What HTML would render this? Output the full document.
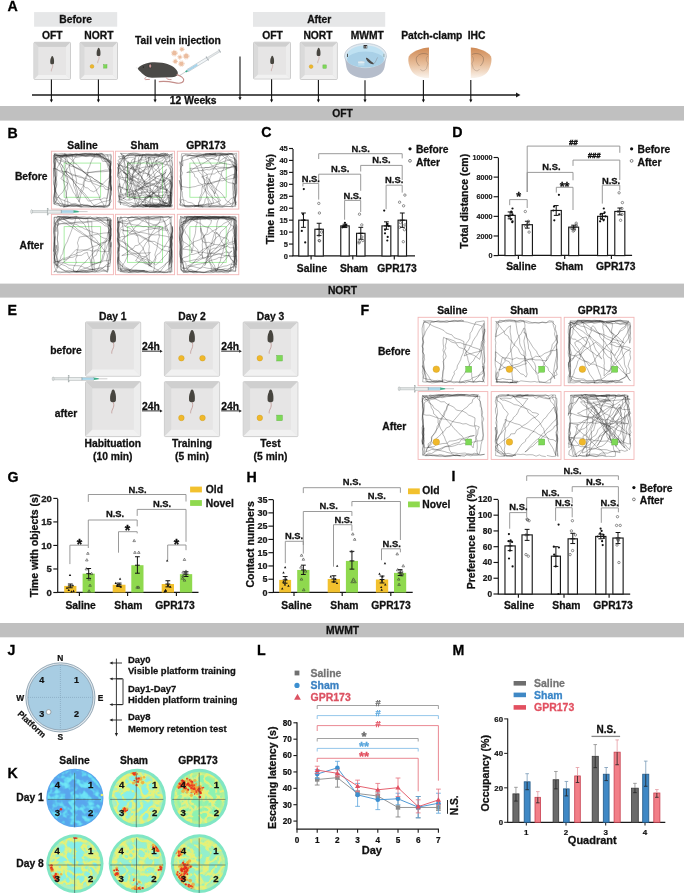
<!DOCTYPE html>
<html><head><meta charset="utf-8"><style>
html,body{margin:0;padding:0;background:#fff;}
svg{display:block;font-family:"Liberation Sans", sans-serif;will-change:transform;}
</style></head><body>
<svg width="685" height="896" viewBox="0 0 685 896">
<defs>
<filter id="blur1" x="-20%" y="-20%" width="140%" height="140%"><feGaussianBlur stdDeviation="0.9"/></filter>
<filter id="blur2" x="-20%" y="-20%" width="140%" height="140%"><feGaussianBlur stdDeviation="0.5"/></filter>
<linearGradient id="brain" x1="0" y1="0" x2="0" y2="1"><stop offset="0" stop-color="#cf8a55"/><stop offset="0.55" stop-color="#e8bf9c"/><stop offset="1" stop-color="#faf3ec"/></linearGradient>
</defs>
<rect width="685" height="896" fill="#fff"/>
<text x="7.60" y="10.90" font-size="14.2" text-anchor="start" fill="#000" stroke="#000" stroke-width="0.28" font-weight="bold" >A</text>
<rect x="34.10" y="12.10" width="83.10" height="14.60" fill="#e6e7e8" stroke="none" stroke-width="1" />
<text x="75.60" y="23.30" font-size="10.3" text-anchor="middle" fill="#111" stroke="#111" stroke-width="0.28" font-weight="bold" >Before</text>
<rect x="253.00" y="12.00" width="132.20" height="14.80" fill="#e6e7e8" stroke="none" stroke-width="1" />
<text x="319.20" y="23.30" font-size="10.3" text-anchor="middle" fill="#111" stroke="#111" stroke-width="0.28" font-weight="bold" >After</text>
<text x="52.20" y="39.20" font-size="10.3" text-anchor="middle" fill="#111" stroke="#111" stroke-width="0.28" font-weight="bold" >OFT</text>
<text x="98.90" y="39.20" font-size="10.3" text-anchor="middle" fill="#111" stroke="#111" stroke-width="0.28" font-weight="bold" >NORT</text>
<text x="272.60" y="39.20" font-size="10.3" text-anchor="middle" fill="#111" stroke="#111" stroke-width="0.28" font-weight="bold" >OFT</text>
<text x="318.00" y="39.20" font-size="10.3" text-anchor="middle" fill="#111" stroke="#111" stroke-width="0.28" font-weight="bold" >NORT</text>
<text x="367.30" y="39.20" font-size="10.3" text-anchor="middle" fill="#111" stroke="#111" stroke-width="0.28" font-weight="bold" >MWMT</text>
<text x="431.80" y="39.20" font-size="10.3" text-anchor="middle" fill="#111" stroke="#111" stroke-width="0.28" font-weight="bold" >Patch-clamp</text>
<text x="476.50" y="39.20" font-size="10.3" text-anchor="middle" fill="#111" stroke="#111" stroke-width="0.28" font-weight="bold" >IHC</text>
<text x="177.90" y="43.60" font-size="10.3" text-anchor="middle" fill="#111" stroke="#111" stroke-width="0.28" font-weight="bold" >Tail vein injection</text>
<rect x="33.90" y="42.30" width="36.60" height="37.10" fill="#e2e2e2" stroke="#c4c4c4" stroke-width="0.8" rx="1"/>
<path d="M34.4,42.8 L70.0,42.8 L65.9,46.9 L38.5,46.9 Z" fill="#cfcfcf" stroke="none" stroke-width="1" />
<path d="M34.4,42.8 L38.5,46.9 L38.5,74.80000000000001 L34.4,78.9 Z" fill="#dadada" stroke="none" stroke-width="1" />
<path d="M70.0,42.8 L70.0,78.9 L65.9,74.80000000000001 L65.9,46.9 Z" fill="#ededed" stroke="none" stroke-width="1" />
<path d="M34.4,78.9 L38.5,74.80000000000001 L65.9,74.80000000000001 L70.0,78.9 Z" fill="#f1f1f1" stroke="none" stroke-width="1" />
<rect x="38.50" y="46.90" width="27.40" height="27.90" fill="#e6e5e5" stroke="none" stroke-width="1" />
<path d="M52.20,56.00 C53.04,56.14 53.32,57.05 53.46,57.75 C54.09,58.80 54.23,61.60 53.95,63.42 C53.25,64.54 51.15,64.54 50.38,63.42 C50.10,61.60 50.24,58.80 51.08,57.75 C51.22,56.98 51.50,56.14 52.20,56.00 Z" fill="#47453f" stroke="none" stroke-width="1" />
<path d="M52.41,64.26 C52.90,66.15 52.62,67.20 51.92,68.60 C51.36,69.65 51.22,70.70 51.36,71.40" fill="none" stroke="#b98a86" stroke-width="0.52" />
<rect x="80.00" y="42.30" width="37.50" height="37.10" fill="#e2e2e2" stroke="#c4c4c4" stroke-width="0.8" rx="1"/>
<path d="M80.5,42.8 L117.0,42.8 L112.9,46.9 L84.6,46.9 Z" fill="#cfcfcf" stroke="none" stroke-width="1" />
<path d="M80.5,42.8 L84.6,46.9 L84.6,74.80000000000001 L80.5,78.9 Z" fill="#dadada" stroke="none" stroke-width="1" />
<path d="M117.0,42.8 L117.0,78.9 L112.9,74.80000000000001 L112.9,46.9 Z" fill="#ededed" stroke="none" stroke-width="1" />
<path d="M80.5,78.9 L84.6,74.80000000000001 L112.9,74.80000000000001 L117.0,78.9 Z" fill="#f1f1f1" stroke="none" stroke-width="1" />
<rect x="84.60" y="46.90" width="28.30" height="27.90" fill="#e6e5e5" stroke="none" stroke-width="1" />
<path d="M98.60,47.80 C99.44,47.94 99.72,48.85 99.86,49.55 C100.49,50.60 100.63,53.40 100.35,55.22 C99.65,56.34 97.55,56.34 96.78,55.22 C96.50,53.40 96.64,50.60 97.48,49.55 C97.62,48.78 97.90,47.94 98.60,47.80 Z" fill="#47453f" stroke="none" stroke-width="1" />
<path d="M98.81,56.06 C99.30,57.95 99.02,59.00 98.32,60.40 C97.76,61.45 97.62,62.50 97.76,63.20" fill="none" stroke="#b98a86" stroke-width="0.52" />
<circle cx="92.0" cy="66.4" r="1.9" fill="#f0b82a" stroke="#c89a20" stroke-width="0.4"/>
<rect x="103.60" y="64.70" width="3.40" height="3.40" fill="#7ed957" stroke="#5cb040" stroke-width="0.4" />
<rect x="253.50" y="42.20" width="37.00" height="36.80" fill="#e2e2e2" stroke="#c4c4c4" stroke-width="0.8" rx="1"/>
<path d="M254.0,42.7 L290.0,42.7 L285.9,46.800000000000004 L258.1,46.800000000000004 Z" fill="#cfcfcf" stroke="none" stroke-width="1" />
<path d="M254.0,42.7 L258.1,46.800000000000004 L258.1,74.4 L254.0,78.5 Z" fill="#dadada" stroke="none" stroke-width="1" />
<path d="M290.0,42.7 L290.0,78.5 L285.9,74.4 L285.9,46.800000000000004 Z" fill="#ededed" stroke="none" stroke-width="1" />
<path d="M254.0,78.5 L258.1,74.4 L285.9,74.4 L290.0,78.5 Z" fill="#f1f1f1" stroke="none" stroke-width="1" />
<rect x="258.10" y="46.80" width="27.80" height="27.60" fill="#e6e5e5" stroke="none" stroke-width="1" />
<path d="M272.20,55.80 C273.04,55.94 273.32,56.85 273.46,57.55 C274.09,58.60 274.23,61.40 273.95,63.22 C273.25,64.34 271.15,64.34 270.38,63.22 C270.10,61.40 270.24,58.60 271.08,57.55 C271.22,56.78 271.50,55.94 272.20,55.80 Z" fill="#47453f" stroke="none" stroke-width="1" />
<path d="M272.41,64.06 C272.90,65.95 272.62,67.00 271.92,68.40 C271.36,69.45 271.22,70.50 271.36,71.20" fill="none" stroke="#b98a86" stroke-width="0.52" />
<rect x="300.20" y="42.20" width="37.10" height="37.30" fill="#e2e2e2" stroke="#c4c4c4" stroke-width="0.8" rx="1"/>
<path d="M300.7,42.7 L336.8,42.7 L332.7,46.800000000000004 L304.8,46.800000000000004 Z" fill="#cfcfcf" stroke="none" stroke-width="1" />
<path d="M300.7,42.7 L304.8,46.800000000000004 L304.8,74.9 L300.7,79.0 Z" fill="#dadada" stroke="none" stroke-width="1" />
<path d="M336.8,42.7 L336.8,79.0 L332.7,74.9 L332.7,46.800000000000004 Z" fill="#ededed" stroke="none" stroke-width="1" />
<path d="M300.7,79.0 L304.8,74.9 L332.7,74.9 L336.8,79.0 Z" fill="#f1f1f1" stroke="none" stroke-width="1" />
<rect x="304.80" y="46.80" width="27.90" height="28.10" fill="#e6e5e5" stroke="none" stroke-width="1" />
<path d="M318.60,47.80 C319.44,47.94 319.72,48.85 319.86,49.55 C320.49,50.60 320.63,53.40 320.35,55.22 C319.65,56.34 317.55,56.34 316.78,55.22 C316.50,53.40 316.64,50.60 317.48,49.55 C317.62,48.78 317.90,47.94 318.60,47.80 Z" fill="#47453f" stroke="none" stroke-width="1" />
<path d="M318.81,56.06 C319.30,57.95 319.02,59.00 318.32,60.40 C317.76,61.45 317.62,62.50 317.76,63.20" fill="none" stroke="#b98a86" stroke-width="0.52" />
<circle cx="311.1" cy="66.6" r="1.9" fill="#f0b82a" stroke="#c89a20" stroke-width="0.4"/>
<rect x="322.90" y="64.90" width="3.40" height="3.40" fill="#7ed957" stroke="#5cb040" stroke-width="0.4" />
<line x1="32.00" y1="95.10" x2="517.00" y2="95.10" stroke="#1a1a1a" stroke-width="1.5" />
<path d="M516,92.6 L520.5,95.1 L516,97.6 Z" fill="#1a1a1a" stroke="none" stroke-width="1" />
<line x1="51.40" y1="79.60" x2="51.40" y2="99.90" stroke="#111" stroke-width="1.1" />
<path d="M49.80,99.40 L53.00,99.40 L51.40,102.40 Z" fill="#111" stroke="none" stroke-width="1" />
<line x1="98.40" y1="79.60" x2="98.40" y2="99.90" stroke="#111" stroke-width="1.1" />
<path d="M96.80,99.40 L100.00,99.40 L98.40,102.40 Z" fill="#111" stroke="none" stroke-width="1" />
<line x1="155.10" y1="79.50" x2="155.10" y2="99.90" stroke="#111" stroke-width="1.1" />
<path d="M153.50,99.40 L156.70,99.40 L155.10,102.40 Z" fill="#111" stroke="none" stroke-width="1" />
<line x1="271.60" y1="79.20" x2="271.60" y2="99.90" stroke="#111" stroke-width="1.1" />
<path d="M270.00,99.40 L273.20,99.40 L271.60,102.40 Z" fill="#111" stroke="none" stroke-width="1" />
<line x1="318.40" y1="80.00" x2="318.40" y2="99.90" stroke="#111" stroke-width="1.1" />
<path d="M316.80,99.40 L320.00,99.40 L318.40,102.40 Z" fill="#111" stroke="none" stroke-width="1" />
<line x1="365.00" y1="80.20" x2="365.00" y2="99.90" stroke="#111" stroke-width="1.1" />
<path d="M363.40,99.40 L366.60,99.40 L365.00,102.40 Z" fill="#111" stroke="none" stroke-width="1" />
<line x1="423.40" y1="80.00" x2="423.40" y2="99.90" stroke="#111" stroke-width="1.1" />
<path d="M421.80,99.40 L425.00,99.40 L423.40,102.40 Z" fill="#111" stroke="none" stroke-width="1" />
<line x1="470.80" y1="80.00" x2="470.80" y2="99.90" stroke="#111" stroke-width="1.1" />
<path d="M469.20,99.40 L472.40,99.40 L470.80,102.40 Z" fill="#111" stroke="none" stroke-width="1" />
<line x1="240.00" y1="56.40" x2="240.00" y2="97.70" stroke="#111" stroke-width="1.1" />
<path d="M238.40,97.20 L241.60,97.20 L240.00,100.20 Z" fill="#111" stroke="none" stroke-width="1" />
<text x="193.20" y="103.50" font-size="10.3" text-anchor="middle" fill="#111" stroke="#111" stroke-width="0.28" font-weight="bold" >12 Weeks</text>
<path d="M137.8,68.4 C138.8,66.4 142.0,64.4 146.0,63.4 C150.5,61.9 156.5,62.0 162.0,62.8 C169.5,63.8 176.0,67.4 177.6,71.8 C178.6,75.2 176.2,77.0 172.0,77.3 L152.0,77.7 C147.0,77.7 143.0,74.6 141.0,72.2 C139.6,70.6 137.8,69.6 137.8,68.4 Z" fill="#4b4a47" stroke="none" stroke-width="1" />
<path d="M146,77.2 C145,78.2 144.2,79.2 145.5,79.6 L149.8,79.4" fill="none" stroke="#c99896" stroke-width="1.0" />
<path d="M166,77.2 C166.6,78.8 167.8,79.8 171.5,79.6" fill="none" stroke="#c99896" stroke-width="1.0" />
<ellipse cx="150.0" cy="65.6" rx="1.9" ry="2.7" fill="#3e3d3a"/>
<ellipse cx="150.2" cy="66.0" rx="1.1" ry="1.8" fill="#c99494"/>
<circle cx="143.4" cy="67.0" r="0.6" fill="#151515"/>
<path d="M176.6,74.6 C180.5,75.6 184.6,78.4 183.6,80.8 C182.6,83.4 178.6,83.6 174.5,82.6 C170.0,81.6 164.0,81.0 158.8,81.6" fill="none" stroke="#c48e8a" stroke-width="1.1" />
<line x1="137.90" y1="68.30" x2="135.90" y2="67.60" stroke="#bbb" stroke-width="0.3" />
<circle cx="174.4" cy="53.2" r="2.4" fill="#ebbd9f"/>
<circle cx="174.4" cy="53.2" r="2.9" fill="none" stroke="#ebbd9f" stroke-width="0.9" stroke-dasharray="0.7 0.8"/>
<circle cx="181.9" cy="49.2" r="1.8" fill="#ebbd9f"/>
<circle cx="181.9" cy="49.2" r="2.2" fill="none" stroke="#ebbd9f" stroke-width="0.9" stroke-dasharray="0.7 0.8"/>
<circle cx="186.2" cy="56.2" r="2.4" fill="#ebbd9f"/>
<circle cx="186.2" cy="56.2" r="2.9" fill="none" stroke="#ebbd9f" stroke-width="0.9" stroke-dasharray="0.7 0.8"/>
<circle cx="179.9" cy="57.1" r="1.7" fill="#ebbd9f"/>
<circle cx="179.9" cy="57.1" r="2.1" fill="none" stroke="#ebbd9f" stroke-width="0.9" stroke-dasharray="0.7 0.8"/>
<circle cx="175.3" cy="61.4" r="1.8" fill="#ebbd9f"/>
<circle cx="175.3" cy="61.4" r="2.2" fill="none" stroke="#ebbd9f" stroke-width="0.9" stroke-dasharray="0.7 0.8"/>
<circle cx="181.4" cy="63.7" r="2.3" fill="#ebbd9f"/>
<circle cx="181.4" cy="63.7" r="2.8" fill="none" stroke="#ebbd9f" stroke-width="0.9" stroke-dasharray="0.7 0.8"/>
<g transform="translate(179.6,75.5) rotate(-31.5)">
<line x1="0.00" y1="0.00" x2="7.00" y2="0.00" stroke="#a0a6aa" stroke-width="0.5" />
<line x1="7.00" y1="0.00" x2="9.50" y2="0.00" stroke="#3aa88c" stroke-width="1.6" />
<rect x="9.50" y="-1.30" width="23.00" height="2.60" fill="#f2f6f8" stroke="#a0a8ae" stroke-width="0.45" />
<rect x="9.80" y="-0.95" width="11.00" height="1.90" fill="#a7d4ea" stroke="none" stroke-width="1" />
<line x1="32.50" y1="-2.40" x2="32.50" y2="2.40" stroke="#a0a8ae" stroke-width="0.9" />
<rect x="32.50" y="-0.90" width="14.50" height="1.80" fill="#e4e8ea" stroke="#a8aeb2" stroke-width="0.35" />
<line x1="47.00" y1="-1.90" x2="47.00" y2="1.90" stroke="#a8aeb2" stroke-width="1.0" />
</g>
<path d="M344.6,55.8 L346.4,67.0 C347.5,74.2 356,78.2 365.5,78.2 C375,78.2 383.5,74.2 384.6,67.0 L386.5,55.8 Z" fill="#b5bdcb" stroke="none" stroke-width="1" />
<ellipse cx="365.5" cy="55.8" rx="20.9" ry="12.4" fill="#dfe9f0" stroke="#b0bac6" stroke-width="0.6"/>
<ellipse cx="365.5" cy="56.4" rx="19.2" ry="10.8" fill="#bfe1f2"/>
<ellipse cx="365.5" cy="59.6" rx="18.4" ry="8.0" fill="#a9d0e7"/>
<ellipse cx="361.3" cy="62.4" rx="3.3" ry="1.1" fill="#f6f8fa" stroke="#b8c0c8" stroke-width="0.3"/>
<rect x="358.20" y="62.40" width="6.20" height="3.20" fill="#c8e2f0" stroke="none" stroke-width="1" opacity="0.7"/>
<path d="M366.0,57.8 C367.6,57.6 369.4,59.6 371.0,61.2 C372.4,62.4 374.2,63.0 373.8,64.2 C372.0,64.8 369.6,63.4 368.0,61.8 C366.8,60.4 365.6,58.8 366.0,57.8 Z" fill="#4d4a48" stroke="none" stroke-width="1" />
<path d="M373.8,63.6 C375.6,62.8 376.0,60.0 377.6,57.4" fill="none" stroke="#7a6a6a" stroke-width="0.35" />
<rect x="363.60" y="45.00" width="3.60" height="3.40" fill="#222" stroke="none" stroke-width="1" />
<rect x="364.50" y="45.90" width="0.90" height="0.80" fill="#fff" stroke="none" stroke-width="1" />
<rect x="366.00" y="45.90" width="0.90" height="0.80" fill="#fff" stroke="none" stroke-width="1" />
<rect x="364.50" y="47.40" width="0.90" height="0.80" fill="#fff" stroke="none" stroke-width="1" />
<rect x="366.00" y="47.40" width="0.90" height="0.80" fill="#fff" stroke="none" stroke-width="1" />
<rect x="347.00" y="53.80" width="0.90" height="3.20" fill="#444" stroke="none" stroke-width="1" />
<rect x="383.40" y="53.80" width="1.00" height="3.20" fill="#9aa" stroke="none" stroke-width="1" />
<path d="M429.0,47.6 C421.5,48.0 412.0,51.5 408.8,56.5 C407.5,60.5 409.0,67.0 412.0,71.5 C415.0,75.5 420.0,78.2 429.0,78.0 Z" fill="url(#brain)" stroke="none" stroke-width="1" />
<path d="M428,54.5 C424,52.5 418.5,53.5 416.5,57.5 C415.5,61 417.5,64 419.5,66" fill="none" stroke="#5a4a40" stroke-width="0.35" />
<path d="M428,56.0 C425.5,57.5 426,61.5 428,63.0 L426.5,68.5 C424,72 421,71 420.5,69" fill="none" stroke="#7a6a60" stroke-width="0.3" />
<path d="M470.8,47.6 C478.3,48.0 487.8,51.5 491.0,56.5 C492.3,60.5 490.8,67.0 487.8,71.5 C484.8,75.5 479.8,78.2 470.8,78.0 Z" fill="url(#brain)" stroke="none" stroke-width="1" />
<path d="M471.8,54.5 C475.8,52.5 481.3,53.5 483.3,57.5 C484.3,61 482.3,64 480.3,66" fill="none" stroke="#5a4a40" stroke-width="0.35" />
<path d="M471.8,56.0 C474.3,57.5 473.8,61.5 471.8,63.0 L473.3,68.5 C475.8,72 478.8,71 479.3,69" fill="none" stroke="#7a6a60" stroke-width="0.3" />
<rect x="0.00" y="106.00" width="684.00" height="14.60" fill="#c0c0c0" stroke="none" stroke-width="1" />
<text x="342.50" y="117.20" font-size="10.3" text-anchor="middle" fill="#111" stroke="#111" stroke-width="0.28" font-weight="bold" >OFT</text>
<rect x="0.00" y="283.60" width="684.00" height="14.00" fill="#c0c0c0" stroke="none" stroke-width="1" />
<text x="342.50" y="294.20" font-size="10.3" text-anchor="middle" fill="#111" stroke="#111" stroke-width="0.28" font-weight="bold" >NORT</text>
<rect x="0.00" y="623.00" width="684.00" height="14.30" fill="#c0c0c0" stroke="none" stroke-width="1" />
<text x="342.50" y="633.90" font-size="10.3" text-anchor="middle" fill="#111" stroke="#111" stroke-width="0.28" font-weight="bold" >MWMT</text>
<text x="7.60" y="137.60" font-size="14.2" text-anchor="start" fill="#000" stroke="#000" stroke-width="0.28" font-weight="bold" >B</text>
<text x="82.50" y="148.90" font-size="10.3" text-anchor="middle" fill="#111" stroke="#111" stroke-width="0.28" font-weight="bold" >Saline</text>
<text x="144.60" y="148.90" font-size="10.3" text-anchor="middle" fill="#111" stroke="#111" stroke-width="0.28" font-weight="bold" >Sham</text>
<text x="205.90" y="148.90" font-size="10.3" text-anchor="middle" fill="#111" stroke="#111" stroke-width="0.28" font-weight="bold" >GPR173</text>
<text x="31.20" y="180.40" font-size="10.3" text-anchor="middle" fill="#111" stroke="#111" stroke-width="0.28" font-weight="bold" >Before</text>
<text x="31.60" y="249.00" font-size="10.3" text-anchor="middle" fill="#111" stroke="#111" stroke-width="0.28" font-weight="bold" >After</text>
<rect x="51.40" y="151.20" width="62.00" height="57.90" fill="#fff" stroke="#f2b6b6" stroke-width="0.9" />
<rect x="64.11" y="163.07" width="36.58" height="34.16" fill="none" stroke="#8fe88a" stroke-width="0.75" />
<path d="M106.7,154.9 L110.9,154.2 L111.4,156.9 L111.0,160.7 L110.8,164.9 L110.1,168.1 L110.8,171.4 L110.9,174.3 L110.9,178.3 L111.3,181.1 L110.8,183.9 L110.8,187.2 L111.0,191.5 L109.9,195.6 L109.6,199.5 L109.9,202.6 L108.0,207.0 L104.1,207.1 L100.1,205.9 L97.4,206.1 L94.1,206.4 L91.6,206.6 L87.4,204.8 L84.0,205.5 L81.8,204.7 L77.6,205.7 L74.8,204.8 L71.2,204.4 L67.0,206.5 L63.2,207.1 L66.8,206.1 L70.7,206.7 L73.2,206.1 L76.6,205.8 L80.2,205.1 L83.2,204.3 L88.1,205.8 L91.3,206.9 L94.7,205.1 L97.4,204.1 L100.3,202.6 L103.0,201.7 L106.8,201.0 L110.0,199.9 L109.9,196.4 L109.5,193.2 L110.7,189.4 L110.0,185.7 L110.1,182.4 L110.6,178.7 L109.9,175.8 L110.2,171.9 L109.8,167.3 L109.9,164.1 L109.7,160.7 L106.1,159.1 L102.9,156.6 L99.4,154.7 L96.2,154.4 L91.7,153.4 L87.3,153.8 L83.4,153.5 L79.1,153.9 L74.7,154.3 L71.4,155.5 L68.4,156.1 L65.4,156.8 L61.1,157.3 L58.8,157.7 L54.6,158.9 L59.2,155.7 L62.7,154.7 L66.3,155.3 L69.0,155.9 L72.3,154.8 L72.4,158.3 L73.9,161.9 L73.1,164.6 L74.1,168.1 L74.9,172.2 L75.4,174.9 L76.4,179.3 L76.4,181.4 L75.6,185.9 L76.5,188.4 L77.5,191.9 L77.7,195.0 L79.1,198.2 L79.0,202.0 L79.9,199.0 L80.6,195.5 L81.7,192.3 L83.6,189.0 L83.9,185.8 L84.2,182.6 L85.4,179.6 L87.3,175.8 L88.3,172.5 L91.0,172.3 L94.7,171.6 L98.2,171.2 L101.4,170.8 L105.3,170.1 L108.2,170.1 L111.0,169.4 L110.2,172.5 L110.7,175.9 L110.4,178.6 L110.0,182.5 L109.8,178.7 L110.4,173.9 L109.6,170.3 L109.8,167.3 L108.4,164.1 L107.9,161.0 L108.4,157.7 L107.3,154.6 L104.3,154.3 L101.2,153.9 L97.2,154.8 L94.4,154.8 L90.0,153.3 L87.3,153.4 L83.7,153.4 L80.4,153.9 L76.3,155.1 L79.8,155.2 L82.9,155.6 L85.9,155.7 L90.0,154.7 L95.0,157.0 L98.9,157.7 L101.9,157.9 L106.0,158.9 L109.1,159.3 L109.3,162.2 L109.1,166.4 L109.4,169.7 L110.3,173.0 L110.5,175.9 L110.2,179.4 L109.7,182.5 L110.5,186.1 L110.0,190.5 L111.1,194.0 L110.1,197.2 L111.3,201.3 L108.9,204.7 L106.2,206.9 L102.5,206.6 L98.5,206.8 L94.8,206.2 L91.9,206.6 L88.0,205.7 L84.3,205.7 L81.7,206.8 L76.8,205.9 L73.1,206.1 L70.7,205.5 L66.3,206.2 L63.9,205.9 L60.1,206.4 L58.3,203.3 L55.1,201.4 L53.6,197.7 L54.1,194.7 L54.7,189.8 L54.3,186.9 L55.2,183.1 L55.5,179.0 L56.0,174.8 L56.2,171.2 L55.1,167.8 L55.5,164.6 L55.6,160.3 L54.7,156.8 L54.7,153.2 L60.3,156.2 L63.8,155.3 L67.0,156.6 L70.1,155.2 L74.0,155.8 L76.7,156.0 L80.8,155.0 L84.3,155.0 L86.4,155.4 L90.7,154.7 L93.1,155.3 L96.2,155.3 L100.5,154.7 L103.0,154.2 L105.1,156.8 L107.7,160.5 L110.1,163.2 L109.7,166.4 L110.0,169.3 L110.1,173.9 L109.4,176.7 L109.8,179.9 L109.1,183.0 L108.6,186.9 L108.2,190.9 L107.6,194.6 L106.9,197.5 L106.3,202.3 L105.6,205.8 L101.4,206.3 L98.8,206.4 L95.3,206.1 L91.1,206.5 L88.4,207.1 L84.2,207.1 L80.4,207.1 L76.4,205.7 L73.9,205.8 L71.2,205.3 L67.1,204.8 L65.2,204.8 L61.3,204.3 L59.1,201.9 L56.8,199.0 L54.5,197.3 L54.6,194.0 L54.5,190.3 L54.6,187.8 L54.1,184.7 L53.4,181.0 L53.4,178.9 L53.6,174.6 L53.9,171.1 L53.4,168.4 L56.6,169.1 L59.5,171.4 L62.1,172.9 L65.0,175.2 L68.1,176.9 L70.9,178.9 L73.4,179.6 L75.8,182.1 L79.1,183.9 L82.2,184.6 L85.5,187.6 L87.8,188.0 L90.4,190.5 L93.7,191.8 L96.9,189.9 L98.9,187.4 L101.2,185.3 L103.7,182.9 L105.9,180.8 L108.4,178.2 L110.6,176.2 L110.7,179.7 L110.6,183.7 L111.4,187.3 L111.4,190.8 L111.4,187.4 L111.1,184.9 L110.8,180.8 L111.1,176.7 L110.1,174.4 L110.5,170.2 L110.3,167.3 L110.5,163.5 L108.5,161.3 L106.6,158.7 L104.4,155.6 L102.3,153.6 L99.4,153.2 L95.9,154.7 L92.3,155.9 L89.4,155.8 L85.9,156.4 L82.7,155.0 L78.9,154.5 L75.9,154.3 L72.7,155.0 L68.8,155.7 L65.8,155.4 L62.4,156.5 L59.0,156.0 L55.9,156.9 L56.2,160.9 L55.4,164.0 L55.0,167.4 L54.6,169.9 L55.6,173.5 L56.0,176.7 L55.3,180.8 L56.1,183.8 L56.0,186.8 L55.8,190.0 L56.1,193.3 L55.6,196.4 L54.5,200.5 L54.4,203.6 L56.3,200.8 L57.6,197.9 L59.6,195.0 L62.3,192.7 L64.4,189.1 L65.9,186.4 L67.8,183.2 L64.2,181.1 L60.8,178.5 L62.4,176.1 L64.5,172.8 L67.0,169.3 L68.8,166.6 L70.2,163.9 L72.6,161.0 L74.3,158.7 L76.6,155.4 L73.6,155.2 L69.8,154.5 L67.9,155.2 L63.8,155.7 L60.2,156.0 L57.7,155.4 L53.5,155.5 L54.6,157.2 L58.1,161.8 L59.0,162.8 L61.7,164.9 L64.6,169.2 L65.6,171.9 L67.7,174.9 L70.2,176.8 L72.4,179.5 L73.8,182.3 L75.6,184.6 L78.2,187.6 L79.3,190.3 L82.3,192.9 L84.6,195.9 L86.3,198.4 L88.3,201.1 L90.8,200.8 L95.0,199.6 L98.0,199.3 L100.9,199.5 L103.9,197.9 L107.4,198.4 L107.8,195.0 L108.5,192.1 L108.2,188.3 L109.1,185.1 L109.2,181.2 L110.3,178.2 L110.0,175.0 L110.2,171.7 L110.5,168.3 L110.6,162.9 L107.5,161.2 L105.4,159.3 L101.6,156.7 L99.9,154.9 L96.3,153.4 L98.7,155.4 L101.6,156.7 L105.3,159.1 L108.0,160.9 L110.9,161.8 L110.9,164.8 L109.9,169.1 L110.3,172.6 L109.4,174.6 L109.3,179.3 L109.2,183.3 L109.4,186.0 L109.0,189.9 L105.3,189.2 L103.6,186.5 L100.0,186.1 L96.6,184.7 L93.8,183.7 L90.9,181.5 L88.7,181.6 L84.9,180.3 L83.2,178.0 L79.1,177.2 L76.6,176.0 L72.7,175.5 L70.2,174.0 L68.4,172.1 L64.4,171.2 L66.9,173.9 L68.8,176.2 L71.3,179.2 L73.5,181.1 L74.5,183.1 L77.0,186.5 L79.8,188.8 L81.9,191.1 L84.7,193.6 L86.9,196.5 L88.7,198.9 L90.7,201.4 L92.8,204.3 L95.1,206.2 L100.6,207.0 L104.2,207.1 L109.5,205.5 L110.0,202.2 L110.4,198.7 L110.8,194.8 L110.7,190.9 L111.1,187.6 L110.1,185.1 L110.1,181.0 L110.8,177.7 L110.5,174.9 L111.0,170.4 L110.4,167.8 L110.5,164.5 L111.0,161.0 L106.9,160.0 L104.6,158.1 L99.8,156.4 L94.4,154.1 L94.1,157.4 L92.4,159.1 L90.6,163.1 L89.6,166.5 L87.9,169.8 L87.6,173.5 L85.8,176.7 L84.5,179.6 L83.2,182.9 L83.5,185.5 L81.8,188.1 L79.8,193.1 L78.8,195.3 L77.7,198.2 L76.6,195.6 L75.9,191.4 L75.3,189.7 L73.4,185.1 L73.5,182.3 L72.6,178.5 L72.3,176.2 L70.9,173.3 L69.9,170.3 L69.4,166.8 L69.2,163.9 L67.5,160.9 L66.5,157.0 L66.2,154.1 L61.8,153.4 L58.2,154.0 L54.6,154.1 L54.6,157.3 L54.7,161.3 L54.3,164.6 L53.8,167.4 L53.4,171.3 L53.9,174.1 L55.7,177.4 L56.8,181.2 L56.9,184.9 L55.2,189.3 L54.6,192.7 L54.1,197.5 L53.7,201.5 L56.9,203.6 L61.6,203.7 L64.3,204.2 L68.1,206.1 L67.8,201.9 L67.4,199.6 L66.1,195.6 L66.2,193.0 L65.1,189.3 L64.9,186.1 L64.1,183.4 L63.4,179.4 L63.0,176.3 L63.0,173.3 L61.5,169.3 L62.7,166.0 L60.4,163.1 L60.7,159.9 L59.7,156.4 L62.6,157.1 L65.6,159.3 L67.9,161.7 L70.1,163.5 L73.5,165.9 L76.1,167.6 L78.8,168.4 L81.6,170.0 L84.0,172.3 L87.1,173.9 L88.7,176.1 L92.1,177.1 L94.3,179.2 L97.5,181.0 L100.0,183.1 L102.7,184.4 L105.5,186.4 L107.8,187.5 L110.8,189.4 L110.6,185.8 L110.3,181.6 L110.5,178.3 L110.3,175.8 L110.9,171.8 L110.5,167.9 L108.1,165.0 L106.4,161.5 L102.6,161.3 L100.8,157.5 L98.8,154.8 L95.4,153.8 L92.0,154.0 L89.0,154.8 L85.2,153.7 L82.3,154.3 L78.8,154.7 L75.7,153.9 L72.7,154.3 L69.7,155.3 L65.4,155.6 L62.6,156.7 L58.5,157.0 L55.1,158.1 L54.2,161.4 L54.6,164.7 L54.1,168.6 L54.2,172.6 L53.8,175.6 L54.5,179.4 L53.9,182.8 L54.9,187.8 L55.2,191.2 L55.1,196.9 L59.1,197.8 L61.8,199.6 L66.2,201.3 L68.9,202.2 L71.7,203.9 L75.1,203.3 L79.2,205.2 L82.2,204.9 L84.5,206.0 L88.8,206.8 L93.0,207.1 L96.2,207.0 L99.1,205.8 L103.0,205.3 L106.8,205.5 L109.9,205.1 L109.1,203.4 L109.3,201.1 L110.3,197.0 L111.3,193.9 L111.3,190.4 L111.4,188.3 L110.6,183.4 L110.4,180.3 L109.5,177.0 L109.7,173.7 L109.7,170.5 L108.1,167.8 L106.9,163.3 L105.2,160.8 L103.3,156.7 L101.7,153.3 L98.1,153.9 L93.9,154.2 L90.8,154.6 L87.1,154.7 L83.4,155.1 L79.6,156.0 L76.5,155.9 L73.3,156.0 L69.7,156.3 L65.4,155.8 L61.9,155.7 L57.6,155.6 L53.8,155.1 L53.7,158.4 L53.8,161.5 L54.7,166.0 L55.1,168.5 L55.0,172.6 L55.0,175.1 L55.5,178.9 L54.0,184.3 L54.8,187.3 L55.5,190.5 L54.3,193.8 L54.0,196.9 L53.4,200.5 L53.5,203.7 L56.6,204.9 L60.3,205.7 L64.1,206.6 L66.3,206.8 L71.2,204.9 L75.3,204.5 L78.1,205.0 L81.4,206.5 L80.3,203.3 L78.2,200.0 L76.4,198.0 L75.2,194.6 L73.4,192.4 L72.1,189.3 L70.6,186.2 L68.6,182.3 L68.0,179.8 L66.0,177.3 L64.7,174.1 L62.3,170.7 L61.3,168.4 L60.0,165.3 L57.8,162.2 L56.6,159.2 L60.2,160.7 L62.5,161.4 L65.3,162.8 L68.3,164.8 L71.4,166.4 L73.7,166.6 L77.6,168.9 L79.5,169.8 L82.4,171.1 L85.8,172.4 L88.3,172.5 L93.7,172.2 L95.7,172.0 L99.9,171.7 L102.5,171.7 L107.4,171.4 L110.5,170.9 L110.8,167.3 L110.9,162.8 L110.6,159.8 L110.9,155.6 L107.3,156.1 L104.4,155.7 L101.4,156.4 L97.1,156.3 L94.0,155.9 L90.6,155.9 L86.7,156.6 L82.8,156.2 L79.5,156.8 L76.2,157.4 L73.7,156.4 L69.6,156.8 L66.6,157.2 L63.0,156.2 L59.7,155.5 L57.2,155.5 L53.7,154.1 L57.4,155.1 L60.3,154.8 L64.7,154.8 L67.1,154.6 L70.5,153.9 L74.3,154.7 L77.6,154.4 L81.1,154.6 L85.5,153.9 L89.5,153.6 L92.6,154.2 L96.5,155.0 L101.1,155.3 L96.5,154.4 L92.7,154.4 L89.3,154.5 L85.5,154.4 L82.1,154.6 L79.3,154.7 L74.8,154.6 L70.4,154.1 L64.4,154.0 L61.7,158.0 L60.8,161.7 L59.3,163.9 L57.0,168.2 L56.9,171.4 L56.9,175.8 L55.8,179.1 L55.4,182.3 L54.7,186.1 L54.3,189.8 L57.6,194.8 L58.8,197.2 L61.0,200.7 L62.9,204.3 L64.4,206.8 L65.1,203.2 L64.7,200.3 L66.3,197.7 L66.5,193.1 L66.6,191.1 L67.7,188.4 L67.6,184.4 L66.9,180.6 L67.6,177.6 L66.2,175.1 L66.7,170.7 L65.3,166.4 L66.2,163.6 L65.4,160.9 L65.2,156.8 L64.6,153.7 L66.7,155.4 L68.9,157.6 L71.6,159.5 L74.0,162.9 L77.0,164.5 L79.4,167.5 L81.1,168.6 L83.5,171.6 L85.9,174.1 L88.3,175.9 L90.2,178.1 L91.1,181.2 L92.9,184.6 L94.7,186.2 L96.4,189.7 L97.2,192.6 L98.8,195.1 L100.0,199.0 L101.1,201.0 L103.3,203.8 L104.4,207.1 L101.2,206.8 L97.1,206.8 L93.5,206.9 L90.2,205.6 L86.0,205.6 L80.4,206.5 L77.5,206.2 L74.8,206.1 L70.1,205.9 L67.8,205.3 L64.0,205.8 L60.4,205.4 L57.3,203.6 L54.3,204.2 L55.9,201.3 L56.7,197.0 L55.9,193.1 L55.3,190.2 L56.0,185.9 L55.6,182.7 L56.1,179.1 L55.0,176.5 L55.2,171.9 L54.8,169.7 L54.8,165.9 L54.9,162.8 L54.8,159.4 L56.2,155.0 L58.7,157.0 L61.5,158.9 L63.6,161.0 L67.1,161.7 L70.0,163.5 L72.3,165.4 L74.7,167.3 L77.6,168.5 L81.6,170.3 L83.1,171.8 L86.0,173.7 L88.4,175.5 L92.8,178.0 L93.8,179.1 L97.3,180.8 L98.9,182.4 L102.5,184.3 L98.9,183.0 L95.6,181.6 L93.1,181.1 L88.7,179.6 L86.1,178.5 L83.3,177.8 L80.2,176.2 L76.5,175.6 L73.5,174.5 L70.1,173.6 L68.0,172.2 L63.3,171.6 L60.4,170.8 L58.1,170.1 L54.4,168.3 L53.5,162.1 L53.7,156.6 L57.7,155.6 L61.1,155.6 L63.7,155.5 L66.9,154.9 L70.3,154.5 L73.2,154.5 L76.9,154.1 L79.6,154.9 L83.2,155.8 L87.9,155.6 L90.3,155.8 L93.4,156.9 L96.6,156.3 L100.8,156.9 L103.1,159.4 L105.6,160.9 L109.0,162.3" fill="none" stroke="#222" stroke-width="0.3" stroke-linejoin="round"/>
<rect x="115.40" y="151.20" width="59.20" height="57.90" fill="#fff" stroke="#f2b6b6" stroke-width="0.9" />
<rect x="127.54" y="163.07" width="34.93" height="34.16" fill="none" stroke="#8fe88a" stroke-width="0.75" />
<path d="M168.9,154.6 L166.0,154.2 L161.7,154.1 L157.7,154.3 L154.5,154.3 L157.3,155.2 L160.1,155.7 L164.0,156.2 L165.6,159.0 L166.4,161.7 L168.0,165.0 L169.5,168.0 L171.1,170.9 L169.6,173.4 L167.8,176.1 L164.7,179.5 L163.2,182.5 L166.0,179.9 L167.4,176.8 L169.1,173.9 L171.5,171.7 L171.6,176.4 L172.2,180.8 L171.9,183.2 L172.0,187.5 L172.6,190.8 L172.6,194.0 L172.0,197.6 L171.7,200.5 L171.2,202.8 L169.6,206.7 L168.6,206.0 L166.2,205.6 L161.2,205.1 L158.5,204.6 L154.9,204.2 L151.0,203.4 L147.6,203.1 L144.7,202.0 L140.6,201.7 L137.5,203.2 L134.6,204.6 L131.3,206.0 L136.3,205.7 L135.1,201.6 L134.5,199.4 L132.6,196.6 L131.4,193.4 L130.2,191.3 L128.2,187.5 L127.5,184.6 L126.2,181.6 L128.0,184.7 L130.1,187.4 L131.7,190.6 L133.4,193.3 L134.7,196.0 L136.0,199.7 L138.0,203.6 L139.5,205.8 L141.7,202.6 L143.8,200.1 L145.2,197.5 L147.5,196.5 L149.9,192.8 L152.9,190.1 L153.7,187.6 L156.0,185.0 L158.6,182.4 L160.2,180.1 L161.6,176.9 L164.0,173.8 L166.1,172.2 L163.4,174.6 L161.0,175.9 L156.7,176.6 L154.5,179.4 L152.7,180.5 L150.0,182.7 L145.9,184.3 L143.6,186.7 L140.9,187.0 L138.0,189.4 L135.0,190.9 L132.9,193.1 L129.5,195.3 L126.0,197.1 L124.2,197.8 L121.1,200.1 L121.0,196.7 L120.9,193.8 L120.6,189.7 L119.0,187.1 L119.6,183.4 L120.3,188.0 L120.8,191.4 L123.0,195.6 L123.5,198.6 L125.3,196.3 L125.7,193.1 L127.5,189.3 L128.6,186.7 L129.6,184.2 L131.6,181.2 L132.4,178.1 L132.7,174.6 L134.9,171.8 L136.4,169.6 L137.7,166.5 L139.1,163.8 L140.1,159.9 L141.6,157.8 L143.3,154.4 L139.8,155.1 L135.8,155.6 L134.9,158.8 L134.6,162.2 L133.4,166.4 L134.0,169.7 L133.0,172.9 L132.8,175.9 L132.9,179.0 L131.9,181.9 L131.3,186.0 L130.1,189.2 L129.1,192.4 L129.6,195.1 L129.0,199.6 L130.8,197.5 L133.5,195.4 L136.0,191.9 L138.1,190.2 L140.7,188.0 L143.9,184.6 L144.8,183.7 L148.1,180.3 L151.2,178.5 L153.6,176.6 L155.6,173.3 L157.8,171.3 L160.1,169.9 L162.7,167.0 L165.4,165.9 L167.5,162.8 L169.8,159.9 L172.5,157.6 L169.8,156.6 L166.0,156.8 L162.1,157.1 L159.4,156.2 L155.4,154.5 L152.6,154.4 L148.9,153.9 L145.7,154.4 L142.4,154.7 L141.9,157.8 L140.6,162.0 L140.4,164.1 L139.6,167.2 L138.9,170.1 L138.8,174.2 L139.2,176.7 L137.9,180.5 L138.1,183.2 L137.2,186.0 L135.4,189.4 L136.0,192.7 L135.1,196.0 L134.5,199.1 L133.8,196.0 L133.0,192.1 L132.5,189.3 L131.8,186.8 L130.1,182.6 L129.8,180.1 L130.0,176.9 L128.9,173.0 L128.9,169.2 L127.7,166.5 L127.7,163.5 L131.5,162.6 L135.0,161.6 L136.9,161.5 L140.1,159.7 L144.3,160.1 L146.2,159.0 L150.0,157.7 L151.2,160.8 L152.1,164.4 L151.7,167.2 L152.8,170.2 L153.9,173.7 L154.8,175.8 L155.3,179.7 L157.0,183.0 L156.9,186.3 L158.0,188.9 L158.4,192.6 L159.2,195.7 L159.7,199.0 L160.1,202.9 L161.5,205.3 L166.5,206.3 L170.7,206.4 L167.5,204.0 L163.4,202.0 L160.4,200.0 L157.6,197.7 L158.7,194.1 L159.9,191.6 L160.2,188.0 L161.3,185.0 L162.5,181.9 L163.9,179.0 L164.4,175.6 L165.3,172.7 L166.5,169.3 L164.3,171.4 L162.9,175.1 L161.2,178.4 L160.1,180.9 L158.3,184.7 L157.5,187.5 L154.8,190.2 L152.8,191.7 L152.4,195.8 L150.3,198.9 L149.1,201.3 L146.8,204.4 L145.0,207.0 L149.2,205.3 L154.4,205.6 L157.6,204.7 L159.8,202.5 L161.9,198.2 L162.8,195.4 L165.3,192.3 L167.4,189.1 L163.7,188.8 L161.3,186.7 L157.9,186.5 L154.4,185.9 L150.8,184.6 L147.5,183.5 L144.1,183.5 L141.5,182.0 L137.2,182.2 L134.7,180.4 L131.7,180.2 L128.0,177.5 L124.7,177.7 L121.4,177.5 L118.3,175.9 L118.6,172.2 L118.8,169.8 L119.0,165.5 L119.0,162.2 L122.1,159.5 L124.9,157.3 L127.0,155.1 L129.8,155.6 L133.6,155.3 L136.5,155.6 L140.1,155.3 L143.8,155.2 L146.6,155.5 L149.1,155.2 L154.1,155.4 L157.1,156.0 L160.5,155.4 L164.7,155.3 L168.1,155.5 L164.0,156.2 L162.0,155.9 L157.9,156.7 L153.8,157.5 L151.8,157.0 L147.3,156.8 L144.5,157.8 L141.2,157.6 L139.8,160.2 L137.1,163.9 L136.4,166.7 L135.1,168.9 L133.4,172.9 L131.9,175.6 L130.5,178.8 L133.8,176.1 L136.0,174.9 L139.4,172.9 L141.2,171.6 L144.2,169.8 L146.0,167.9 L149.6,166.5 L151.4,163.8 L153.8,162.5 L157.0,160.6 L159.5,159.0 L163.0,157.6 L164.8,155.7 L167.7,153.5 L164.0,153.8 L160.6,153.6 L158.9,156.0 L157.8,158.8 L155.5,162.2 L154.6,165.3 L152.7,167.6 L150.1,170.3 L148.6,174.0 L147.2,176.5 L148.1,173.5 L149.7,170.5 L151.0,167.4 L152.5,164.3 L153.6,161.0 L155.0,157.4 L151.3,157.1 L148.1,157.7 L145.9,156.1 L141.7,155.6 L138.4,154.8 L134.6,154.7 L132.1,154.6 L128.5,153.7 L125.8,156.7 L123.2,159.2 L120.5,162.3 L117.8,165.1 L120.4,167.5 L121.7,170.5 L124.7,172.4 L126.5,174.2 L127.6,177.3 L130.2,179.9 L132.9,182.1 L135.0,184.6 L137.7,186.9 L139.9,189.6 L141.7,191.7 L145.6,192.1 L148.1,192.1 L151.5,192.8 L154.5,193.0 L158.2,192.1 L161.1,192.2 L164.0,191.9 L167.9,192.9 L171.5,192.7 L168.8,195.0 L167.0,198.5 L163.8,201.1 L162.1,204.1 L160.2,206.4 L156.5,206.4 L152.9,206.9 L149.4,206.3 L145.3,205.8 L141.6,204.2 L137.5,204.9 L134.7,203.5 L131.0,202.5 L128.0,203.1 L123.7,202.6 L120.6,202.3 L117.9,202.0 L120.0,197.8 L119.9,193.4 L121.2,190.2 L122.8,186.7 L123.4,184.4 L125.2,181.7 L125.7,178.9 L127.4,175.5 L128.9,172.6 L130.0,169.7 L131.8,166.9 L132.8,163.7 L134.5,161.1 L135.3,158.1 L131.9,160.0 L131.0,162.8 L128.3,165.5 L126.2,166.7 L123.9,169.6 L120.5,171.6 L118.4,173.8 L118.7,167.9 L121.0,169.3 L123.3,171.8 L126.2,173.5 L128.4,176.7 L130.8,179.2 L133.3,180.5 L135.6,182.7 L137.4,185.1 L139.8,187.1 L142.9,189.6 L144.0,191.4 L146.9,194.9 L149.7,195.8 L151.9,198.2 L155.2,199.6 L158.9,199.9 L163.3,202.3 L166.6,202.6 L163.5,203.4 L160.1,203.2 L157.2,203.8 L152.7,204.4 L149.0,204.4 L147.1,205.4 L142.7,205.4 L146.3,205.4 L149.3,205.7 L153.9,206.2 L156.5,207.1 L159.5,207.0 L154.2,206.7 L150.0,206.8 L146.7,206.4 L142.6,207.1 L139.3,206.2 L136.3,206.4 L132.6,206.9 L135.2,207.1 L139.4,205.8 L143.3,207.1 L146.9,206.4 L150.0,206.8 L153.7,207.1 L157.4,207.1 L160.4,206.4 L164.5,207.0 L167.7,206.4 L170.0,200.9 L171.5,195.5 L167.9,195.5 L165.2,194.8 L162.0,195.7 L158.6,195.2 L155.1,195.9 L151.8,196.1 L148.8,195.9 L144.4,196.0 L142.6,195.1 L139.8,195.6 L135.6,196.4 L133.5,196.3 L129.7,195.9 L128.3,192.2 L126.5,190.0 L126.2,185.9 L125.5,182.8 L123.6,179.1 L122.6,177.3 L121.0,173.2 L120.0,169.0 L119.2,166.6 L117.5,163.2 L119.5,165.2 L123.3,167.1 L124.1,169.4 L127.8,171.3 L130.6,173.4 L132.9,175.3 L135.1,177.7 L138.1,179.6 L140.4,182.1 L142.8,184.1 L145.4,185.4 L148.6,187.6 L150.6,190.4 L153.1,192.6 L155.4,194.2 L158.8,196.3 L160.9,198.5 L163.0,201.0 L164.2,204.6 L165.7,201.1 L167.5,198.9 L169.7,196.0 L171.1,193.5 L168.2,190.3 L165.1,189.8 L163.2,186.7 L160.9,184.6 L158.1,182.4 L156.1,181.7 L152.5,179.0 L149.4,176.9 L148.8,174.9 L145.4,172.5 L142.6,170.7 L140.6,168.9 L137.4,166.6 L138.2,169.6 L140.3,172.9 L141.1,175.9 L142.2,178.4 L143.6,181.7 L145.0,184.3 L147.2,188.1 L147.3,191.1 L149.7,194.0 L150.5,197.2 L152.3,199.0 L152.4,202.2 L154.7,205.6 L158.3,206.1 L162.4,205.7 L166.1,206.3 L170.1,206.5 L171.1,202.3 L170.8,198.8 L170.6,195.1 L170.6,191.6 L171.6,187.6 L171.1,183.5 L169.9,179.2 L170.6,182.8 L170.3,185.8 L170.1,189.0 L170.0,192.4 L171.0,197.0 L169.3,199.6 L169.7,202.3 L170.8,206.4 L169.9,204.8 L169.1,201.5 L168.2,197.5 L167.2,194.6 L166.4,192.7 L166.1,188.5 L165.0,186.3 L163.8,182.3 L163.2,179.4 L162.1,176.2 L161.8,173.4 L159.4,175.6 L156.4,176.8 L154.0,179.6 L150.6,181.0 L148.8,182.9 L145.3,184.9 L143.3,186.6 L139.8,188.6 L137.8,190.5 L140.9,189.5 L143.7,187.8 L147.2,186.3 L150.1,186.0 L153.3,184.3 L156.5,182.1 L159.8,180.5 L162.8,180.0 L165.3,179.0 L168.6,178.3 L171.9,176.1 L170.2,181.9 L167.5,183.7 L164.7,186.0 L162.0,187.7 L158.3,189.3 L155.8,192.2 L152.8,193.8 L149.6,195.7 L147.0,197.9 L144.1,199.5 L146.7,198.2 L149.5,196.2 L152.9,193.6 L155.9,191.3 L159.0,190.3 L161.5,188.6 L164.9,187.1 L167.6,184.6 L170.5,183.0 L169.3,187.0 L167.4,189.4 L166.4,192.5 L165.4,195.4 L163.3,199.7 L162.1,202.8 L160.0,200.6 L157.3,198.1 L155.8,195.5 L153.9,192.7 L151.4,189.3 L148.5,186.9 L147.5,184.9 L144.7,182.0 L143.2,179.7 L141.5,177.0 L138.2,173.6 L136.1,172.2 L133.7,169.7 L132.5,166.3 L130.3,163.7 L128.0,161.7 L127.7,165.4 L127.4,168.4 L127.2,172.5 L127.5,175.8 L127.6,179.1 L127.3,182.1 L126.9,186.1 L126.2,188.8 L127.0,193.5 L126.5,196.2 L129.6,196.9 L132.7,197.6 L136.4,198.6 L139.0,199.9 L142.4,199.5 L145.7,200.2 L148.9,201.9 L152.3,203.0 L157.0,202.8 L158.2,203.8 L162.1,204.8 L166.1,205.3 L169.1,205.9 L171.7,206.9 L168.6,207.1 L164.6,206.6 L162.3,207.1 L158.9,206.3 L155.0,207.1 L152.6,206.1 L149.2,207.0 L152.3,205.7 L156.6,205.7 L160.0,204.7 L163.5,206.1 L166.4,206.7 L170.5,206.2 L168.3,203.9 L164.1,202.9 L162.5,199.5 L160.4,197.4 L157.0,196.0 L154.0,194.8 L153.0,192.5 L149.9,190.7 L146.3,189.2 L143.2,188.0 L141.1,184.7 L138.7,183.3 L135.8,181.8 L134.2,179.6 L130.6,178.3 L128.7,175.6 L125.5,173.7 L123.0,172.2 L125.2,174.0 L129.0,173.7 L131.1,176.3 L134.1,177.1 L138.0,178.7 L140.8,179.8 L143.7,181.4 L146.4,182.0 L150.0,183.2 L154.6,184.0 L155.6,186.4 L159.1,187.8 L162.4,189.1 L165.0,189.3 L167.9,191.3 L171.0,192.7 L170.0,195.9 L168.9,199.0 L168.5,202.1 L167.8,205.7 L163.8,205.5 L160.3,205.7 L155.9,205.9 L153.3,206.4 L149.1,206.7 L146.0,207.0 L145.9,204.3 L145.1,200.4 L145.5,197.0 L148.8,196.7 L152.2,197.3 L156.2,196.8 L159.3,196.7 L161.7,197.6 L166.7,197.0 L169.5,197.3 L170.5,201.2 L170.0,205.8 L166.6,204.2 L163.0,204.4 L160.0,204.2 L156.2,205.0 L153.1,205.6 L149.8,205.4 L146.7,205.4 L143.9,206.4 L140.1,207.0 L137.0,206.7 L138.6,203.0 L139.1,199.9 L140.1,196.9 L141.4,194.3 L142.1,190.8 L142.0,187.7 L144.2,184.9 L144.9,180.9 L142.5,179.1 L140.8,175.8 L138.1,174.0 L136.5,171.2 L133.4,168.2 L131.6,165.3 L128.8,163.0 L127.5,161.1 L125.0,158.7 L123.6,155.4 L120.7,153.4 L122.1,155.7 L123.4,159.6 L124.6,163.1 L125.5,165.8 L127.7,168.9 L129.0,172.1 L130.2,174.9 L130.9,178.2 L133.4,181.7 L134.0,184.4 L136.1,188.1 L136.9,191.2 L138.3,194.6 L139.6,197.2 L138.5,194.1 L136.4,191.8 L134.1,188.0 L133.9,185.6 L131.2,182.7 L129.6,180.7 L127.3,177.6 L126.3,174.3 L124.1,171.6 L123.4,169.3 L121.6,165.2 L119.1,162.8 L117.9,160.5 L121.3,158.2 L125.8,156.4 L128.8,154.7 L132.7,154.3 L135.1,155.1 L138.4,155.2 L141.2,156.3 L144.7,154.8 L147.9,155.0 L150.9,156.1 L153.2,155.5 L157.6,155.8 L153.9,156.0 L149.5,154.8 L147.2,155.3 L143.4,155.9 L139.9,155.5 L136.9,156.5 L132.9,157.3 L130.0,157.3 L127.1,158.3 L123.4,158.3 L120.1,159.0 L118.5,156.4 L122.3,156.4 L126.7,155.4 L129.8,155.5 L133.5,155.2 L137.2,155.0 L140.6,154.8 L138.6,157.7 L138.4,162.5 L137.4,165.0 L136.1,168.5 L134.8,172.3 L132.6,169.8 L131.0,166.4 L128.2,164.6 L126.9,161.7 L124.3,159.2 L122.9,155.7 L120.5,153.4 L124.6,153.5 L127.4,153.8 L130.9,153.5 L134.5,153.3 L137.4,153.4 L141.4,154.1 L144.6,154.3 L145.9,158.5 L146.6,162.5 L147.8,166.4 L146.7,161.9 L149.4,163.7 L151.1,165.7 L154.6,168.9 L156.8,170.8 L158.7,172.3 L162.0,174.1 L164.3,177.6 L166.2,177.8 L169.4,180.9 L171.9,182.6 L171.9,186.2 L170.6,189.9 L171.5,193.6 L170.7,196.2 L170.9,199.9 L168.0,202.1 L165.6,203.8 L162.8,206.4 L159.0,207.1 L154.6,205.4 L150.3,205.4 L150.1,202.5 L150.3,198.3 L149.8,196.5 L149.8,192.7 L150.4,189.7 L150.2,185.3 L150.0,183.1 L149.9,179.3 L149.6,175.4 L148.4,172.8 L148.2,170.1 L149.7,165.9 L149.0,163.2 L148.7,160.4 L149.0,156.6 L148.2,161.1 L146.5,163.8 L145.6,167.0 L144.1,170.5 L143.6,172.7 L142.0,176.7 L141.0,180.0 L139.3,182.4 L138.6,186.4 L141.6,184.1 L143.9,181.8 L146.6,179.0 L147.9,178.0 L151.0,175.3 L153.2,172.3 L155.5,170.6 L158.3,167.7 L159.5,165.6 L163.3,163.8 L165.3,159.9 L167.4,158.9 L170.4,156.3 L172.6,153.7 L170.1,154.8 L167.8,157.7 L164.0,158.2 L162.3,160.8 L158.7,161.7 L156.8,164.1 L153.5,166.2 L150.2,166.9 L147.5,168.9 L144.1,170.4 L141.9,172.0 L139.1,172.7 L137.0,176.0 L134.5,176.8 L131.3,179.2 L128.4,180.0 L125.8,182.2 L125.4,178.7 L125.6,174.8 L124.6,171.7 L125.2,168.5 L124.2,165.2 L124.3,161.8 L124.7,158.5 L123.9,155.0 L122.6,157.9 L121.5,160.9 L119.6,164.4 L117.7,167.7 L119.2,172.0 L120.1,176.7 L119.4,180.1 L119.7,183.9 L119.9,187.0 L123.3,187.7 L126.2,189.5 L129.9,189.2 L132.5,190.7 L136.0,191.5 L139.2,192.9 L143.2,193.8 L146.1,194.4 L148.8,196.2 L152.6,196.3 L149.2,196.5 L145.8,197.2 L142.6,197.6 L139.3,198.3 L136.1,198.2 L133.4,198.4 L130.1,200.1 L126.4,200.0 L122.8,198.0 L118.9,196.6 L121.3,196.4 L125.2,194.7 L128.8,194.7 L131.7,194.6 L134.8,193.9 L138.6,194.1 L141.6,192.5 L144.7,192.3 L147.9,191.3 L145.5,189.6 L141.4,189.2 L139.0,186.2 L135.4,185.8 L133.3,183.9 L129.4,183.2 L126.7,180.8 L125.0,180.5 L121.1,179.0 L117.8,177.1 L117.9,174.2 L118.2,170.2 L117.9,167.0 L121.1,163.9 L123.1,161.3 L125.2,159.5 L127.7,157.2 L129.9,153.5 L133.7,153.2 L136.7,153.5 L139.7,154.8 L143.4,154.8 L146.4,154.7 L149.9,155.6 L153.7,155.8 L156.4,155.2 L160.1,155.1 L164.5,155.1 L168.8,154.7 L172.1,154.8 L171.9,158.5 L171.9,161.0 L172.3,165.1 L171.1,168.1 L171.2,171.6 L171.3,175.5 L172.3,177.6 L172.2,181.2 L171.9,184.1 L171.4,188.6 L170.9,191.6 L170.9,194.7 L170.4,197.6 L170.6,200.2 L169.7,205.0 L163.4,205.8 L159.7,205.1 L157.0,205.9 L154.2,204.8 L150.9,204.5 L146.8,204.8 L144.6,204.8 L140.8,204.0 L144.1,201.0 L145.6,199.6 L149.1,197.0 L151.5,195.6 L154.0,192.4 L156.7,189.6 L158.6,188.1 L160.7,186.8 L163.6,184.3 L167.3,181.7 L169.1,179.2 L170.2,182.9 L170.2,185.5 L170.3,189.6 L170.7,193.4 L171.0,195.5 L171.4,198.4 L171.8,202.6 L168.3,203.1 L164.7,203.7 L160.5,205.2 L157.2,205.4 L153.0,206.5 L149.4,206.6 L145.7,206.4 L142.9,205.8 L138.9,206.3 L134.9,206.8 L132.0,206.7 L129.2,205.9 L125.7,203.7 L123.2,203.4 L120.2,201.8 L123.0,204.7 L126.7,205.5 L129.7,206.9 L133.9,205.8 L136.0,205.2 L139.8,205.6 L142.1,204.7 L146.1,204.5 L149.6,204.6 L152.5,204.7 L156.1,204.3 L160.1,204.9 L163.3,205.3 L167.0,205.4 L169.8,206.0 L170.1,202.8 L170.5,199.3 L170.6,195.4 L171.4,192.4 L172.0,188.4 L172.2,184.7 L171.6,181.0 L172.6,177.8 L172.6,174.7 L172.6,171.2 L172.1,167.3 L172.4,164.1 L171.7,160.5 L168.3,161.4 L165.2,161.7 L162.4,162.7 L158.6,164.8 L155.2,164.5 L151.9,165.5 L149.0,166.4 L145.0,167.0 L141.8,167.6 L139.3,168.7 L135.9,169.8 L132.9,168.6 L129.1,167.9 L124.9,167.0 L121.2,165.5 L118.5,165.1 L118.4,168.5 L118.0,171.4 L117.6,175.0 L118.5,178.5 L118.0,181.5 L118.1,184.1 L118.2,188.4 L118.3,191.2 L118.4,194.6 L118.9,199.2 L121.9,200.2 L125.2,201.4 L128.0,203.3 L131.3,204.8 L134.0,206.3 L138.8,205.3 L143.3,205.5 L146.7,205.3 L150.1,205.8 L154.8,206.0 L158.1,206.4 L160.1,206.9 L164.5,206.7 L168.8,205.2 L172.2,206.0 L171.0,202.1 L170.5,198.1 L170.0,194.3 L171.4,190.3 L172.5,187.0 L172.5,184.4 L172.2,180.1 L172.5,177.4 L172.3,174.7 L172.4,171.7 L172.5,167.7 L169.7,165.3 L166.4,164.8 L162.6,163.6 L158.5,162.0 L155.9,160.0 L156.6,163.7 L158.0,166.1 L159.0,169.2 L159.7,172.6 L161.4,175.3 L163.8,178.3 L164.0,181.6 L165.0,184.6 L165.6,188.3 L166.9,191.1 L168.2,194.5 L168.9,197.1 L170.6,200.2 L169.9,203.7 L172.1,206.4 L171.4,203.0 L171.5,199.7 L171.4,195.6 L171.5,192.7 L170.9,189.4 L171.6,185.2 L171.2,180.9 L171.2,177.1 L170.2,173.1 L170.6,169.9 L170.2,165.3 L170.0,162.8 L169.5,159.5 L169.2,155.1 L166.3,155.1 L162.1,155.0 L159.6,154.9 L155.6,154.4 L152.2,154.7 L149.6,154.5 L145.4,154.0 L148.1,154.4 L152.1,154.4 L155.7,153.7 L159.1,154.7 L163.4,153.2 L165.9,153.7 L163.4,155.3 L159.8,156.4 L156.9,157.1 L153.5,159.0 L150.4,159.1 L148.3,161.0 L145.3,161.7 L141.5,163.3 L139.3,164.9 L136.2,166.0 L133.6,167.2 L129.8,168.5 L132.4,169.3 L136.5,170.8 L139.6,171.6 L142.8,173.1 L146.9,173.7 L150.5,174.9 L152.2,176.3 L155.8,177.9 L158.9,179.1 L162.4,180.6 L165.7,180.7 L163.1,181.6 L159.0,182.8 L156.0,183.6 L153.0,184.5 L150.6,185.5 L146.4,186.8 L143.2,187.5 L140.4,188.5 L136.9,189.2 L134.0,190.8 L131.9,191.3 L127.6,192.8 L124.8,193.8 L121.2,194.7 L118.5,195.6 L119.7,198.7 L119.9,201.7 L120.7,205.0 L119.7,200.5 L119.6,197.3 L119.2,193.3 L118.2,189.5 L118.3,186.1 L120.9,187.2 L124.4,189.7 L127.7,189.9 L130.0,193.4 L132.8,193.2 L136.3,195.1 L138.6,196.3 L140.9,200.0 L143.3,202.2 L145.6,204.1 L147.7,206.6 L143.1,205.4" fill="none" stroke="#222" stroke-width="0.3" stroke-linejoin="round"/>
<rect x="177.30" y="151.20" width="61.50" height="57.90" fill="#fff" stroke="#f2b6b6" stroke-width="0.9" />
<rect x="189.91" y="163.07" width="36.29" height="34.16" fill="none" stroke="#8fe88a" stroke-width="0.75" />
<path d="M209.4,206.9 L212.3,203.8 L217.0,202.2 L220.5,200.6 L218.3,197.5 L217.5,194.8 L215.4,192.8 L214.0,188.6 L212.4,185.6 L210.6,182.8 L210.0,180.0 L207.6,177.3 L206.8,173.9 L204.0,172.2 L202.0,168.0 L201.3,166.2 L199.0,161.1 L198.1,159.0 L196.2,156.3 L200.2,155.4 L204.0,154.6 L208.2,153.7 L211.8,154.2 L216.0,153.3 L212.9,153.7 L209.4,154.0 L205.8,154.2 L202.9,154.8 L199.8,155.2 L196.4,155.2 L192.2,155.9 L189.8,155.5 L186.7,156.2 L190.3,155.1 L194.4,156.1 L197.1,155.9 L199.3,154.8 L202.9,156.2 L206.4,155.0 L210.1,154.9 L216.2,154.8 L213.5,154.8 L209.7,155.7 L207.2,156.3 L202.9,156.4 L200.2,157.1 L196.9,156.5 L193.8,158.3 L190.5,158.3 L192.9,160.8 L194.4,164.0 L195.8,164.9 L198.5,170.0 L198.9,171.5 L201.9,174.7 L203.1,177.4 L205.9,180.6 L207.7,184.2 L209.1,185.5 L210.7,188.5 L213.1,191.3 L214.8,194.1 L216.0,190.3 L216.5,187.2 L217.5,185.2 L218.9,182.0 L220.2,177.7 L220.9,176.3 L221.9,171.6 L223.8,169.0 L224.3,166.4 L224.6,162.8 L226.0,158.8 L227.5,156.3 L229.3,159.5 L231.0,161.2 L232.7,164.9 L236.0,167.1 L236.5,170.1 L235.8,172.8 L236.1,176.5 L236.2,179.4 L235.9,182.8 L235.6,185.8 L235.7,189.1 L236.2,192.8 L235.8,196.0 L235.3,200.1 L235.9,203.0 L235.6,206.4 L231.3,206.5 L226.9,206.5 L223.4,206.4 L220.2,206.0 L217.1,206.1 L213.7,206.4 L209.9,206.7 L207.0,206.0 L202.8,205.6 L200.8,205.8 L197.6,205.8 L194.2,206.5 L197.0,206.5 L200.5,204.8 L204.7,205.0 L207.1,203.6 L210.1,203.9 L213.6,202.9 L212.6,199.4 L211.8,195.6 L209.9,193.7 L207.3,189.8 L207.4,186.2 L204.6,182.8 L204.3,179.7 L201.6,176.8 L204.5,176.0 L208.2,174.1 L211.8,174.0 L214.2,174.0 L217.6,171.7 L220.7,171.3 L224.3,170.1 L226.8,168.8 L230.0,167.7 L233.5,167.0 L236.7,166.3 L236.8,169.4 L236.3,173.0 L236.8,176.9 L236.1,180.6 L236.0,184.2 L232.6,183.3 L228.1,182.4 L224.9,180.0 L223.2,177.7 L221.4,174.7 L218.7,173.2 L217.5,170.3 L214.2,167.0 L211.9,165.8 L210.1,162.4 L207.0,160.1 L204.9,157.6 L203.0,155.1 L206.7,155.3 L209.4,154.8 L213.7,154.6 L216.1,155.4 L220.9,155.4 L224.8,154.6 L228.1,154.4 L225.7,157.3 L221.9,159.4 L219.0,162.4 L222.7,163.4 L225.8,163.9 L228.3,164.2 L232.5,165.1 L235.6,166.0 L235.2,169.2 L234.7,172.5 L233.8,175.4 L233.2,179.6 L232.8,182.1 L232.6,185.6 L232.7,189.0 L233.3,192.9 L233.6,195.6 L233.9,198.7 L235.0,203.1 L234.8,206.1 L236.0,202.4 L235.5,199.6 L235.7,196.2 L236.0,193.6 L236.5,189.7 L235.5,186.1 L233.2,182.7 L233.9,185.7 L234.7,189.1 L235.0,193.3 L235.7,195.7 L234.9,198.7 L236.0,202.9 L232.5,203.1 L229.1,204.4 L225.6,205.1 L222.1,205.7 L218.7,203.7 L216.7,201.0 L214.4,199.3 L212.2,197.3 L209.3,195.2 L207.1,192.8 L205.4,190.4 L203.3,187.8 L202.4,184.8 L198.8,182.6 L197.4,178.5 L194.7,176.6 L194.3,174.1 L191.8,171.6 L190.0,168.2 L193.3,168.5 L196.8,168.4 L199.7,167.7 L203.5,167.6 L207.0,167.6 L209.3,167.6 L213.5,168.1 L215.8,166.3 L219.8,167.4 L222.5,167.2 L225.3,167.6 L229.2,167.5 L232.2,166.7 L235.5,166.7 L235.8,170.0 L235.8,173.6 L235.8,176.9 L236.0,180.6 L236.2,183.5 L235.7,178.5 L236.2,175.2 L236.5,171.8 L236.8,167.6 L236.6,164.0 L236.6,160.7 L233.4,158.2 L230.1,157.1 L227.7,154.8 L224.7,154.8 L221.8,154.7 L217.8,154.0 L214.3,154.6 L210.5,154.4 L204.9,154.2 L209.9,154.3 L214.1,153.6 L218.3,153.3 L221.5,153.3 L224.4,154.3 L228.2,153.2 L232.5,154.3 L233.9,157.2 L236.1,159.9 L236.1,163.6 L236.2,166.5 L236.4,170.7 L236.5,174.6 L236.8,177.0 L236.3,181.5 L236.5,185.8 L236.1,189.4 L235.3,193.3 L235.8,196.6 L235.1,199.4 L233.3,203.0 L231.7,205.9 L229.7,202.4 L226.2,200.8 L225.1,198.5 L223.3,195.8 L222.2,194.2 L219.4,191.5 L215.8,189.1 L214.3,186.8 L212.4,184.5 L209.9,181.6 L208.2,179.0 L206.0,177.0 L206.9,179.8 L208.9,183.8 L211.5,186.3 L212.4,189.6 L214.1,192.5 L214.6,196.0 L217.9,198.6 L219.3,202.5 L220.3,205.2 L216.0,205.2 L211.9,205.9 L207.2,205.9 L202.5,206.8 L200.2,205.3 L195.9,205.7 L191.6,206.3 L188.3,207.1 L185.0,206.8 L182.6,203.7 L180.0,201.4 L180.7,197.2 L180.7,193.2 L181.2,189.4 L180.8,186.6 L180.6,182.7 L181.1,178.8 L181.2,176.6 L182.6,172.9 L181.3,170.6 L181.4,167.2 L182.0,164.5 L181.5,160.5 L181.3,156.6 L181.6,153.7 L185.5,153.6 L189.2,153.9 L191.9,153.2 L194.9,153.6 L199.1,153.2 L202.1,154.1 L205.9,153.6 L209.7,153.7 L212.9,154.8 L216.8,154.5 L220.3,154.9 L223.6,155.2 L228.6,154.2 L232.4,154.1 L229.7,153.4 L225.4,155.4 L221.8,154.1 L219.2,155.8 L215.8,155.4 L212.7,154.7 L209.2,153.6 L212.5,153.2 L216.2,153.2 L220.3,153.2 L221.9,153.2 L226.3,153.8 L229.8,153.9 L232.9,153.8 L233.5,156.7 L234.8,160.5 L235.4,163.7 L235.7,167.3 L236.8,171.0 L234.9,168.0 L233.6,165.6 L232.8,161.8 L231.1,159.4 L228.4,160.3 L223.9,161.4 L221.2,162.5 L218.9,164.0 L214.9,165.0 L211.8,166.4 L208.3,167.6 L205.4,167.5 L201.9,170.0 L202.9,173.5 L203.2,176.6 L203.9,179.5 L204.8,183.3 L204.6,186.6 L205.5,189.8 L206.5,194.3 L206.5,196.6 L207.9,199.9 L208.8,202.9 L208.8,206.4 L211.9,205.7 L215.4,206.2 L218.9,206.8 L223.0,206.8 L226.2,203.4 L227.3,202.9 L231.3,198.3 L234.4,197.3 L236.7,194.2 L236.8,190.8 L236.8,187.4 L236.8,184.4 L236.8,180.7 L236.6,176.9 L236.8,174.5 L236.3,171.8 L236.5,168.2 L236.4,164.3 L233.8,162.5 L231.1,161.2 L228.1,159.8 L224.9,157.9 L223.0,156.0 L220.0,153.8 L219.0,156.7 L218.5,160.3 L215.1,159.4 L211.6,158.4 L208.2,158.9 L205.4,157.9 L201.6,157.4 L197.9,156.2 L195.0,156.3 L191.5,155.5 L188.3,154.8 L184.9,154.5 L182.8,156.6 L181.5,160.8 L180.4,163.3 L180.4,167.4 L181.4,170.9 L180.8,174.0 L180.1,176.9 L181.3,181.1 L181.3,184.9 L180.6,188.1 L180.8,192.0 L180.8,195.4 L180.3,198.9 L180.5,202.0 L180.0,205.4 L184.2,205.3 L186.3,205.6 L189.7,205.9 L194.2,205.3 L197.0,206.5 L200.2,207.1 L203.3,206.8 L198.1,206.2 L195.0,205.3 L192.0,202.9 L187.8,202.2 L186.0,200.8 L181.6,199.3 L179.7,205.0 L183.1,204.8 L186.1,206.1 L190.8,205.8 L194.2,206.9 L197.4,205.5 L200.8,206.4 L204.4,207.0 L208.0,207.1 L211.5,207.1 L214.6,207.1 L218.6,206.7 L222.6,207.1 L225.7,206.4 L228.6,206.4 L233.0,206.9 L232.8,203.0 L232.8,199.8 L233.4,197.4 L233.0,194.0 L233.9,190.5 L233.8,186.9 L235.1,184.0 L235.5,180.7 L234.3,177.3 L234.5,174.1 L231.1,175.3 L228.4,176.5 L224.9,178.5 L221.8,178.4 L218.7,180.8 L215.2,182.1 L212.8,183.2 L207.6,184.0 L205.3,185.2 L202.1,186.8 L201.9,190.4 L201.8,192.9 L200.0,196.7 L199.7,199.7 L198.9,203.1 L198.4,206.5 L198.6,202.8 L200.8,200.1 L201.4,196.6 L203.2,193.8 L205.4,190.0 L206.5,186.4 L207.7,183.8 L209.4,180.2 L210.3,177.1 L211.8,173.9 L213.0,170.0 L215.0,167.3 L216.3,164.5 L218.6,161.1 L219.3,158.1 L221.0,154.7 L224.3,153.7 L229.2,154.5 L233.2,153.9 L236.6,153.2 L236.6,158.4 L236.2,161.2 L236.8,164.1 L236.2,168.5 L236.3,171.1 L235.6,174.8 L235.9,177.8 L232.8,178.4 L230.0,179.0 L226.9,179.2 L222.6,180.8 L220.0,180.7 L217.0,181.2 L213.8,181.8 L210.9,182.8 L207.6,183.7 L204.7,183.6 L201.4,184.9 L197.7,185.6 L195.3,186.6 L192.8,186.9 L188.8,187.7 L185.5,187.1 L181.2,186.4 L181.1,182.1 L180.7,178.9 L180.9,174.5 L180.2,170.7 L180.7,167.3 L179.5,161.7 L182.7,166.1 L182.9,162.2 L182.6,160.3 L182.3,156.2 L185.0,155.4 L189.1,155.1 L192.9,155.4 L195.5,154.9 L198.8,154.8 L202.0,154.6 L205.1,154.2 L208.0,153.7 L211.5,154.2 L216.9,154.1 L219.8,153.4 L223.7,153.9 L227.0,154.4 L231.3,153.7 L235.6,154.9 L235.0,157.7 L235.5,161.2 L234.1,164.9 L234.2,168.6 L234.8,171.8 L234.9,175.3 L234.0,178.6 L234.9,182.3 L234.7,185.6 L235.2,188.8 L235.6,192.1 L235.1,196.3 L234.5,198.8 L235.9,204.9 L234.4,199.4 L235.1,195.2 L234.4,191.5 L234.4,187.8 L235.0,183.7 L235.3,179.5 L235.9,175.6 L236.5,172.0 L235.7,169.2 L235.7,164.3 L235.1,160.9 L234.7,157.4 L234.4,161.4 L234.8,163.8 L234.7,168.0 L234.9,171.0 L234.7,174.5 L234.6,178.1 L235.3,174.0 L235.6,170.4 L235.6,166.2 L232.1,166.2 L229.8,167.6 L225.5,168.1 L221.7,168.2 L219.6,168.4 L216.0,169.1 L213.0,168.7 L209.2,170.0 L206.6,169.5 L202.4,170.6 L199.4,170.5 L196.3,171.4 L192.4,172.0 L189.8,172.5 L186.7,172.5 L190.0,171.1 L192.9,169.2 L194.9,167.7 L199.0,165.6 L201.8,164.2 L205.0,162.3 L208.2,160.6 L211.8,158.4 L214.2,158.0 L217.3,156.0 L213.8,156.4 L211.5,156.3 L207.0,156.1 L205.2,155.1 L201.0,155.3 L198.2,156.3 L193.9,157.3 L191.4,157.5 L188.4,159.1 L184.8,160.1 L181.3,161.4 L181.9,165.4 L180.7,168.8 L180.6,172.9 L180.4,176.2 L181.5,179.5 L181.2,183.3 L181.5,186.2 L181.8,190.0 L181.8,186.7 L180.2,183.9 L179.3,180.2 L180.0,184.7 L180.8,189.1 L182.3,192.2 L182.4,195.7 L183.3,199.8 L184.1,203.1 L184.6,206.4 L188.9,205.9 L192.6,205.3 L195.0,205.7 L198.7,205.1 L202.0,205.2 L205.4,204.5 L208.6,204.5 L211.9,203.8 L209.3,199.9 L207.4,196.5 L205.2,199.3 L204.6,202.9 L202.8,205.1 L198.9,206.1 L194.6,205.8 L191.0,207.0 L186.2,206.0 L181.6,206.3" fill="none" stroke="#222" stroke-width="0.3" stroke-linejoin="round"/>
<rect x="51.40" y="214.30" width="62.00" height="60.40" fill="#fff" stroke="#f2b6b6" stroke-width="0.9" />
<rect x="64.11" y="226.68" width="36.58" height="35.64" fill="none" stroke="#8fe88a" stroke-width="0.75" />
<path d="M54.3,263.6 L56.4,265.5 L59.4,267.8 L62.6,269.8 L65.5,270.8 L68.8,270.3 L72.4,271.3 L77.1,271.3 L79.1,271.8 L83.5,272.2 L87.7,272.3 L91.1,271.8 L95.8,271.9 L99.1,272.0 L103.0,271.2 L107.8,271.6 L108.6,268.5 L108.2,264.9 L108.8,261.7 L109.7,258.2 L110.2,255.8 L109.9,252.3 L110.2,248.8 L111.0,246.4 L111.2,242.3 L111.0,246.2 L110.4,249.0 L111.0,252.5 L110.5,256.3 L110.2,258.9 L110.3,262.0 L109.8,266.5 L106.1,266.2 L102.5,267.8 L100.3,267.6 L96.2,268.7 L93.5,269.2 L90.4,269.7 L86.8,270.5 L83.8,270.4 L80.2,271.3 L77.6,272.2 L73.7,272.5 L70.4,272.7 L66.9,272.4 L63.5,272.5 L60.6,271.8 L56.5,271.1 L53.8,272.1 L55.9,269.9 L59.0,266.1 L61.2,264.7 L63.5,262.2 L66.9,259.8 L69.1,257.6 L70.3,255.5 L73.6,252.1 L75.9,249.7 L79.6,250.1 L82.0,249.9 L85.8,250.1 L89.2,250.0 L91.8,251.0 L96.0,251.0 L98.9,250.7 L101.7,251.7 L105.0,251.2 L108.6,251.5 L109.8,247.6 L109.6,244.5 L109.3,240.7 L110.6,238.9 L110.6,234.5 L110.5,231.4 L110.6,228.1 L109.8,223.7 L111.2,220.2 L108.1,220.2 L104.1,220.5 L100.4,220.2 L97.7,220.9 L94.1,221.2 L91.7,221.3 L88.3,221.3 L84.2,221.9 L81.0,221.7 L77.2,222.0 L74.2,222.4 L71.6,222.9 L68.4,222.9 L64.8,223.3 L61.6,223.7 L58.0,223.5 L57.5,226.7 L58.0,230.2 L58.1,233.1 L57.3,236.9 L57.5,240.4 L57.9,243.6 L57.6,248.1 L57.4,250.5 L56.7,253.9 L56.6,257.3 L57.7,261.5 L57.1,264.3 L57.0,268.1 L57.2,265.2 L56.7,261.5 L56.6,258.0 L55.8,254.2 L54.4,250.7 L54.9,248.2 L54.7,244.3 L54.1,241.1 L53.9,236.0 L54.2,232.0 L55.0,229.1 L55.6,226.3 L57.1,222.3 L57.2,219.6 L61.3,219.0 L62.2,218.4 L66.3,218.1 L70.0,217.4 L73.3,216.8 L76.6,216.4 L75.6,218.7 L74.6,222.8 L73.2,225.8 L71.9,229.6 L70.8,232.4 L69.9,234.9 L68.6,237.8 L67.3,241.6 L66.0,243.8 L64.5,247.0 L63.3,250.4 L62.7,253.7 L61.1,255.8 L60.4,258.7 L58.4,263.0 L57.8,265.9 L58.1,262.1 L57.5,258.3 L56.9,255.9 L58.0,252.1 L58.6,248.5 L58.0,245.2 L57.8,242.3 L57.2,239.3 L57.8,235.3 L57.7,232.1 L57.2,228.0 L58.0,225.0 L57.6,221.9 L57.8,218.3 L59.8,220.0 L63.0,222.0 L67.1,223.7 L68.3,225.1 L71.4,226.7 L74.9,229.3 L78.0,231.4 L80.2,232.6 L82.9,234.6 L85.6,235.7 L89.8,238.9 L91.4,239.9 L94.2,242.1 L97.0,242.7 L100.0,245.5 L96.8,243.3 L94.8,241.2 L91.8,239.8 L88.9,237.6 L85.7,235.0 L83.5,233.8 L81.6,231.9 L78.9,230.4 L76.3,228.3 L73.9,225.9 L70.7,223.9 L68.3,222.3 L65.5,220.3 L63.2,218.2 L67.4,218.0 L70.6,217.5 L74.1,217.5 L77.8,217.2 L80.0,219.9 L81.7,221.6 L84.9,224.9 L85.8,227.7 L87.8,230.1 L89.3,232.5 L91.1,235.7 L94.4,237.8 L96.5,239.9 L98.6,243.1 L101.0,245.4 L102.5,248.3 L104.9,251.0 L106.9,253.6 L107.4,256.6 L106.4,260.3 L108.2,263.3 L107.6,267.0 L107.9,270.0 L104.5,270.6 L100.5,270.2 L97.3,270.4 L93.4,271.0 L90.0,270.5 L86.8,271.8 L83.9,271.2 L79.9,271.5 L77.6,271.6 L73.3,271.0 L69.4,272.2 L65.1,271.0 L61.1,268.6 L57.8,265.4 L54.2,263.2 L54.2,259.2 L54.3,255.5 L54.6,252.0 L56.3,248.5 L56.3,245.1 L57.2,250.4 L54.9,255.1 L53.9,258.4 L55.5,262.5 L56.3,265.9 L55.7,262.3 L54.7,258.6 L53.8,254.8 L53.6,251.5 L54.0,247.9 L54.5,245.0 L54.5,241.3 L54.9,238.6 L55.0,234.8 L54.7,232.0 L54.3,227.4 L54.8,224.1 L54.3,220.2 L54.3,217.3 L58.1,217.7 L60.8,219.2 L64.8,219.4 L68.3,218.5 L71.9,219.2 L76.4,218.4 L79.5,217.6 L82.0,218.3 L88.8,218.1 L92.0,218.3 L94.8,218.7 L98.8,217.7 L102.7,218.3 L105.5,218.2 L109.2,217.5 L109.0,220.6 L109.9,224.0 L110.6,227.8 L109.9,232.3 L109.5,235.8 L110.4,238.4 L110.1,243.5 L110.4,247.0 L111.1,242.2 L110.6,239.3 L111.4,235.7 L110.2,232.5 L111.1,228.6 L109.5,225.6 L106.2,223.2 L103.6,222.2 L99.7,219.1 L97.1,217.1 L93.2,217.4 L89.9,218.5 L86.0,218.2 L83.0,218.0 L79.3,218.6 L75.6,218.4 L72.8,218.7 L68.1,218.6 L65.1,217.3 L61.1,217.1 L57.3,216.6 L55.6,219.8 L53.7,222.0 L53.9,225.8 L53.6,229.4 L53.8,231.6 L54.5,234.9 L54.7,238.1 L55.3,241.5 L55.3,246.6 L55.1,250.6 L54.2,254.4 L54.5,258.7 L53.7,262.8 L57.0,261.3 L59.8,261.1 L62.9,259.5 L65.9,259.4 L69.1,257.7 L73.2,257.2 L75.0,255.9 L78.5,255.5 L81.6,255.3 L84.3,253.3 L87.4,252.4 L88.0,255.4 L90.0,259.3 L90.8,262.5 L91.3,265.9 L92.5,269.6 L97.2,271.8 L100.0,270.0 L103.8,267.4 L106.4,264.7 L110.1,263.3 L110.6,259.6 L110.9,256.4 L110.9,252.8 L111.3,249.4 L111.0,245.0 L110.0,241.3 L110.4,237.1 L110.9,232.8 L110.7,229.1 L110.1,225.7 L110.1,222.2 L110.2,218.0 L110.0,222.0 L110.3,224.7 L111.3,228.8 L110.7,232.4 L110.6,235.3 L109.2,239.4 L108.6,235.3 L108.7,232.0 L108.4,229.4 L108.7,225.8 L107.1,221.2 L107.5,218.9 L108.7,223.1 L110.2,226.2 L106.1,224.6 L103.7,222.3 L99.5,220.0 L96.4,218.0 L99.7,218.2 L103.5,217.4 L107.1,217.4 L107.7,221.4 L108.1,224.0 L108.3,228.2 L109.1,230.4 L109.4,234.0 L110.2,238.5 L109.7,241.5 L109.9,238.5 L111.4,234.5 L111.3,231.5 L110.5,228.0 L110.9,224.3 L109.0,220.5 L107.0,217.1 L102.6,218.3 L99.3,217.3 L96.1,218.5 L93.1,218.9 L89.0,217.9 L85.9,218.8 L81.7,217.9 L79.4,218.2 L76.5,217.8 L73.3,217.6 L69.7,217.4 L66.6,216.7 L63.2,216.8 L58.9,216.7 L54.0,217.3 L54.1,221.1 L55.3,224.3 L55.2,228.3 L56.0,231.7 L56.6,227.2 L58.2,224.6 L58.9,220.6 L59.7,216.9 L63.5,217.3 L68.0,217.3 L70.8,217.7 L67.3,217.2 L64.3,217.2 L60.6,216.7 L57.5,216.4 L60.9,217.6 L63.2,219.3 L66.4,220.5 L69.5,222.1 L73.1,223.8 L77.0,224.7 L79.7,226.9 L82.1,227.4 L84.5,228.9 L88.2,230.2 L91.1,231.6 L94.3,232.7 L98.0,233.5 L100.6,236.6 L104.0,238.2 L106.6,238.5 L104.6,241.0 L102.4,243.6 L99.6,245.6 L97.9,249.4 L95.2,250.2 L93.8,252.4 L91.9,254.7 L88.5,258.5 L86.9,260.1 L84.4,263.2 L82.3,264.3 L80.5,266.7 L78.4,269.6 L76.0,272.2 L78.2,270.4 L82.1,269.3 L85.4,268.4 L88.3,267.2 L91.0,265.7 L94.3,263.8 L97.3,263.2 L99.6,262.1 L102.7,260.3 L103.4,257.5 L104.7,253.2 L104.2,250.0 L105.0,247.6 L105.0,243.6 L106.9,239.9 L107.4,236.0 L107.6,233.2 L109.5,230.2 L109.6,227.0 L109.2,224.2 L110.5,220.3 L110.0,225.9 L109.8,228.9 L108.9,232.2 L109.1,234.1 L109.2,239.1 L108.4,241.7 L108.7,245.1 L108.7,248.8 L109.1,252.1 L107.9,255.1 L108.1,259.0 L108.5,262.0 L107.6,266.8 L107.6,269.0 L107.2,272.5 L105.3,270.5 L102.1,268.6 L97.9,268.8 L94.4,269.4 L90.8,269.2 L87.2,270.3 L84.4,270.7 L80.4,270.5 L77.6,271.6 L74.5,271.5 L70.8,271.5 L67.6,271.6 L64.2,271.6 L60.4,272.7 L57.3,272.6 L54.7,267.3 L54.2,263.6 L55.2,259.6 L54.6,255.3 L55.6,251.5 L54.5,248.6 L54.3,245.4 L54.2,241.8 L54.2,239.1 L54.0,235.6 L53.5,232.8 L53.7,228.4 L55.1,224.6 L57.9,225.1 L61.5,223.6 L65.3,223.9 L67.7,224.0 L71.9,223.3 L75.2,222.7 L78.0,222.8 L82.5,223.1 L85.1,222.5 L89.0,222.0 L91.9,221.8 L91.8,225.2 L91.7,228.4 L92.3,232.1 L91.9,235.0 L92.1,238.0 L91.5,241.6 L91.8,245.1 L92.4,248.6 L92.7,251.7 L92.6,255.4 L91.8,258.4 L91.8,260.8 L92.7,265.0 L92.9,267.7 L92.2,271.7 L86.7,271.8 L83.2,272.1 L78.5,271.7 L74.4,271.1 L72.4,269.6 L68.6,268.1 L65.6,265.9 L62.6,264.8 L60.6,263.9 L57.3,261.5 L59.9,261.1 L62.9,258.2 L65.8,258.1 L69.1,256.6 L73.2,254.8 L76.0,254.1 L77.4,252.5 L80.5,252.0 L83.5,250.5 L87.1,249.6 L90.5,247.9 L93.0,246.5 L96.3,245.8 L98.2,244.6 L101.9,242.7 L104.6,242.5 L107.6,240.8 L110.8,239.2 L110.1,236.0 L108.7,233.0 L109.0,229.6 L107.6,226.4 L104.7,225.7 L102.1,223.2 L98.9,221.6 L96.5,220.3 L92.5,218.2 L90.6,216.7 L87.0,217.3 L83.5,216.7 L79.1,217.0 L75.9,216.3 L71.9,217.0 L68.7,217.9 L65.7,218.8 L62.8,219.4 L59.3,220.1 L56.0,221.3 L55.0,225.2 L54.9,229.6 L55.1,233.0 L55.3,237.9 L54.6,241.3 L54.0,244.5 L53.7,247.7 L53.6,251.6 L53.9,247.7 L53.9,244.2 L54.6,240.1 L54.9,236.5 L54.4,239.4 L54.1,243.6 L55.1,247.0 L54.9,250.8 L55.3,253.9 L54.4,258.0 L55.3,261.4 L58.9,262.1 L61.9,262.4 L65.5,263.5 L68.9,265.1 L72.0,265.2 L75.5,265.7 L79.0,265.7 L82.4,266.6 L84.2,267.6 L88.3,268.5 L91.4,269.3 L95.0,269.8 L94.2,266.6 L94.2,263.6 L94.0,260.3 L93.4,258.0 L92.3,255.0 L92.1,250.7 L93.3,248.1 L91.8,244.7 L90.8,240.8 L90.8,238.4 L89.6,234.8 L89.8,231.8 L88.9,228.6 L88.6,224.6 L87.9,222.3 L87.9,218.8 L84.3,218.5 L81.2,218.3 L78.4,218.2 L73.2,218.4 L69.3,218.3 L67.1,218.4 L62.4,217.7 L59.3,218.3 L56.4,221.7 L54.5,224.0 L58.5,221.4 L61.3,218.3 L63.5,216.4 L67.6,216.3 L69.4,216.3 L73.4,217.5 L76.9,217.1 L79.9,217.8 L83.5,218.9 L86.5,218.5 L89.8,218.2 L92.7,219.3 L97.3,219.9 L101.2,219.6 L105.0,219.5 L107.0,220.3 L111.4,219.7 L111.4,223.8 L110.7,228.7 L110.5,232.4 L110.4,236.7 L109.8,240.3 L108.9,243.9 L109.3,247.9 L109.2,251.9 L109.6,256.1 L110.4,259.9 L106.9,260.7 L103.8,260.8 L101.1,262.3 L98.0,262.9 L95.4,263.9 L91.3,264.6 L91.4,259.4 L94.1,256.2 L96.1,255.4 L97.4,251.8 L99.8,248.3 L101.9,246.1 L104.2,242.9 L106.8,240.5 L108.8,238.3 L110.5,235.4 L109.6,238.8 L108.7,242.0 L107.3,244.9 L106.4,248.4 L104.2,252.2 L102.7,255.1 L102.4,257.9 L101.0,261.8 L99.8,264.6 L98.7,268.0 L95.6,272.1 L91.7,271.6 L88.6,272.1 L84.5,271.9 L81.3,272.1 L77.1,272.1 L73.7,271.7 L73.4,267.7 L74.9,265.2 L76.3,262.4 L75.6,259.1 L77.0,256.0 L76.9,252.5 L77.7,249.4 L78.4,246.1 L77.4,242.9 L78.2,240.7 L79.4,237.0 L83.1,236.4 L86.5,236.2 L90.0,236.0 L92.9,235.0 L95.8,234.5 L99.0,233.9 L103.6,233.1 L106.7,232.9 L110.5,232.4" fill="none" stroke="#222" stroke-width="0.3" stroke-linejoin="round"/>
<rect x="115.40" y="214.30" width="59.20" height="60.40" fill="#fff" stroke="#f2b6b6" stroke-width="0.9" />
<rect x="127.54" y="226.68" width="34.93" height="35.64" fill="none" stroke="#8fe88a" stroke-width="0.75" />
<path d="M171.1,233.4 L171.4,236.9 L171.2,240.2 L170.8,243.6 L170.5,246.9 L172.0,251.1 L172.2,254.1 L171.8,259.3 L171.9,263.3 L171.5,267.1 L167.8,269.3 L164.5,271.7 L161.1,271.2 L157.1,271.3 L154.5,271.4 L149.8,270.9 L146.2,271.9 L142.9,271.3 L138.7,271.3 L135.8,270.6 L130.8,271.2 L126.5,270.2 L122.2,270.2 L118.6,270.0 L118.2,265.7 L117.4,262.6 L117.7,257.6 L118.2,254.1 L117.8,250.7 L118.4,247.2 L117.8,243.6 L117.4,240.3 L117.5,236.2 L117.5,232.8 L118.2,228.5 L119.2,226.1 L118.7,221.7 L119.9,217.9 L123.8,217.5 L128.7,217.5 L132.4,217.2 L135.5,216.7 L139.1,218.1 L143.5,217.3 L145.9,217.3 L150.0,217.0 L154.1,217.0 L157.5,217.4 L161.2,217.1 L166.5,216.8 L172.3,216.9 L169.3,218.0 L166.5,220.3 L163.7,221.6 L159.9,222.3 L156.9,224.2 L154.0,225.2 L150.7,226.7 L147.6,223.1 L145.0,219.7 L148.4,219.6 L151.7,219.6 L155.8,219.9 L158.6,219.9 L162.7,219.9 L164.9,222.4 L166.3,225.7 L167.8,230.1 L169.3,232.9 L171.0,236.0 L170.0,238.6 L171.4,244.3 L171.0,246.8 L171.5,250.3 L171.2,252.7 L172.3,256.7 L171.2,259.3 L169.6,263.1 L168.8,265.9 L168.6,269.4 L167.7,272.5 L163.2,272.7 L160.5,271.5 L157.1,271.6 L153.4,271.1 L154.5,267.9 L154.0,265.2 L154.9,261.6 L156.0,258.3 L154.8,255.0 L155.5,252.4 L156.9,248.6 L157.3,246.0 L157.8,243.1 L158.2,239.7 L159.4,236.8 L158.9,233.3 L158.9,229.2 L160.2,226.5 L157.0,227.9 L154.0,228.3 L150.9,229.3 L147.4,229.3 L144.7,230.6 L141.3,231.3 L138.3,232.7 L135.0,233.3 L131.9,234.3 L129.7,234.8 L125.8,236.3 L121.7,236.5 L119.5,238.0 L118.7,234.7 L117.9,231.2 L118.4,226.7 L118.7,224.0 L117.4,220.2 L117.7,217.2 L118.1,223.1 L121.7,220.5 L125.4,220.4 L128.4,218.0 L132.0,216.5 L134.6,218.0 L138.9,218.8 L141.3,220.4 L143.7,221.1 L147.2,222.6 L150.1,223.3 L152.7,224.4 L156.5,225.7 L158.8,226.5 L163.4,228.5 L165.5,228.0 L168.2,230.3 L164.7,230.1 L162.2,229.9 L158.3,228.7 L155.8,228.7 L152.1,227.6 L149.1,227.8 L146.3,226.4 L143.0,226.7 L139.5,225.6 L136.4,225.1 L133.3,224.8 L129.9,223.7 L127.6,223.8 L123.8,223.3 L121.2,222.4 L117.7,221.9 L117.8,226.8 L118.3,231.1 L118.6,234.9 L118.2,238.6 L118.3,241.0 L118.1,243.7 L118.1,248.1 L117.4,252.0 L117.7,256.1 L117.6,258.4 L118.1,263.4 L120.8,265.3 L124.4,267.5 L127.5,269.4 L130.4,271.5 L128.6,268.7 L125.7,267.2 L123.3,265.0 L121.4,262.6 L118.8,259.9 L118.7,257.0 L118.7,253.3 L118.8,249.7 L119.1,246.5 L118.7,243.5 L118.7,240.3 L118.9,237.0 L118.8,234.2 L118.7,230.6 L119.2,226.4 L119.6,222.6 L120.0,220.3 L120.9,216.5 L122.3,220.0 L122.5,222.7 L122.5,225.5 L123.5,230.1 L122.8,232.9 L124.5,235.4 L124.0,239.0 L125.1,242.1 L125.9,246.1 L126.8,249.6 L127.7,253.1 L127.6,255.9 L125.7,259.9 L124.7,262.2 L122.7,264.8 L121.7,269.3 L120.4,271.8 L123.9,271.4 L127.5,270.4 L131.3,271.5 L133.8,271.0 L137.4,271.7 L141.2,271.5 L145.2,271.3 L147.7,271.5 L143.7,270.5 L140.2,270.5 L136.7,270.5 L134.1,270.8 L131.5,270.3 L127.0,269.3 L124.0,270.5 L120.6,269.9 L120.3,267.2 L120.1,263.9 L119.6,260.1 L119.2,256.5 L119.1,253.3 L118.3,251.5 L117.8,247.3 L119.4,251.4 L118.6,249.0 L119.2,244.9 L118.1,241.5 L117.5,238.5 L119.9,240.7 L123.5,242.2 L125.4,244.5 L128.4,246.2 L131.8,248.4 L133.6,250.8 L136.5,252.0 L139.0,253.5 L141.2,256.3 L145.3,256.8 L146.7,258.5 L150.7,260.9 L152.8,262.9 L155.6,264.9 L158.0,263.3 L161.3,260.1 L164.0,256.9 L166.6,254.4 L167.8,251.9 L171.7,249.4 L171.4,253.2 L171.1,257.4 L170.1,260.1 L170.0,263.6 L170.0,260.2 L169.8,256.6 L169.8,253.1 L168.9,248.8 L169.7,245.1 L169.7,242.0 L168.9,238.6 L169.0,236.0 L167.3,231.8 L165.4,229.4 L165.4,226.1 L164.6,221.9 L163.6,220.3 L162.4,216.6 L159.6,216.7 L155.9,217.4 L151.9,218.4 L149.9,217.4 L146.7,218.5 L143.3,219.1 L139.9,219.3 L135.6,219.8 L132.1,220.2 L128.8,220.8 L124.9,221.8 L121.2,221.7 L117.9,222.3 L118.1,226.1 L117.4,229.6 L117.8,233.6 L118.1,237.0 L118.1,241.2 L118.3,244.4 L121.1,246.4 L124.6,247.5 L126.7,249.4 L128.9,251.0 L132.1,252.7 L134.7,253.3 L138.1,256.0 L140.6,257.9 L143.6,258.8 L146.7,260.0 L149.1,262.3 L152.2,264.0 L149.0,264.1 L145.3,263.8 L142.0,262.0 L139.0,261.9 L135.6,260.7 L137.5,258.1 L139.0,255.1 L140.8,251.3 L143.0,249.7 L143.6,247.3 L145.8,243.2 L147.8,241.1 L148.9,238.2 L151.1,234.3 L152.9,231.6 L154.6,229.2 L156.0,225.3 L158.6,223.9 L160.2,220.3 L161.1,217.3 L157.8,217.6 L152.8,218.3 L149.8,218.2 L145.9,217.9 L143.5,220.0 L141.2,222.4 L138.9,224.4 L136.2,225.8 L133.6,229.3 L131.9,231.0 L128.9,234.1 L126.4,235.9 L124.8,237.8 L121.7,240.0 L124.2,242.7 L127.7,244.2 L128.9,247.0 L131.2,249.2 L134.4,251.1 L136.9,252.8 L139.5,255.0 L141.3,257.7 L144.0,260.6 L146.7,262.3 L149.4,265.5 L151.7,267.0 L150.1,265.0 L148.7,261.6 L147.4,258.5 L146.1,254.7 L144.6,252.2 L143.3,249.1 L142.1,246.4 L139.7,244.2 L138.4,241.6 L138.2,237.9 L136.7,234.7 L135.3,232.4 L133.7,229.4 L132.2,226.9 L130.1,223.4 L129.5,221.2 L127.7,217.8 L131.4,217.6 L133.9,217.5 L138.7,216.3 L142.0,217.0 L145.4,216.8 L148.7,216.4 L149.0,219.4 L148.7,223.8 L149.0,226.3 L148.3,229.4 L148.9,233.5 L149.1,236.6 L148.9,240.3 L148.7,242.8 L149.4,246.4 L148.9,249.4 L148.9,253.3 L149.2,255.8 L149.3,259.8 L148.7,263.4 L149.1,266.3 L150.8,263.5 L153.7,261.2 L155.3,257.7 L157.3,254.5 L160.0,252.9 L161.6,250.0 L164.4,247.0 L165.8,244.6 L167.6,241.7 L169.5,239.1 L172.0,235.9 L171.2,238.8 L172.2,243.6 L171.2,247.3 L171.6,250.9 L171.3,254.3 L170.4,258.0 L169.4,261.1 L166.3,263.4 L163.9,265.4 L161.2,267.6 L157.9,269.9 L154.8,272.5 L150.5,272.2 L147.9,271.2 L144.3,271.0 L140.3,270.8 L137.7,270.6 L134.0,269.9 L130.9,269.5 L127.1,269.0 L124.1,268.7 L120.7,268.9 L118.0,268.3 L118.0,264.0 L117.5,260.6 L118.6,256.7 L117.8,252.7 L118.9,249.6 L119.4,245.9 L119.6,243.1 L119.9,239.1 L119.1,236.0 L120.0,231.3 L119.9,228.6 L122.8,226.0 L126.4,226.1 L127.8,223.1 L132.2,221.1 L135.0,219.4 L140.7,218.1 L144.5,218.1 L147.1,218.5 L151.8,218.7 L155.4,218.4 L158.9,218.5 L161.9,217.6 L165.4,217.0 L169.0,216.5 L170.3,219.3 L170.0,222.4 L171.7,226.0 L171.9,229.3 L172.5,232.4 L170.7,236.3 L170.1,239.9 L171.0,243.8 L170.1,246.4 L169.4,249.7 L169.8,253.7 L170.0,257.3 L169.3,260.5 L168.6,264.4 L169.6,268.3 L169.3,271.7 L172.1,271.9 L171.8,267.9 L171.7,263.9 L172.6,261.2 L172.0,256.8 L171.9,252.8 L171.5,249.4 L172.1,245.7 L171.6,242.4 L172.6,238.4 L172.5,236.1 L171.8,232.9 L172.1,229.0 L172.2,226.1 L172.6,229.6 L172.5,232.9 L172.4,237.1 L171.6,239.9 L172.3,243.2 L172.1,247.2 L172.2,250.3 L171.9,254.5 L171.1,257.1 L171.6,261.2 L171.2,265.5 L171.1,269.3 L170.6,272.7 L167.3,272.3 L163.6,272.4 L161.0,272.0 L157.5,272.7 L154.7,272.4 L151.2,272.3 L147.8,272.7 L144.6,272.3 L142.1,272.0 L138.2,272.5 L134.2,271.5 L130.6,272.0 L127.8,271.7 L124.0,271.5 L121.2,271.0 L120.2,268.4 L118.9,264.5 L118.6,261.0 L118.2,256.8 L118.1,261.8 L120.6,264.2 L123.2,267.6 L125.3,270.1 L128.7,272.6 L132.5,272.7 L135.9,272.6 L139.8,271.8 L142.4,271.8 L146.3,272.1 L150.2,272.5 L153.7,272.0 L157.2,272.3 L161.8,272.6 L167.0,271.8 L171.1,271.2 L171.0,266.4 L170.8,262.6 L171.3,258.8 L171.4,255.0 L171.7,251.5 L171.6,246.6 L171.6,244.1 L171.5,240.3 L171.9,237.5 L171.7,234.4 L172.0,230.8 L172.3,227.3 L172.6,231.1 L171.2,233.4 L170.8,237.3 L170.3,241.3 L170.4,244.3 L169.9,247.8 L167.3,246.4 L163.1,246.2 L160.8,244.9 L157.0,243.1 L154.7,241.5 L151.5,241.3 L149.2,240.6 L145.3,238.1 L142.8,238.0 L139.7,235.8 L136.9,235.6 L133.8,233.9 L130.6,233.4 L127.2,231.0 L124.6,230.9 L121.4,229.6 L125.1,230.6 L129.3,230.6 L131.3,231.4 L134.8,230.7 L139.0,232.4 L140.8,232.4 L145.0,233.1 L148.1,233.9 L152.0,234.7 L155.1,235.0 L157.7,234.7 L161.7,235.6 L165.1,236.0 L168.1,236.8 L171.7,237.4 L171.0,240.9 L170.7,243.2 L170.5,246.8 L170.4,250.3 L169.2,253.8 L168.9,258.1 L168.7,260.9 L165.9,263.7 L164.8,265.9 L162.4,268.7 L160.1,272.1 L157.6,269.9 L154.8,268.6 L151.6,266.5 L148.8,265.1 L145.0,262.9 L143.2,260.8 L140.2,259.4 L137.1,257.2 L134.2,255.5 L132.0,254.4 L129.3,252.3 L127.3,250.7 L123.4,247.3 L120.6,245.0 L117.8,242.0 L117.4,238.2 L118.2,234.5 L117.4,230.5 L117.9,227.0 L118.3,222.9 L117.6,217.5 L121.2,217.9 L124.9,217.0 L128.0,217.7 L132.4,217.5 L136.2,217.5 L139.6,218.2 L143.5,217.7 L146.5,217.2 L149.6,216.8 L153.4,216.3 L156.7,216.3 L161.3,216.5 L164.8,217.4 L168.2,217.0 L171.1,217.7 L171.3,221.7 L171.3,224.5 L171.9,228.1 L172.2,231.4 L171.7,235.3 L172.3,238.1 L171.4,241.0 L171.1,244.1 L171.4,247.5 L171.1,252.4 L169.8,255.0 L169.3,258.9 L169.4,261.8 L169.4,265.3 L169.9,262.3 L170.3,258.0 L170.2,255.2 L170.4,252.1 L170.7,248.5 L170.4,245.6 L170.9,242.0 L170.4,238.3 L171.4,235.7 L170.4,231.4 L170.2,230.2 L170.4,225.8 L170.9,222.6 L167.7,225.2 L165.1,226.7 L162.0,228.0 L160.1,230.4 L156.8,232.0 L154.7,233.3 L152.0,235.0 L148.7,237.3 L145.1,239.1 L143.2,240.3 L140.7,243.1 L138.0,245.2 L134.9,245.8 L133.4,248.4 L130.4,249.7 L127.7,252.0 L124.9,253.8 L121.8,255.6 L125.9,254.9 L128.5,254.4 L132.4,253.9 L136.0,253.8 L139.4,253.2 L143.3,253.1 L146.9,253.0 L150.4,252.5 L148.4,254.9 L144.5,257.0 L142.8,258.9 L140.0,260.9 L137.4,263.8 L134.4,265.8 L131.7,268.8 L129.1,270.4 L133.5,270.5 L136.1,269.9 L141.4,270.4 L144.7,270.5 L141.5,270.8 L137.8,271.0 L134.2,271.7 L130.9,272.0 L127.3,272.7 L124.0,272.5 L121.6,271.7 L117.7,270.4 L118.3,267.0 L117.8,264.2 L118.4,261.3 L118.6,257.4 L119.1,253.5 L118.6,251.1 L119.6,247.4 L119.2,244.2 L118.8,241.3 L118.4,237.8 L119.4,234.9 L118.3,231.4 L118.2,227.3 L117.7,224.9 L118.1,221.1 L122.0,223.3 L123.4,223.8 L126.0,227.0 L129.9,228.1 L131.5,229.8 L133.7,232.2 L136.8,234.1 L139.2,234.8 L142.9,236.8 L145.8,239.0 L147.7,241.0 L151.3,241.7 L154.5,244.5 L156.7,245.3 L159.1,247.9 L161.6,249.4 L165.2,250.7 L168.8,251.4 L171.6,252.5 L171.0,255.4 L171.2,259.3 L171.4,262.6" fill="none" stroke="#222" stroke-width="0.3" stroke-linejoin="round"/>
<rect x="177.30" y="214.30" width="61.50" height="60.40" fill="#fff" stroke="#f2b6b6" stroke-width="0.9" />
<rect x="189.91" y="226.68" width="36.29" height="35.64" fill="none" stroke="#8fe88a" stroke-width="0.75" />
<path d="M230.9,217.2 L227.8,217.0 L223.7,216.4 L220.5,216.5 L215.8,216.6 L211.5,216.7 L207.9,216.8 L204.6,218.1 L201.8,216.9 L197.3,217.1 L194.0,217.3 L190.3,216.7 L188.0,216.3 L184.1,216.7 L187.7,217.3 L191.0,216.7 L193.9,216.9 L198.8,217.2 L201.8,217.2 L205.3,217.0 L208.4,218.2 L212.7,217.5 L216.1,217.3 L220.6,217.4 L224.2,217.3 L228.6,217.1 L232.7,216.9 L236.4,217.3 L236.0,221.7 L236.0,225.8 L235.9,231.2 L236.6,235.1 L236.7,239.3 L236.2,242.9 L236.3,246.4 L236.5,250.4 L235.8,247.2 L235.1,243.6 L234.8,238.0 L234.3,240.8 L235.4,245.9 L234.3,248.7 L234.1,252.0 L234.7,255.4 L234.5,259.9 L233.7,262.4 L233.4,265.4 L233.7,269.1 L229.9,270.4 L226.6,271.0 L223.0,271.3 L220.1,271.4 L216.6,271.3 L213.5,270.6 L210.3,271.3 L213.8,272.2 L216.9,270.9 L220.4,271.9 L223.8,272.0 L227.3,270.2 L230.3,268.0 L233.8,266.1 L235.6,264.9 L235.4,262.1 L235.1,257.0 L235.2,254.7 L235.0,250.1 L235.1,246.7 L235.1,243.1 L234.6,240.8 L234.9,236.5 L235.0,233.5 L234.5,230.0 L233.7,227.7 L233.3,224.2 L233.8,220.7 L233.5,217.7 L227.2,217.1 L223.5,216.5 L219.3,217.8 L215.6,216.7 L211.7,216.8 L210.0,216.3 L205.4,216.3 L203.3,217.0 L199.0,216.5 L195.6,218.0 L192.9,217.0 L189.5,216.5 L186.5,217.0 L186.5,219.6 L185.2,223.6 L184.2,225.9 L182.8,229.6 L182.7,232.1 L181.0,235.7 L180.3,239.0 L180.6,242.8 L181.2,246.4 L181.2,250.8 L181.1,253.8 L180.7,257.6 L180.4,261.2 L180.8,264.9 L181.1,267.8 L181.2,270.5 L184.5,271.6 L188.6,270.6 L191.4,271.0 L197.1,271.7 L199.8,272.0 L204.1,272.7 L207.4,271.1 L210.4,270.5 L214.4,271.2 L217.3,269.3 L220.7,269.9 L224.8,268.7 L227.6,269.1 L231.0,267.8 L234.6,267.1 L234.2,263.8 L234.5,259.9 L233.9,257.7 L233.2,254.4 L233.9,251.3 L233.4,248.0 L233.0,244.2 L232.3,241.5 L232.7,237.9 L233.9,234.9 L232.9,230.5 L234.1,226.4 L234.4,222.6 L234.6,218.8 L231.9,218.5 L227.1,219.0 L224.2,218.6 L220.7,218.4 L217.4,218.5 L213.7,219.2 L209.6,219.0 L205.9,218.3 L201.3,217.7 L197.5,216.5 L193.2,217.0 L189.9,217.4 L187.9,217.7 L184.4,217.8 L180.0,218.9 L179.4,221.8 L179.7,225.8 L179.6,228.7 L180.1,231.8 L180.3,235.1 L179.9,238.4 L179.3,241.5 L180.5,244.6 L180.8,247.9 L180.0,251.7 L179.8,254.2 L181.4,256.5 L182.7,259.9 L185.8,263.2 L186.3,266.9 L187.6,269.6 L190.2,272.0 L193.4,272.1 L196.7,270.6 L199.1,268.8 L202.3,266.7 L204.0,263.4 L207.2,261.2 L208.9,259.0 L211.4,257.0 L214.2,253.8 L216.7,252.3 L219.5,249.8 L221.3,247.0 L224.0,245.0 L226.7,242.8 L229.0,240.7 L226.7,238.4 L222.6,237.4 L220.2,236.3 L218.0,234.2 L213.8,232.3 L211.5,229.7 L209.9,228.1 L205.7,226.9 L203.0,225.7 L200.7,223.4 L197.8,222.6 L194.9,221.3 L191.9,218.9 L189.0,219.3 L186.7,222.4 L183.7,223.2 L180.6,225.6 L182.0,227.6 L184.9,230.7 L185.7,233.3 L187.7,235.5 L189.6,239.4 L191.7,241.9 L192.5,244.2 L195.1,246.9 L197.6,249.5 L198.8,254.0 L202.1,255.3 L202.8,258.1 L202.4,255.2 L202.2,252.0 L202.5,248.7 L202.2,244.3 L202.9,241.4 L201.1,238.4 L201.5,234.1 L200.5,231.6 L200.8,227.9 L200.3,225.1 L200.1,222.0 L200.4,218.5 L196.6,218.0 L193.3,218.2 L190.9,220.4 L189.3,223.6 L187.4,225.0 L184.8,228.9 L183.1,231.1 L182.2,234.6 L181.2,237.8 L181.2,242.2 L180.8,245.4 L181.0,249.4 L181.0,252.9 L180.1,256.2 L180.4,259.2 L180.4,263.2 L180.9,259.4 L180.4,256.2 L180.9,253.3 L180.9,250.1 L181.4,246.9 L180.8,242.6 L180.0,239.0 L179.5,235.0 L180.1,231.3 L179.7,227.9 L180.4,224.4 L180.8,220.6 L180.5,217.1 L184.4,217.9 L188.4,218.6 L191.2,217.3 L194.8,218.1 L198.4,217.5 L201.9,216.9 L205.3,217.8 L208.6,219.4 L211.6,220.2 L210.7,223.5 L208.5,226.3 L207.5,229.0 L207.2,232.2 L204.7,235.3 L203.0,238.2 L202.2,241.5 L205.4,242.7 L208.7,242.3 L211.4,243.4 L214.9,244.6 L218.2,244.7 L221.4,245.3 L224.1,246.3 L227.1,246.1 L230.5,247.9 L234.0,247.5 L233.9,251.5 L233.9,254.5 L234.6,258.1 L234.5,261.6 L234.4,264.7 L230.5,264.1 L227.0,265.8 L223.8,266.2 L220.6,267.3 L218.0,267.8 L213.9,269.6 L210.5,270.5 L206.2,272.3 L202.7,272.2 L200.4,272.2 L196.1,272.7 L193.1,272.7 L189.8,271.2 L187.1,272.3 L183.4,272.6 L183.4,268.6 L183.5,265.4 L182.8,262.2 L182.1,258.7 L181.7,263.0 L184.5,261.4 L187.8,261.4 L190.9,260.7 L194.2,259.8 L197.8,259.5 L200.4,258.1 L204.1,257.9 L207.3,256.8 L210.7,256.4 L212.6,255.8 L215.9,254.7 L219.2,253.7 L222.8,253.6 L225.4,252.0 L229.3,252.5 L232.0,250.9 L229.6,253.4 L227.9,256.4 L225.8,259.2 L224.3,261.1 L221.9,264.2 L220.0,266.6 L217.5,268.5 L216.2,271.7 L215.1,268.3 L214.6,265.7 L212.5,262.7 L210.9,258.8 L210.9,256.3 L210.2,253.0 L209.2,250.1 L206.9,246.2 L206.2,244.3 L205.6,240.7 L204.4,236.6 L203.2,234.1 L201.7,231.6 L200.7,227.7 L201.1,230.7 L202.2,234.0 L203.2,236.1 L204.5,240.0 L205.2,243.3 L206.1,246.4 L207.3,249.8 L207.4,253.2 L208.1,256.2 L209.5,259.4 L209.9,263.1 L211.3,266.5 L211.3,269.4 L214.5,269.4 L218.9,270.6 L222.2,270.6 L224.9,270.4 L227.8,271.2 L232.3,271.2 L235.6,271.5 L236.1,266.2 L236.2,263.2 L236.3,260.2 L236.6,256.2 L236.1,253.2 L236.5,250.1 L236.0,246.0 L236.3,243.2 L236.0,239.8 L235.6,236.8 L235.4,233.3 L234.9,230.1 L235.4,226.5 L234.7,230.1 L234.8,233.4 L234.3,236.9 L234.3,241.3 L234.0,244.4 L233.3,248.0 L234.3,251.3 L234.3,254.6 L234.7,257.5 L234.9,260.7 L234.9,264.5 L235.5,267.9 L235.6,271.0 L232.6,270.5 L228.6,270.0 L225.7,270.6 L223.1,269.4 L220.1,269.5 L216.4,268.5 L213.3,268.3 L209.4,268.5 L206.8,268.1 L202.8,267.0 L200.6,268.3 L196.8,267.5 L193.8,266.7 L189.7,266.0 L187.3,266.0 L190.7,264.6 L192.9,262.9 L196.7,261.6 L199.4,260.1 L201.9,258.8 L205.7,257.7 L208.5,255.2 L211.0,253.0 L214.8,252.9 L217.6,250.8 L220.2,249.6 L224.1,247.7 L226.3,246.7 L229.0,244.0 L232.3,244.2 L235.4,242.4 L235.1,236.1 L235.2,232.6 L235.3,229.1 L234.2,226.3 L234.6,222.9 L235.3,219.2 L235.3,216.4 L231.5,216.8 L227.2,217.0 L225.1,216.8 L221.6,216.8 L217.3,217.3 L213.8,216.8 L211.0,216.9 L206.8,217.2 L203.0,217.8 L200.2,218.2 L197.3,218.8 L193.9,219.7 L190.5,220.0 L194.0,219.2 L197.7,219.3 L200.3,218.8 L203.3,218.2 L206.8,219.1 L210.7,218.6 L212.4,217.9 L216.9,217.5 L218.5,218.2 L223.1,217.0 L227.4,217.5 L229.8,216.9 L225.8,217.4 L223.3,218.0 L220.0,217.7 L216.7,218.0 L213.8,218.0 L210.5,217.7 L206.5,218.4 L202.7,218.0 L199.0,216.6 L194.5,216.7 L191.3,216.7 L186.9,216.9 L185.4,221.2 L182.2,225.1 L182.4,228.4 L181.8,232.7 L180.9,235.6 L182.1,240.2 L180.9,242.8 L180.9,246.3 L180.8,250.0 L181.3,254.7 L181.4,259.2 L184.0,257.5 L187.8,256.4 L190.5,254.3 L193.0,254.5 L196.3,253.3 L199.2,252.3 L202.3,249.8 L203.8,248.9 L207.4,247.5 L210.6,246.2 L213.7,245.1 L214.5,241.1 L215.8,238.3 L215.3,235.1 L216.7,232.0 L218.7,235.0 L220.5,238.0 L221.3,241.0 L223.4,243.7 L224.5,247.0 L225.8,249.8 L228.0,252.8 L229.7,256.0 L230.9,259.5 L233.3,261.1 L234.4,264.7 L236.1,267.7 L236.3,264.2 L236.4,260.7 L235.9,258.3 L235.4,254.0 L234.8,251.1 L235.1,247.9 L235.4,244.6 L235.1,241.7 L234.9,238.1 L235.0,234.6 L234.5,232.5 L235.0,228.3 L235.0,225.8 L234.1,221.8 L234.3,218.9 L232.8,217.2 L229.1,216.9 L225.3,217.3 L221.9,217.4 L218.8,218.1 L214.6,218.5 L211.1,218.3 L207.2,218.1 L205.1,219.6 L200.4,219.2 L196.1,218.6 L192.0,219.1 L188.3,219.8 L183.9,218.4 L180.0,216.5 L183.7,216.9 L187.3,217.1 L190.0,217.0 L192.7,216.8 L195.4,217.0 L199.8,217.6 L203.8,218.0 L207.5,217.3 L211.2,217.0 L213.9,216.4 L217.8,216.5 L221.7,217.2 L225.8,218.1 L228.9,218.0 L232.9,218.5 L230.6,219.8 L227.5,221.7 L223.8,223.5 L221.3,225.9 L218.7,227.2 L216.1,229.4 L213.6,230.4 L210.7,232.3 L208.1,234.3 L204.4,235.3 L202.9,237.9 L199.8,239.7 L196.3,241.0 L194.5,241.5 L191.0,244.0 L188.1,246.4 L186.0,246.6 L182.8,249.2 L186.2,249.4 L189.7,250.0 L192.3,250.2 L195.9,250.9 L198.8,252.4 L203.2,252.2 L206.3,253.1 L209.8,253.2 L212.3,253.4 L215.2,254.4 L218.5,253.9 L222.2,255.0 L226.0,255.7 L229.3,255.9 L232.5,256.4 L235.9,256.5 L235.0,254.5 L235.7,249.8 L235.7,246.8 L235.0,243.7 L235.1,240.6 L235.1,236.9 L234.1,233.6 L234.0,229.9 L233.9,226.6 L230.5,224.8 L228.9,222.0 L226.9,220.1 L223.9,218.0 L217.7,218.1 L214.2,217.9 L210.1,218.3 L206.6,217.6 L202.6,217.1 L199.4,216.7 L196.3,219.0 L192.9,219.5 L189.9,219.6 L186.4,221.3 L183.2,221.8 L183.1,225.0 L182.5,229.0 L183.5,231.8 L182.1,235.5 L182.2,238.7 L181.6,241.2 L182.1,245.3 L182.0,248.2 L181.6,251.5 L180.9,257.6 L181.2,260.3 L183.1,264.6 L184.2,268.1 L184.3,271.3 L187.2,271.5 L191.3,271.4 L194.2,272.0 L198.9,271.8 L201.4,272.1 L203.0,272.1 L207.3,272.6 L211.4,272.7 L214.7,272.1 L218.4,272.6 L221.3,271.7 L225.0,272.7 L228.5,272.6 L230.4,269.6 L230.7,266.1 L232.2,262.7 L234.0,260.1 L235.3,256.9 L236.0,253.5 L235.5,250.4 L235.6,246.1 L235.5,243.9 L236.0,240.1 L235.4,237.7 L235.5,234.5 L236.2,230.9 L236.4,227.9 L235.9,224.5 L233.9,226.5 L232.0,229.7 L229.4,231.5 L226.4,235.0 L225.3,237.5 L223.5,238.2 L221.3,241.9 L219.3,244.8 L217.3,246.5 L214.5,250.2 L211.8,252.1 L211.1,254.1 L208.6,256.9 L206.5,259.2 L208.9,261.1 L212.3,265.6 L213.6,268.3 L217.1,270.6 L218.2,267.5 L218.7,264.1 L220.4,261.0 L220.8,258.5 L221.7,254.9 L223.1,251.3 L223.5,247.8 L224.6,245.4 L225.3,241.8 L226.1,238.7 L227.5,235.9 L227.7,233.5 L228.4,230.5 L230.7,226.4 L231.0,223.4 L232.0,220.4 L229.3,223.3 L228.1,225.1 L225.4,227.7 L223.4,229.6 L220.8,231.8 L219.2,235.8 L216.6,237.1 L214.3,239.8 L212.3,242.9 L209.8,244.6 L207.9,247.4 L205.1,249.8 L202.8,252.0 L200.9,255.3 L198.1,257.2 L196.0,259.8 L194.3,261.7 L192.5,264.3 L189.6,266.5 L187.3,269.2 L185.3,271.4 L183.7,268.4 L183.1,265.6 L182.1,261.8 L180.9,258.9 L179.5,255.4 L179.5,250.3 L179.4,246.0 L179.7,242.0 L179.4,237.8 L180.7,234.0 L181.2,230.1 L182.0,225.4 L184.2,221.2 L187.0,217.9 L191.6,218.0 L194.7,216.3 L199.1,217.0 L202.8,216.4 L206.1,217.8 L209.5,216.9 L213.7,217.6 L216.6,217.2 L220.2,216.9 L224.3,217.5 L227.3,218.9 L231.5,218.6 L235.7,217.7 L235.5,220.7 L235.5,224.1 L235.7,227.4 L235.6,231.6 L234.9,234.3 L235.2,237.5 L235.6,241.8 L235.9,244.0 L236.2,247.2 L236.3,251.9 L236.4,254.4 L236.2,257.8 L236.8,260.7 L236.4,264.8 L233.5,261.9 L231.2,258.7 L229.0,255.5 L226.0,255.7 L222.2,257.8 L219.0,257.3 L216.1,259.1 L213.5,259.7 L209.9,260.7 L206.9,262.8 L202.6,263.3 L200.2,264.0 L197.9,264.2 L193.4,265.4 L190.5,266.2 L187.3,267.9 L183.3,268.3 L180.7,269.4 L180.5,265.7 L181.7,262.1 L181.0,259.1 L180.9,255.1 L180.4,251.7 L180.8,248.2 L180.9,244.6 L180.1,240.3 L179.3,237.1 L179.3,233.0 L179.5,229.9 L180.1,226.9 L181.4,223.6 L181.2,219.7 L185.1,220.3 L188.1,219.2 L191.6,218.1 L194.6,218.0 L198.1,218.1 L202.0,218.6 L205.7,218.0 L209.0,217.8 L213.2,217.3 L216.2,217.0 L219.7,217.6 L223.6,217.2 L227.6,218.2 L231.2,218.9 L235.1,219.4 L231.3,220.0 L227.9,219.7 L225.2,219.0 L220.8,218.9 L216.8,219.2 L212.5,218.3 L208.9,217.6 L205.1,217.1 L201.6,216.7 L198.3,216.7 L194.7,216.4 L192.1,218.9 L189.2,221.0 L184.9,222.3 L183.4,225.8 L180.1,227.6 L180.6,230.1 L181.0,234.9 L182.1,237.5 L182.8,241.1 L183.1,244.3 L182.5,247.0 L182.3,250.2 L182.5,254.3 L181.9,257.2 L181.9,260.6 L181.4,263.8 L181.0,267.0 L184.4,268.3 L187.5,269.1 L191.5,269.6 L193.8,271.1 L197.4,271.9 L194.2,271.2 L190.7,271.5 L187.4,271.1 L182.0,270.6 L181.3,269.2 L182.6,271.9 L187.4,272.6 L191.3,271.8 L194.8,272.0 L199.0,271.9 L203.0,272.7 L206.5,271.8 L209.9,271.9 L213.6,270.8 L218.6,269.4 L222.9,269.8 L226.9,271.6 L230.8,271.4 L231.4,268.0 L234.8,264.6 L236.6,261.0 L236.5,255.9 L235.3,251.7 L235.6,247.7 L235.7,244.6 L235.7,240.5 L232.0,242.0 L229.2,242.6 L226.6,244.1 L223.4,245.1 L219.8,246.4 L216.3,248.2 L213.8,248.2 L210.5,249.8 L208.9,254.2 L208.1,255.6 L207.2,258.8 L206.4,262.0 L204.7,265.6 L205.7,262.8 L206.1,259.8 L207.8,256.2 L208.9,253.0 L210.0,249.6 L210.3,246.9 L211.9,243.3 L212.2,240.5 L213.4,237.0 L214.2,233.9 L215.6,231.3 L216.6,228.2 L217.0,223.1 L217.9,220.4 L219.1,218.0 L215.9,219.2 L211.7,218.7 L209.1,218.5 L204.3,218.6 L201.0,219.0 L197.6,219.5 L194.2,220.2 L191.1,221.4 L188.3,222.8 L184.3,223.5 L181.6,224.4 L182.1,227.8 L183.0,231.3 L182.2,235.3 L180.6,239.2 L182.8,241.4 L186.2,243.4 L189.1,245.6 L191.4,247.8 L191.7,253.0 L192.5,249.6 L193.2,246.1 L193.6,243.0 L193.1,239.9 L194.4,236.8 L195.3,233.5 L195.7,230.1 L196.0,225.6 L197.0,223.7 L197.0,220.1 L198.1,216.7 L194.8,218.0 L190.4,218.5 L188.5,220.6 L184.5,221.2 L180.8,222.7 L184.3,221.3 L188.1,220.1 L191.9,218.4 L194.9,219.5 L198.2,217.7 L201.5,216.4 L204.6,216.3 L207.8,216.3 L212.2,216.5 L215.3,217.4 L218.5,217.0 L222.2,217.9 L225.9,218.7 L229.1,219.7 L232.7,219.7 L236.5,220.3 L235.9,223.7 L236.8,226.1 L236.8,229.6 L236.5,233.5 L235.9,237.2 L235.4,240.1 L236.1,243.1 L236.8,247.1 L236.7,250.3 L235.4,254.3 L235.3,259.1 L234.2,262.7 L235.4,258.7 L234.6,255.2 L234.8,252.6 L235.6,248.4 L236.7,244.7 L236.5,241.0 L236.6,237.4 L236.8,234.2 L236.4,230.3 L236.3,226.8 L236.3,223.7 L236.2,220.8 L232.9,218.5 L227.9,217.7" fill="none" stroke="#222" stroke-width="0.3" stroke-linejoin="round"/>
<rect x="31.64" y="210.34" width="15.99" height="2.52" fill="#dfe3e3" stroke="#a9b0b0" stroke-width="0.4" />
<ellipse cx="31.64" cy="211.60" rx="0.9" ry="2.04" fill="#e8ecec" stroke="#9aa2a2" stroke-width="0.45"/>
<rect x="47.13" y="208.15" width="1.00" height="6.90" fill="#d0d6d6" stroke="#9aa2a2" stroke-width="0.35" />
<rect x="47.63" y="210.10" width="25.98" height="3.00" fill="#e9eded" stroke="#9aa2a2" stroke-width="0.45" />
<rect x="61.33" y="210.45" width="12.28" height="2.30" fill="#a9d6ea" stroke="none" stroke-width="1" />
<line x1="61.33" y1="210.10" x2="61.33" y2="213.10" stroke="#6a7a80" stroke-width="0.5" />
<path d="M73.61,210.34 L78.75,211.06 L78.75,212.14 L73.61,212.86 Z" fill="#3fae8a" stroke="none" stroke-width="1" />
<line x1="78.75" y1="211.60" x2="87.60" y2="211.60" stroke="#9a9a9a" stroke-width="0.5" />
<text x="261.20" y="137.20" font-size="14.2" text-anchor="start" fill="#000" stroke="#000" stroke-width="0.28" font-weight="bold" >C</text>
<line x1="293.00" y1="149.00" x2="293.00" y2="256.00" stroke="#151515" stroke-width="1.15" />
<line x1="289.00" y1="256.00" x2="293.00" y2="256.00" stroke="#151515" stroke-width="1.15" />
<text x="287.80" y="258.62" font-size="7.5" text-anchor="end" fill="#1a1a1a" stroke="#1a1a1a" stroke-width="0.20" font-weight="bold" >0</text>
<line x1="289.00" y1="244.06" x2="293.00" y2="244.06" stroke="#151515" stroke-width="1.15" />
<text x="287.80" y="246.68" font-size="7.5" text-anchor="end" fill="#1a1a1a" stroke="#1a1a1a" stroke-width="0.20" font-weight="bold" >5</text>
<line x1="289.00" y1="232.11" x2="293.00" y2="232.11" stroke="#151515" stroke-width="1.15" />
<text x="287.80" y="234.74" font-size="7.5" text-anchor="end" fill="#1a1a1a" stroke="#1a1a1a" stroke-width="0.20" font-weight="bold" >10</text>
<line x1="289.00" y1="220.17" x2="293.00" y2="220.17" stroke="#151515" stroke-width="1.15" />
<text x="287.80" y="222.79" font-size="7.5" text-anchor="end" fill="#1a1a1a" stroke="#1a1a1a" stroke-width="0.20" font-weight="bold" >15</text>
<line x1="289.00" y1="208.22" x2="293.00" y2="208.22" stroke="#151515" stroke-width="1.15" />
<text x="287.80" y="210.85" font-size="7.5" text-anchor="end" fill="#1a1a1a" stroke="#1a1a1a" stroke-width="0.20" font-weight="bold" >20</text>
<line x1="289.00" y1="196.28" x2="293.00" y2="196.28" stroke="#151515" stroke-width="1.15" />
<text x="287.80" y="198.90" font-size="7.5" text-anchor="end" fill="#1a1a1a" stroke="#1a1a1a" stroke-width="0.20" font-weight="bold" >25</text>
<line x1="289.00" y1="184.33" x2="293.00" y2="184.33" stroke="#151515" stroke-width="1.15" />
<text x="287.80" y="186.96" font-size="7.5" text-anchor="end" fill="#1a1a1a" stroke="#1a1a1a" stroke-width="0.20" font-weight="bold" >30</text>
<line x1="289.00" y1="172.39" x2="293.00" y2="172.39" stroke="#151515" stroke-width="1.15" />
<text x="287.80" y="175.01" font-size="7.5" text-anchor="end" fill="#1a1a1a" stroke="#1a1a1a" stroke-width="0.20" font-weight="bold" >35</text>
<line x1="289.00" y1="160.44" x2="293.00" y2="160.44" stroke="#151515" stroke-width="1.15" />
<text x="287.80" y="163.07" font-size="7.5" text-anchor="end" fill="#1a1a1a" stroke="#1a1a1a" stroke-width="0.20" font-weight="bold" >40</text>
<line x1="289.00" y1="148.50" x2="293.00" y2="148.50" stroke="#151515" stroke-width="1.15" />
<text x="287.80" y="151.12" font-size="7.5" text-anchor="end" fill="#1a1a1a" stroke="#1a1a1a" stroke-width="0.20" font-weight="bold" >45</text>
<line x1="292.50" y1="255.80" x2="415.00" y2="255.80" stroke="#151515" stroke-width="1.15" />
<line x1="311.10" y1="255.80" x2="311.10" y2="259.50" stroke="#151515" stroke-width="1.15" />
<line x1="352.80" y1="255.80" x2="352.80" y2="259.50" stroke="#151515" stroke-width="1.15" />
<line x1="394.30" y1="255.80" x2="394.30" y2="259.50" stroke="#151515" stroke-width="1.15" />
<text transform="translate(273.90,199.20) rotate(-90)" font-size="10.5" text-anchor="middle" fill="#111" stroke="#111" stroke-width="0.28" font-weight="bold">Time in center (%)</text>
<text x="312.00" y="271.60" font-size="10.3" text-anchor="middle" fill="#111" stroke="#111" stroke-width="0.28" font-weight="bold" >Saline</text>
<text x="354.00" y="271.60" font-size="10.3" text-anchor="middle" fill="#111" stroke="#111" stroke-width="0.28" font-weight="bold" >Sham</text>
<text x="397.00" y="271.60" font-size="10.3" text-anchor="middle" fill="#111" stroke="#111" stroke-width="0.28" font-weight="bold" >GPR173</text>
<rect x="298.77" y="220.17" width="9.35" height="35.83" fill="#fff" stroke="#1a1a1a" stroke-width="1.15" />
<rect x="314.88" y="229.24" width="8.45" height="26.76" fill="#fff" stroke="#1a1a1a" stroke-width="1.15" />
<rect x="340.77" y="225.90" width="8.45" height="30.10" fill="#fff" stroke="#1a1a1a" stroke-width="1.15" />
<rect x="356.57" y="233.31" width="8.45" height="22.69" fill="#fff" stroke="#1a1a1a" stroke-width="1.15" />
<rect x="381.97" y="225.90" width="8.85" height="30.10" fill="#fff" stroke="#1a1a1a" stroke-width="1.15" />
<rect x="398.07" y="220.17" width="8.45" height="35.83" fill="#fff" stroke="#1a1a1a" stroke-width="1.15" />
<line x1="303.45" y1="213.00" x2="303.45" y2="227.33" stroke="#111" stroke-width="1.0" />
<line x1="301.05" y1="213.00" x2="305.85" y2="213.00" stroke="#111" stroke-width="1.0" />
<line x1="301.05" y1="227.33" x2="305.85" y2="227.33" stroke="#111" stroke-width="1.0" />
<line x1="301.05" y1="220.17" x2="305.85" y2="220.17" stroke="#111" stroke-width="1.0" />
<circle cx="303.8" cy="189.1" r="1.1" fill="#111"/>
<circle cx="303.1" cy="214.2" r="1.1" fill="#111"/>
<circle cx="303.9" cy="220.2" r="1.1" fill="#111"/>
<circle cx="301.8" cy="230.9" r="1.1" fill="#111"/>
<circle cx="305.2" cy="242.4" r="1.1" fill="#111"/>
<line x1="319.10" y1="223.27" x2="319.10" y2="235.46" stroke="#111" stroke-width="1.0" />
<line x1="316.70" y1="223.27" x2="321.50" y2="223.27" stroke="#111" stroke-width="1.0" />
<line x1="316.70" y1="235.46" x2="321.50" y2="235.46" stroke="#111" stroke-width="1.0" />
<line x1="316.70" y1="229.24" x2="321.50" y2="229.24" stroke="#111" stroke-width="1.0" />
<circle cx="318.8" cy="203.4" r="1.2" fill="none" stroke="#4a4a4a" stroke-width="0.6"/>
<circle cx="319.4" cy="213.0" r="1.2" fill="none" stroke="#4a4a4a" stroke-width="0.6"/>
<circle cx="321.5" cy="232.1" r="1.2" fill="none" stroke="#4a4a4a" stroke-width="0.6"/>
<circle cx="318.9" cy="235.7" r="1.2" fill="none" stroke="#4a4a4a" stroke-width="0.6"/>
<circle cx="319.1" cy="240.5" r="1.2" fill="none" stroke="#4a4a4a" stroke-width="0.6"/>
<circle cx="319.6" cy="240.9" r="1.2" fill="none" stroke="#4a4a4a" stroke-width="0.6"/>
<line x1="345.00" y1="224.23" x2="345.00" y2="227.57" stroke="#111" stroke-width="1.0" />
<line x1="342.60" y1="224.23" x2="347.40" y2="224.23" stroke="#111" stroke-width="1.0" />
<line x1="342.60" y1="227.57" x2="347.40" y2="227.57" stroke="#111" stroke-width="1.0" />
<line x1="342.60" y1="225.90" x2="347.40" y2="225.90" stroke="#111" stroke-width="1.0" />
<circle cx="344.9" cy="222.8" r="1.1" fill="#111"/>
<circle cx="345.9" cy="224.9" r="1.1" fill="#111"/>
<circle cx="345.9" cy="225.7" r="1.1" fill="#111"/>
<circle cx="343.0" cy="226.6" r="1.1" fill="#111"/>
<circle cx="342.3" cy="227.3" r="1.1" fill="#111"/>
<circle cx="344.3" cy="226.1" r="1.1" fill="#111"/>
<line x1="360.80" y1="227.33" x2="360.80" y2="239.28" stroke="#111" stroke-width="1.0" />
<line x1="358.40" y1="227.33" x2="363.20" y2="227.33" stroke="#111" stroke-width="1.0" />
<line x1="358.40" y1="239.28" x2="363.20" y2="239.28" stroke="#111" stroke-width="1.0" />
<line x1="358.40" y1="233.31" x2="363.20" y2="233.31" stroke="#111" stroke-width="1.0" />
<circle cx="359.5" cy="214.2" r="1.2" fill="none" stroke="#4a4a4a" stroke-width="0.6"/>
<circle cx="361.8" cy="224.9" r="1.2" fill="none" stroke="#4a4a4a" stroke-width="0.6"/>
<circle cx="361.8" cy="236.9" r="1.2" fill="none" stroke="#4a4a4a" stroke-width="0.6"/>
<circle cx="362.8" cy="240.5" r="1.2" fill="none" stroke="#4a4a4a" stroke-width="0.6"/>
<circle cx="359.0" cy="242.9" r="1.2" fill="none" stroke="#4a4a4a" stroke-width="0.6"/>
<circle cx="359.3" cy="241.7" r="1.2" fill="none" stroke="#4a4a4a" stroke-width="0.6"/>
<line x1="386.40" y1="221.84" x2="386.40" y2="229.24" stroke="#111" stroke-width="1.0" />
<line x1="384.00" y1="221.84" x2="388.80" y2="221.84" stroke="#111" stroke-width="1.0" />
<line x1="384.00" y1="229.24" x2="388.80" y2="229.24" stroke="#111" stroke-width="1.0" />
<line x1="384.00" y1="225.90" x2="388.80" y2="225.90" stroke="#111" stroke-width="1.0" />
<circle cx="384.2" cy="210.6" r="1.1" fill="#111"/>
<circle cx="387.5" cy="223.8" r="1.1" fill="#111"/>
<circle cx="387.3" cy="224.9" r="1.1" fill="#111"/>
<circle cx="388.9" cy="226.1" r="1.1" fill="#111"/>
<circle cx="385.1" cy="229.7" r="1.1" fill="#111"/>
<circle cx="385.0" cy="233.3" r="1.1" fill="#111"/>
<circle cx="387.7" cy="236.9" r="1.1" fill="#111"/>
<circle cx="387.3" cy="240.5" r="1.1" fill="#111"/>
<line x1="402.30" y1="213.00" x2="402.30" y2="227.33" stroke="#111" stroke-width="1.0" />
<line x1="399.90" y1="213.00" x2="404.70" y2="213.00" stroke="#111" stroke-width="1.0" />
<line x1="399.90" y1="227.33" x2="404.70" y2="227.33" stroke="#111" stroke-width="1.0" />
<line x1="399.90" y1="220.17" x2="404.70" y2="220.17" stroke="#111" stroke-width="1.0" />
<circle cx="404.9" cy="195.1" r="1.2" fill="none" stroke="#4a4a4a" stroke-width="0.6"/>
<circle cx="399.6" cy="202.2" r="1.2" fill="none" stroke="#4a4a4a" stroke-width="0.6"/>
<circle cx="403.6" cy="205.8" r="1.2" fill="none" stroke="#4a4a4a" stroke-width="0.6"/>
<circle cx="400.4" cy="222.6" r="1.2" fill="none" stroke="#4a4a4a" stroke-width="0.6"/>
<circle cx="405.0" cy="224.9" r="1.2" fill="none" stroke="#4a4a4a" stroke-width="0.6"/>
<circle cx="399.6" cy="227.3" r="1.2" fill="none" stroke="#4a4a4a" stroke-width="0.6"/>
<circle cx="404.4" cy="229.7" r="1.2" fill="none" stroke="#4a4a4a" stroke-width="0.6"/>
<circle cx="403.3" cy="241.7" r="1.2" fill="none" stroke="#4a4a4a" stroke-width="0.6"/>
<path d="M302.90,186.40 L302.90,183.40 L318.70,183.40 L318.70,199.60" fill="none" stroke="#8f8f8f" stroke-width="0.9" />
<path d="M318.70,181.00 L318.70,174.20 L360.70,174.20 L360.70,190.80" fill="none" stroke="#8f8f8f" stroke-width="0.9" />
<path d="M318.70,159.00 L318.70,153.70 L402.20,153.70 L402.20,158.40" fill="none" stroke="#8f8f8f" stroke-width="0.9" />
<path d="M360.70,171.50 L360.70,165.40 L402.20,165.40 L402.20,180.00" fill="none" stroke="#8f8f8f" stroke-width="0.9" />
<path d="M344.60,219.70 L344.60,200.40 L360.70,200.40 L360.70,212.00" fill="none" stroke="#8f8f8f" stroke-width="0.9" />
<path d="M386.10,209.20 L386.10,185.20 L402.20,185.20 L402.20,192.60" fill="none" stroke="#8f8f8f" stroke-width="0.9" />
<text x="360.70" y="151.90" font-size="9.4" text-anchor="middle" fill="#111" stroke="#111" stroke-width="0.26" font-weight="bold" >N.S.</text>
<text x="381.40" y="163.30" font-size="9.4" text-anchor="middle" fill="#111" stroke="#111" stroke-width="0.26" font-weight="bold" >N.S.</text>
<text x="340.20" y="172.00" font-size="9.4" text-anchor="middle" fill="#111" stroke="#111" stroke-width="0.26" font-weight="bold" >N.S.</text>
<text x="310.80" y="182.00" font-size="9.4" text-anchor="middle" fill="#111" stroke="#111" stroke-width="0.26" font-weight="bold" >N.S.</text>
<text x="352.60" y="198.90" font-size="9.4" text-anchor="middle" fill="#111" stroke="#111" stroke-width="0.26" font-weight="bold" >N.S.</text>
<text x="394.20" y="183.40" font-size="9.4" text-anchor="middle" fill="#111" stroke="#111" stroke-width="0.26" font-weight="bold" >N.S.</text>
<circle cx="410.0" cy="148.8" r="1.6" fill="#111"/>
<text x="415.90" y="152.80" font-size="10.3" text-anchor="start" fill="#111" stroke="#111" stroke-width="0.28" font-weight="bold" >Before</text>
<circle cx="410.0" cy="160.8" r="1.4" fill="none" stroke="#333" stroke-width="0.6"/>
<text x="415.90" y="165.80" font-size="10.3" text-anchor="start" fill="#111" stroke="#111" stroke-width="0.28" font-weight="bold" >After</text>
<text x="452.20" y="137.20" font-size="14.2" text-anchor="start" fill="#000" stroke="#000" stroke-width="0.28" font-weight="bold" >D</text>
<line x1="498.40" y1="158.00" x2="498.40" y2="255.60" stroke="#151515" stroke-width="1.15" />
<line x1="493.60" y1="255.60" x2="498.40" y2="255.60" stroke="#151515" stroke-width="1.15" />
<text x="492.50" y="258.12" font-size="7.2" text-anchor="end" fill="#1a1a1a" stroke="#1a1a1a" stroke-width="0.20" font-weight="bold" >0</text>
<line x1="493.60" y1="235.98" x2="498.40" y2="235.98" stroke="#151515" stroke-width="1.15" />
<text x="492.50" y="238.50" font-size="7.2" text-anchor="end" fill="#1a1a1a" stroke="#1a1a1a" stroke-width="0.20" font-weight="bold" >2000</text>
<line x1="493.60" y1="216.36" x2="498.40" y2="216.36" stroke="#151515" stroke-width="1.15" />
<text x="492.50" y="218.88" font-size="7.2" text-anchor="end" fill="#1a1a1a" stroke="#1a1a1a" stroke-width="0.20" font-weight="bold" >4000</text>
<line x1="493.60" y1="196.74" x2="498.40" y2="196.74" stroke="#151515" stroke-width="1.15" />
<text x="492.50" y="199.26" font-size="7.2" text-anchor="end" fill="#1a1a1a" stroke="#1a1a1a" stroke-width="0.20" font-weight="bold" >6000</text>
<line x1="493.60" y1="177.12" x2="498.40" y2="177.12" stroke="#151515" stroke-width="1.15" />
<text x="492.50" y="179.64" font-size="7.2" text-anchor="end" fill="#1a1a1a" stroke="#1a1a1a" stroke-width="0.20" font-weight="bold" >8000</text>
<line x1="493.60" y1="157.50" x2="498.40" y2="157.50" stroke="#151515" stroke-width="1.15" />
<text x="492.50" y="160.02" font-size="7.2" text-anchor="end" fill="#1a1a1a" stroke="#1a1a1a" stroke-width="0.20" font-weight="bold" >10000</text>
<line x1="497.90" y1="255.40" x2="632.10" y2="255.40" stroke="#151515" stroke-width="1.15" />
<line x1="518.40" y1="255.40" x2="518.40" y2="259.10" stroke="#151515" stroke-width="1.15" />
<line x1="564.70" y1="255.40" x2="564.70" y2="259.10" stroke="#151515" stroke-width="1.15" />
<line x1="611.40" y1="255.40" x2="611.40" y2="259.10" stroke="#151515" stroke-width="1.15" />
<text transform="translate(467.80,201.30) rotate(-90)" font-size="10.5" text-anchor="middle" fill="#111" stroke="#111" stroke-width="0.28" font-weight="bold">Total distance (cm)</text>
<text x="521.40" y="270.30" font-size="10.3" text-anchor="middle" fill="#111" stroke="#111" stroke-width="0.28" font-weight="bold" >Saline</text>
<text x="569.20" y="270.30" font-size="10.3" text-anchor="middle" fill="#111" stroke="#111" stroke-width="0.28" font-weight="bold" >Sham</text>
<text x="615.80" y="270.30" font-size="10.3" text-anchor="middle" fill="#111" stroke="#111" stroke-width="0.28" font-weight="bold" >GPR173</text>
<rect x="504.97" y="215.38" width="10.25" height="40.22" fill="#fff" stroke="#1a1a1a" stroke-width="1.15" />
<rect x="522.18" y="224.70" width="10.25" height="30.90" fill="#fff" stroke="#1a1a1a" stroke-width="1.15" />
<rect x="551.08" y="210.47" width="10.25" height="45.13" fill="#fff" stroke="#1a1a1a" stroke-width="1.15" />
<rect x="568.68" y="227.15" width="9.95" height="28.45" fill="#fff" stroke="#1a1a1a" stroke-width="1.15" />
<rect x="597.58" y="216.36" width="9.95" height="39.24" fill="#fff" stroke="#1a1a1a" stroke-width="1.15" />
<rect x="614.78" y="211.45" width="10.05" height="44.15" fill="#fff" stroke="#1a1a1a" stroke-width="1.15" />
<line x1="510.10" y1="211.95" x2="510.10" y2="218.81" stroke="#111" stroke-width="1.0" />
<line x1="507.70" y1="211.95" x2="512.50" y2="211.95" stroke="#111" stroke-width="1.0" />
<line x1="507.70" y1="218.81" x2="512.50" y2="218.81" stroke="#111" stroke-width="1.0" />
<line x1="507.70" y1="215.38" x2="512.50" y2="215.38" stroke="#111" stroke-width="1.0" />
<circle cx="512.5" cy="208.5" r="1.1" fill="#111"/>
<circle cx="511.2" cy="211.5" r="1.1" fill="#111"/>
<circle cx="511.7" cy="212.4" r="1.1" fill="#111"/>
<circle cx="512.5" cy="214.4" r="1.1" fill="#111"/>
<circle cx="508.7" cy="216.4" r="1.1" fill="#111"/>
<circle cx="510.9" cy="219.3" r="1.1" fill="#111"/>
<circle cx="512.5" cy="221.3" r="1.1" fill="#111"/>
<circle cx="512.3" cy="222.2" r="1.1" fill="#111"/>
<line x1="527.30" y1="221.26" x2="527.30" y2="228.13" stroke="#111" stroke-width="1.0" />
<line x1="524.90" y1="221.26" x2="529.70" y2="221.26" stroke="#111" stroke-width="1.0" />
<line x1="524.90" y1="228.13" x2="529.70" y2="228.13" stroke="#111" stroke-width="1.0" />
<line x1="524.90" y1="224.70" x2="529.70" y2="224.70" stroke="#111" stroke-width="1.0" />
<circle cx="525.3" cy="211.5" r="1.2" fill="none" stroke="#4a4a4a" stroke-width="0.6"/>
<circle cx="528.4" cy="221.3" r="1.2" fill="none" stroke="#4a4a4a" stroke-width="0.6"/>
<circle cx="528.1" cy="223.2" r="1.2" fill="none" stroke="#4a4a4a" stroke-width="0.6"/>
<circle cx="527.2" cy="225.2" r="1.2" fill="none" stroke="#4a4a4a" stroke-width="0.6"/>
<circle cx="525.6" cy="226.2" r="1.2" fill="none" stroke="#4a4a4a" stroke-width="0.6"/>
<circle cx="529.1" cy="232.1" r="1.2" fill="none" stroke="#4a4a4a" stroke-width="0.6"/>
<line x1="556.20" y1="205.57" x2="556.20" y2="215.38" stroke="#111" stroke-width="1.0" />
<line x1="553.80" y1="205.57" x2="558.60" y2="205.57" stroke="#111" stroke-width="1.0" />
<line x1="553.80" y1="215.38" x2="558.60" y2="215.38" stroke="#111" stroke-width="1.0" />
<line x1="553.80" y1="210.47" x2="558.60" y2="210.47" stroke="#111" stroke-width="1.0" />
<circle cx="558.9" cy="194.8" r="1.1" fill="#111"/>
<circle cx="554.0" cy="206.6" r="1.1" fill="#111"/>
<circle cx="553.3" cy="210.5" r="1.1" fill="#111"/>
<circle cx="559.2" cy="214.4" r="1.1" fill="#111"/>
<circle cx="554.3" cy="220.3" r="1.1" fill="#111"/>
<line x1="573.65" y1="225.19" x2="573.65" y2="229.11" stroke="#111" stroke-width="1.0" />
<line x1="571.25" y1="225.19" x2="576.05" y2="225.19" stroke="#111" stroke-width="1.0" />
<line x1="571.25" y1="229.11" x2="576.05" y2="229.11" stroke="#111" stroke-width="1.0" />
<line x1="571.25" y1="227.15" x2="576.05" y2="227.15" stroke="#111" stroke-width="1.0" />
<circle cx="576.2" cy="223.2" r="1.2" fill="none" stroke="#4a4a4a" stroke-width="0.6"/>
<circle cx="576.3" cy="225.2" r="1.2" fill="none" stroke="#4a4a4a" stroke-width="0.6"/>
<circle cx="576.0" cy="226.2" r="1.2" fill="none" stroke="#4a4a4a" stroke-width="0.6"/>
<circle cx="571.2" cy="228.1" r="1.2" fill="none" stroke="#4a4a4a" stroke-width="0.6"/>
<circle cx="574.2" cy="230.1" r="1.2" fill="none" stroke="#4a4a4a" stroke-width="0.6"/>
<circle cx="573.2" cy="231.1" r="1.2" fill="none" stroke="#4a4a4a" stroke-width="0.6"/>
<line x1="602.55" y1="213.42" x2="602.55" y2="219.30" stroke="#111" stroke-width="1.0" />
<line x1="600.15" y1="213.42" x2="604.95" y2="213.42" stroke="#111" stroke-width="1.0" />
<line x1="600.15" y1="219.30" x2="604.95" y2="219.30" stroke="#111" stroke-width="1.0" />
<line x1="600.15" y1="216.36" x2="604.95" y2="216.36" stroke="#111" stroke-width="1.0" />
<circle cx="603.8" cy="208.5" r="1.1" fill="#111"/>
<circle cx="604.6" cy="212.4" r="1.1" fill="#111"/>
<circle cx="600.6" cy="214.4" r="1.1" fill="#111"/>
<circle cx="605.5" cy="216.4" r="1.1" fill="#111"/>
<circle cx="600.7" cy="218.3" r="1.1" fill="#111"/>
<circle cx="603.6" cy="220.3" r="1.1" fill="#111"/>
<circle cx="600.1" cy="221.3" r="1.1" fill="#111"/>
<line x1="619.80" y1="208.02" x2="619.80" y2="214.89" stroke="#111" stroke-width="1.0" />
<line x1="617.40" y1="208.02" x2="622.20" y2="208.02" stroke="#111" stroke-width="1.0" />
<line x1="617.40" y1="214.89" x2="622.20" y2="214.89" stroke="#111" stroke-width="1.0" />
<line x1="617.40" y1="211.45" x2="622.20" y2="211.45" stroke="#111" stroke-width="1.0" />
<circle cx="619.1" cy="192.8" r="1.2" fill="none" stroke="#4a4a4a" stroke-width="0.6"/>
<circle cx="622.4" cy="202.6" r="1.2" fill="none" stroke="#4a4a4a" stroke-width="0.6"/>
<circle cx="621.9" cy="208.5" r="1.2" fill="none" stroke="#4a4a4a" stroke-width="0.6"/>
<circle cx="618.1" cy="211.5" r="1.2" fill="none" stroke="#4a4a4a" stroke-width="0.6"/>
<circle cx="622.0" cy="214.4" r="1.2" fill="none" stroke="#4a4a4a" stroke-width="0.6"/>
<circle cx="620.6" cy="220.3" r="1.2" fill="none" stroke="#4a4a4a" stroke-width="0.6"/>
<path d="M509.70,205.20 L509.70,199.60 L527.20,199.60 L527.20,208.00" fill="none" stroke="#8f8f8f" stroke-width="0.9" />
<path d="M527.20,192.00 L527.20,146.10 L619.80,146.10 L619.80,152.80" fill="none" stroke="#8f8f8f" stroke-width="0.9" />
<path d="M527.20,192.00 L527.20,172.40 L573.00,172.40 L573.00,180.30" fill="none" stroke="#8f8f8f" stroke-width="0.9" />
<path d="M573.00,165.90 L573.00,160.10 L619.80,160.10 L619.80,180.00" fill="none" stroke="#8f8f8f" stroke-width="0.9" />
<path d="M556.30,192.60 L556.30,187.30 L573.00,187.30 L573.00,210.00" fill="none" stroke="#8f8f8f" stroke-width="0.9" />
<path d="M602.30,203.60 L602.30,185.20 L619.80,185.20 L619.80,190.40" fill="none" stroke="#8f8f8f" stroke-width="0.9" />
<text x="518.80" y="201.20" font-size="12.5" text-anchor="middle" fill="#111" stroke="#111" stroke-width="0.28" font-weight="bold" >*</text>
<text x="564.50" y="190.60" font-size="12.5" text-anchor="middle" fill="#111" stroke="#111" stroke-width="0.28" font-weight="bold" >**</text>
<text x="573.30" y="144.70" font-size="7.8" text-anchor="middle" fill="#111" stroke="#111" stroke-width="0.45" font-weight="bold" font-style="italic">##</text>
<text x="594.20" y="157.70" font-size="7.6" text-anchor="middle" fill="#111" stroke="#111" stroke-width="0.45" font-weight="bold" font-style="italic">###</text>
<text x="551.40" y="169.80" font-size="9.4" text-anchor="middle" fill="#111" stroke="#111" stroke-width="0.26" font-weight="bold" >N.S.</text>
<text x="611.00" y="183.80" font-size="9.4" text-anchor="middle" fill="#111" stroke="#111" stroke-width="0.26" font-weight="bold" >N.S.</text>
<circle cx="631.6" cy="148.8" r="1.6" fill="#111"/>
<text x="637.50" y="152.80" font-size="10.3" text-anchor="start" fill="#111" stroke="#111" stroke-width="0.28" font-weight="bold" >Before</text>
<circle cx="631.6" cy="160.9" r="1.4" fill="none" stroke="#333" stroke-width="0.6"/>
<text x="637.50" y="165.90" font-size="10.3" text-anchor="start" fill="#111" stroke="#111" stroke-width="0.28" font-weight="bold" >After</text>
<text x="7.60" y="314.60" font-size="14.2" text-anchor="start" fill="#000" stroke="#000" stroke-width="0.28" font-weight="bold" >E</text>
<text x="112.80" y="320.20" font-size="10.3" text-anchor="middle" fill="#111" stroke="#111" stroke-width="0.28" font-weight="bold" >Day 1</text>
<text x="192.00" y="320.20" font-size="10.3" text-anchor="middle" fill="#111" stroke="#111" stroke-width="0.28" font-weight="bold" >Day 2</text>
<text x="270.50" y="320.20" font-size="10.3" text-anchor="middle" fill="#111" stroke="#111" stroke-width="0.28" font-weight="bold" >Day 3</text>
<text x="66.00" y="353.80" font-size="10.3" text-anchor="middle" fill="#111" stroke="#111" stroke-width="0.28" font-weight="bold" >before</text>
<text x="66.00" y="417.00" font-size="10.3" text-anchor="middle" fill="#111" stroke="#111" stroke-width="0.28" font-weight="bold" >after</text>
<rect x="85.50" y="321.90" width="55.20" height="54.30" fill="#e2e2e2" stroke="#c4c4c4" stroke-width="0.8" rx="1"/>
<path d="M86.0,322.4 L140.2,322.4 L133.7,328.9 L92.5,328.9 Z" fill="#cfcfcf" stroke="none" stroke-width="1" />
<path d="M86.0,322.4 L92.5,328.9 L92.5,369.2 L86.0,375.7 Z" fill="#dadada" stroke="none" stroke-width="1" />
<path d="M140.2,322.4 L140.2,375.7 L133.7,369.2 L133.7,328.9 Z" fill="#ededed" stroke="none" stroke-width="1" />
<path d="M86.0,375.7 L92.5,369.2 L133.7,369.2 L140.2,375.7 Z" fill="#f1f1f1" stroke="none" stroke-width="1" />
<rect x="92.50" y="328.90" width="41.20" height="40.30" fill="#e6e5e5" stroke="none" stroke-width="1" />
<path d="M113.10,329.90 C114.40,330.12 114.83,331.52 115.04,332.60 C116.02,334.22 116.23,338.54 115.80,341.35 C114.72,343.08 111.48,343.08 110.29,341.35 C109.86,338.54 110.08,334.22 111.37,332.60 C111.59,331.41 112.02,330.12 113.10,329.90 Z" fill="#47453f" stroke="none" stroke-width="1" />
<path d="M113.42,342.64 C114.18,345.56 113.75,347.18 112.67,349.34 C111.80,350.96 111.59,352.58 111.80,353.66" fill="none" stroke="#b98a86" stroke-width="0.7020000000000001" />
<rect x="164.40" y="321.90" width="55.20" height="54.30" fill="#e2e2e2" stroke="#c4c4c4" stroke-width="0.8" rx="1"/>
<path d="M164.9,322.4 L219.1,322.4 L212.6,328.9 L171.4,328.9 Z" fill="#cfcfcf" stroke="none" stroke-width="1" />
<path d="M164.9,322.4 L171.4,328.9 L171.4,369.2 L164.9,375.7 Z" fill="#dadada" stroke="none" stroke-width="1" />
<path d="M219.1,322.4 L219.1,375.7 L212.6,369.2 L212.6,328.9 Z" fill="#ededed" stroke="none" stroke-width="1" />
<path d="M164.9,375.7 L171.4,369.2 L212.6,369.2 L219.1,375.7 Z" fill="#f1f1f1" stroke="none" stroke-width="1" />
<rect x="171.40" y="328.90" width="41.20" height="40.30" fill="#e6e5e5" stroke="none" stroke-width="1" />
<path d="M192.00,329.90 C193.30,330.12 193.73,331.52 193.94,332.60 C194.92,334.22 195.13,338.54 194.70,341.35 C193.62,343.08 190.38,343.08 189.19,341.35 C188.76,338.54 188.98,334.22 190.27,332.60 C190.49,331.41 190.92,330.12 192.00,329.90 Z" fill="#47453f" stroke="none" stroke-width="1" />
<path d="M192.32,342.64 C193.08,345.56 192.65,347.18 191.57,349.34 C190.70,350.96 190.49,352.58 190.70,353.66" fill="none" stroke="#b98a86" stroke-width="0.7020000000000001" />
<circle cx="181.4" cy="358.2" r="2.8" fill="#f0b82a" stroke="#c89a20" stroke-width="0.4"/>
<circle cx="202.5" cy="358.2" r="2.8" fill="#f0b82a" stroke="#c89a20" stroke-width="0.4"/>
<rect x="243.20" y="321.90" width="54.70" height="54.30" fill="#e2e2e2" stroke="#c4c4c4" stroke-width="0.8" rx="1"/>
<path d="M243.7,322.4 L297.4,322.4 L290.9,328.9 L250.2,328.9 Z" fill="#cfcfcf" stroke="none" stroke-width="1" />
<path d="M243.7,322.4 L250.2,328.9 L250.2,369.2 L243.7,375.7 Z" fill="#dadada" stroke="none" stroke-width="1" />
<path d="M297.4,322.4 L297.4,375.7 L290.9,369.2 L290.9,328.9 Z" fill="#ededed" stroke="none" stroke-width="1" />
<path d="M243.7,375.7 L250.2,369.2 L290.9,369.2 L297.4,375.7 Z" fill="#f1f1f1" stroke="none" stroke-width="1" />
<rect x="250.20" y="328.90" width="40.70" height="40.30" fill="#e6e5e5" stroke="none" stroke-width="1" />
<path d="M270.55,329.90 C271.85,330.12 272.28,331.52 272.49,332.60 C273.47,334.22 273.68,338.54 273.25,341.35 C272.17,343.08 268.93,343.08 267.74,341.35 C267.31,338.54 267.53,334.22 268.82,332.60 C269.04,331.41 269.47,330.12 270.55,329.90 Z" fill="#47453f" stroke="none" stroke-width="1" />
<path d="M270.87,342.64 C271.63,345.56 271.20,347.18 270.12,349.34 C269.25,350.96 269.04,352.58 269.25,353.66" fill="none" stroke="#b98a86" stroke-width="0.7020000000000001" />
<circle cx="259.8" cy="358.2" r="2.8" fill="#f0b82a" stroke="#c89a20" stroke-width="0.4"/>
<rect x="276.80" y="355.40" width="5.60" height="5.60" fill="#7ed957" stroke="#5cb040" stroke-width="0.4" />
<rect x="85.50" y="381.60" width="55.20" height="55.00" fill="#e2e2e2" stroke="#c4c4c4" stroke-width="0.8" rx="1"/>
<path d="M86.0,382.1 L140.2,382.1 L133.7,388.6 L92.5,388.6 Z" fill="#cfcfcf" stroke="none" stroke-width="1" />
<path d="M86.0,382.1 L92.5,388.6 L92.5,429.6 L86.0,436.1 Z" fill="#dadada" stroke="none" stroke-width="1" />
<path d="M140.2,382.1 L140.2,436.1 L133.7,429.6 L133.7,388.6 Z" fill="#ededed" stroke="none" stroke-width="1" />
<path d="M86.0,436.1 L92.5,429.6 L133.7,429.6 L140.2,436.1 Z" fill="#f1f1f1" stroke="none" stroke-width="1" />
<rect x="92.50" y="388.60" width="41.20" height="41.00" fill="#e6e5e5" stroke="none" stroke-width="1" />
<path d="M113.10,389.60 C114.40,389.82 114.83,391.22 115.04,392.30 C116.02,393.92 116.23,398.24 115.80,401.05 C114.72,402.78 111.48,402.78 110.29,401.05 C109.86,398.24 110.08,393.92 111.37,392.30 C111.59,391.11 112.02,389.82 113.10,389.60 Z" fill="#47453f" stroke="none" stroke-width="1" />
<path d="M113.42,402.34 C114.18,405.26 113.75,406.88 112.67,409.04 C111.80,410.66 111.59,412.28 111.80,413.36" fill="none" stroke="#b98a86" stroke-width="0.7020000000000001" />
<rect x="164.40" y="381.60" width="55.20" height="55.00" fill="#e2e2e2" stroke="#c4c4c4" stroke-width="0.8" rx="1"/>
<path d="M164.9,382.1 L219.1,382.1 L212.6,388.6 L171.4,388.6 Z" fill="#cfcfcf" stroke="none" stroke-width="1" />
<path d="M164.9,382.1 L171.4,388.6 L171.4,429.6 L164.9,436.1 Z" fill="#dadada" stroke="none" stroke-width="1" />
<path d="M219.1,382.1 L219.1,436.1 L212.6,429.6 L212.6,388.6 Z" fill="#ededed" stroke="none" stroke-width="1" />
<path d="M164.9,436.1 L171.4,429.6 L212.6,429.6 L219.1,436.1 Z" fill="#f1f1f1" stroke="none" stroke-width="1" />
<rect x="171.40" y="388.60" width="41.20" height="41.00" fill="#e6e5e5" stroke="none" stroke-width="1" />
<path d="M192.00,389.60 C193.30,389.82 193.73,391.22 193.94,392.30 C194.92,393.92 195.13,398.24 194.70,401.05 C193.62,402.78 190.38,402.78 189.19,401.05 C188.76,398.24 188.98,393.92 190.27,392.30 C190.49,391.11 190.92,389.82 192.00,389.60 Z" fill="#47453f" stroke="none" stroke-width="1" />
<path d="M192.32,402.34 C193.08,405.26 192.65,406.88 191.57,409.04 C190.70,410.66 190.49,412.28 190.70,413.36" fill="none" stroke="#b98a86" stroke-width="0.7020000000000001" />
<circle cx="181.4" cy="417.9" r="2.8" fill="#f0b82a" stroke="#c89a20" stroke-width="0.4"/>
<circle cx="202.5" cy="417.9" r="2.8" fill="#f0b82a" stroke="#c89a20" stroke-width="0.4"/>
<rect x="243.20" y="381.60" width="54.70" height="55.00" fill="#e2e2e2" stroke="#c4c4c4" stroke-width="0.8" rx="1"/>
<path d="M243.7,382.1 L297.4,382.1 L290.9,388.6 L250.2,388.6 Z" fill="#cfcfcf" stroke="none" stroke-width="1" />
<path d="M243.7,382.1 L250.2,388.6 L250.2,429.6 L243.7,436.1 Z" fill="#dadada" stroke="none" stroke-width="1" />
<path d="M297.4,382.1 L297.4,436.1 L290.9,429.6 L290.9,388.6 Z" fill="#ededed" stroke="none" stroke-width="1" />
<path d="M243.7,436.1 L250.2,429.6 L290.9,429.6 L297.4,436.1 Z" fill="#f1f1f1" stroke="none" stroke-width="1" />
<rect x="250.20" y="388.60" width="40.70" height="41.00" fill="#e6e5e5" stroke="none" stroke-width="1" />
<path d="M270.55,389.60 C271.85,389.82 272.28,391.22 272.49,392.30 C273.47,393.92 273.68,398.24 273.25,401.05 C272.17,402.78 268.93,402.78 267.74,401.05 C267.31,398.24 267.53,393.92 268.82,392.30 C269.04,391.11 269.47,389.82 270.55,389.60 Z" fill="#47453f" stroke="none" stroke-width="1" />
<path d="M270.87,402.34 C271.63,405.26 271.20,406.88 270.12,409.04 C269.25,410.66 269.04,412.28 269.25,413.36" fill="none" stroke="#b98a86" stroke-width="0.7020000000000001" />
<circle cx="259.8" cy="417.9" r="2.8" fill="#f0b82a" stroke="#c89a20" stroke-width="0.4"/>
<rect x="276.80" y="415.10" width="5.60" height="5.60" fill="#7ed957" stroke="#5cb040" stroke-width="0.4" />
<text x="142.00" y="350.00" font-size="10.3" text-anchor="start" fill="#111" stroke="#111" stroke-width="0.28" font-weight="bold" >24h</text>
<line x1="142.00" y1="351.20" x2="160.50" y2="351.20" stroke="#222" stroke-width="0.9" />
<path d="M160.00,349.70 L162.60,351.20 L160.00,352.70 Z" fill="#222" stroke="none" stroke-width="1" />
<text x="221.20" y="350.00" font-size="10.3" text-anchor="start" fill="#111" stroke="#111" stroke-width="0.28" font-weight="bold" >24h</text>
<line x1="221.20" y1="351.20" x2="239.70" y2="351.20" stroke="#222" stroke-width="0.9" />
<path d="M239.20,349.70 L241.80,351.20 L239.20,352.70 Z" fill="#222" stroke="none" stroke-width="1" />
<text x="142.00" y="409.70" font-size="10.3" text-anchor="start" fill="#111" stroke="#111" stroke-width="0.28" font-weight="bold" >24h</text>
<line x1="142.00" y1="410.90" x2="160.50" y2="410.90" stroke="#222" stroke-width="0.9" />
<path d="M160.00,409.40 L162.60,410.90 L160.00,412.40 Z" fill="#222" stroke="none" stroke-width="1" />
<text x="221.20" y="409.70" font-size="10.3" text-anchor="start" fill="#111" stroke="#111" stroke-width="0.28" font-weight="bold" >24h</text>
<line x1="221.20" y1="410.90" x2="239.70" y2="410.90" stroke="#222" stroke-width="0.9" />
<path d="M239.20,409.40 L241.80,410.90 L239.20,412.40 Z" fill="#222" stroke="none" stroke-width="1" />
<text x="112.80" y="447.10" font-size="10.3" text-anchor="middle" fill="#111" stroke="#111" stroke-width="0.28" font-weight="bold" >Habituation</text>
<text x="112.80" y="459.90" font-size="10.3" text-anchor="middle" fill="#111" stroke="#111" stroke-width="0.28" font-weight="bold" >(10 min)</text>
<text x="192.00" y="447.10" font-size="10.3" text-anchor="middle" fill="#111" stroke="#111" stroke-width="0.28" font-weight="bold" >Training</text>
<text x="192.00" y="459.90" font-size="10.3" text-anchor="middle" fill="#111" stroke="#111" stroke-width="0.28" font-weight="bold" >(5 min)</text>
<text x="270.50" y="447.10" font-size="10.3" text-anchor="middle" fill="#111" stroke="#111" stroke-width="0.28" font-weight="bold" >Test</text>
<text x="270.50" y="459.90" font-size="10.3" text-anchor="middle" fill="#111" stroke="#111" stroke-width="0.28" font-weight="bold" >(5 min)</text>
<rect x="53.11" y="377.62" width="15.51" height="2.35" fill="#dfe3e3" stroke="#a9b0b0" stroke-width="0.4" />
<ellipse cx="53.11" cy="378.80" rx="0.9" ry="1.90" fill="#e8ecec" stroke="#9aa2a2" stroke-width="0.45"/>
<rect x="68.12" y="375.58" width="1.00" height="6.44" fill="#d0d6d6" stroke="#9aa2a2" stroke-width="0.35" />
<rect x="68.62" y="377.40" width="25.21" height="2.80" fill="#e9eded" stroke="#9aa2a2" stroke-width="0.45" />
<rect x="81.92" y="377.75" width="11.91" height="2.10" fill="#a9d6ea" stroke="none" stroke-width="1" />
<line x1="81.92" y1="377.40" x2="81.92" y2="380.20" stroke="#6a7a80" stroke-width="0.5" />
<path d="M93.83,377.62 L98.81,378.30 L98.81,379.30 L93.83,379.98 Z" fill="#3fae8a" stroke="none" stroke-width="1" />
<line x1="98.81" y1="378.80" x2="107.40" y2="378.80" stroke="#9a9a9a" stroke-width="0.5" />
<text x="360.60" y="314.60" font-size="14.2" text-anchor="start" fill="#000" stroke="#000" stroke-width="0.28" font-weight="bold" >F</text>
<text x="452.30" y="314.20" font-size="10.3" text-anchor="middle" fill="#111" stroke="#111" stroke-width="0.28" font-weight="bold" >Saline</text>
<text x="524.20" y="314.20" font-size="10.3" text-anchor="middle" fill="#111" stroke="#111" stroke-width="0.28" font-weight="bold" >Sham</text>
<text x="597.60" y="314.20" font-size="10.3" text-anchor="middle" fill="#111" stroke="#111" stroke-width="0.28" font-weight="bold" >GPR173</text>
<text x="394.20" y="354.80" font-size="10.3" text-anchor="middle" fill="#111" stroke="#111" stroke-width="0.28" font-weight="bold" >Before</text>
<text x="394.30" y="430.20" font-size="10.3" text-anchor="middle" fill="#111" stroke="#111" stroke-width="0.28" font-weight="bold" >After</text>
<rect x="418.10" y="317.30" width="69.70" height="68.40" fill="#fff" stroke="#f2b6b6" stroke-width="0.9" />
<path d="M425.2,321.2 L423.1,323.9 L422.1,328.3 L422.2,331.8 L422.5,335.2 L423.0,338.2 L422.8,342.2 L422.1,346.0 L423.0,348.7 L422.5,351.4 L424.1,354.8 L423.2,358.6 L423.5,361.7 L422.4,366.5 L424.3,369.5 L426.2,372.9 L428.8,376.7 L430.4,379.9 L432.8,381.6 L437.1,380.3 L440.4,380.7 L444.9,379.9 L447.5,381.0 L451.2,380.9 L452.7,377.0 L454.5,373.9 L453.9,371.9 L457.0,368.8 L457.3,365.8 L459.2,362.5 L460.7,359.6 L461.3,357.0 L463.3,352.7 L463.4,350.1 L465.4,347.4 L466.2,343.4 L468.3,340.8 L469.8,338.2 L470.1,333.2 L471.9,331.0 L473.3,326.8 L474.4,325.2 L475.7,322.0 L480.0,321.5 L484.2,320.8 L484.5,324.3 L484.4,328.6 L483.9,331.8 L483.9,335.8 L482.6,339.5 L482.2,343.5 L482.5,347.1 L481.9,350.6 L477.5,351.9 L474.6,352.5 L471.4,353.5 L468.0,354.2 L464.2,356.0 L465.9,352.1 L468.4,350.2 L469.8,346.9 L471.6,345.0 L472.7,341.5 L475.0,337.8 L476.7,335.6 L478.0,332.9 L479.6,329.9 L482.3,326.5 L483.7,323.4 L483.6,326.8 L483.8,329.7 L483.8,333.5 L483.7,337.4 L483.7,340.4 L483.4,343.6 L484.0,346.9 L483.3,350.2 L483.8,354.1 L484.8,358.1 L484.7,361.6 L483.5,364.3 L484.8,368.1 L483.0,370.7 L479.6,373.9 L478.4,376.8 L475.3,379.5 L473.3,382.4 L472.4,379.3 L471.7,376.1 L471.7,373.2 L470.4,370.2 L469.8,367.2 L469.1,363.0 L468.1,360.4 L467.6,357.4 L466.2,353.5 L466.1,350.5 L464.3,348.2 L463.9,344.5 L463.8,341.5 L460.0,339.6 L457.8,339.0 L454.1,337.7 L451.9,334.8 L450.2,334.4 L446.0,332.8 L443.9,330.5 L441.4,329.3 L438.3,328.0 L434.1,326.5 L431.8,325.4 L428.3,323.3 L426.4,322.2 L423.4,320.9 L426.4,320.9 L430.2,320.6 L433.3,321.3 L436.2,321.6 L440.1,322.3 L443.8,322.0 L446.5,322.2 L449.8,321.3 L454.2,321.7 L456.3,320.9 L459.9,321.6 L463.8,320.9 L461.4,320.1 L457.0,321.6 L454.5,320.3 L450.1,321.6 L447.0,320.5 L444.2,321.2 L440.2,321.1 L438.1,320.6 L433.8,322.1 L430.2,321.9 L427.5,322.2 L423.5,322.5 L423.9,326.1 L423.9,329.8 L424.1,332.2 L423.7,336.5 L422.7,338.8 L423.7,342.3 L422.9,346.4 L423.1,349.1 L422.9,352.2 L424.0,355.0 L424.6,359.5 L423.5,362.0 L424.1,365.9 L424.5,368.1 L424.3,372.3 L423.2,378.2 L426.9,379.1 L429.4,379.5 L433.2,380.3 L437.1,382.0 L440.0,381.0 L442.7,382.3 L441.9,378.3 L442.5,376.2 L442.7,371.6 L443.2,369.8 L443.7,366.3 L443.7,362.7 L443.6,360.4 L443.1,356.4 L443.9,353.0 L442.9,350.2 L443.7,347.4 L443.2,344.0 L443.1,340.0 L443.6,337.3 L446.5,338.8 L448.9,339.0 L454.0,340.8 L456.3,342.6 L460.6,342.7 L464.0,344.3 L466.0,344.7 L470.1,345.7 L472.5,347.1 L477.0,348.5 L479.9,349.6 L479.5,352.2 L477.0,355.4 L475.3,357.1 L473.4,360.7 L471.1,362.8 L468.9,365.8 L467.9,369.3 L465.7,371.1 L464.1,374.4 L462.2,376.1 L460.9,378.2 L459.1,382.1 L462.8,381.9 L465.3,382.9 L469.0,381.6 L473.0,381.7 L476.3,382.0 L479.4,381.2 L483.2,381.7 L482.8,377.1 L484.2,374.0 L483.9,370.4 L482.8,366.0 L483.4,369.7 L482.8,373.5 L480.0,375.0 L475.2,377.0 L472.6,377.6 L470.6,379.8 L467.3,380.4 L464.3,382.2 L459.9,382.8 L457.1,382.1 L453.9,382.9 L450.3,381.4 L446.0,382.6 L442.2,381.5 L439.1,382.0 L436.1,381.2 L432.3,381.5 L429.1,382.1 L426.2,381.7 L425.3,377.6 L425.2,375.4 L425.1,371.8 L424.0,369.0 L423.5,366.3 L422.6,362.2 L422.6,359.4 L422.6,354.8 L422.8,349.9 L422.3,346.4 L423.3,342.4 L422.4,337.6 L424.6,334.6 L425.4,332.0 L427.1,328.9 L429.2,326.2 L431.0,321.9 L433.8,321.8 L438.3,321.4 L441.1,321.6 L444.2,321.7 L447.7,321.9 L451.4,320.9 L455.4,320.8 L459.8,320.6 L463.5,321.6 L467.4,322.1 L471.0,323.2 L474.7,324.2 L476.8,324.3 L482.0,326.0 L482.3,330.3 L482.9,334.4 L482.6,338.2 L483.3,341.4 L481.7,345.5 L482.1,347.8 L481.5,351.7 L482.2,355.1 L482.5,358.1 L482.3,362.1 L482.7,365.4 L483.1,369.3 L484.2,372.4 L484.5,377.5 L483.3,381.7 L480.4,381.5 L476.1,381.8 L472.6,382.1 L469.8,381.6 L465.4,380.5 L461.9,382.0 L458.3,381.9 L454.9,381.7 L450.5,381.9 L448.3,381.7 L444.9,382.7 L441.5,381.4 L438.7,381.1 L435.3,382.1 L432.2,381.6 L428.2,381.4 L425.6,382.1 L422.6,381.8 L423.0,378.7 L423.0,375.4 L422.3,372.6 L422.8,368.7 L422.7,365.6 L423.7,369.7 L424.1,372.4 L425.7,375.4 L426.3,377.9 L427.3,381.5 L431.9,382.9 L435.0,382.6 L439.2,382.0 L442.5,381.5 L442.7,378.6 L442.9,374.7 L443.4,370.5 L443.9,368.7 L443.8,366.0 L443.1,361.3 L445.5,358.1 L446.2,356.1 L444.4,351.1 L445.9,348.2 L445.2,345.8 L446.4,342.0 L446.4,338.4 L448.5,339.9 L451.9,342.2 L456.1,343.2 L457.7,346.1 L459.7,347.7 L463.2,348.6 L465.7,350.7 L467.9,352.6 L471.1,354.3 L474.5,355.6 L476.8,357.2 L479.6,359.4 L480.7,355.7 L481.2,352.1 L480.1,349.2 L481.0,346.9 L481.4,341.8 L483.5,339.3 L483.2,336.4 L484.8,331.7 L484.7,328.8 L484.8,331.4 L484.1,335.2 L484.1,338.2 L484.7,341.6 L483.6,345.7 L484.2,348.2 L484.4,351.0 L484.4,354.8 L484.0,358.1 L484.4,361.5 L484.1,364.5 L483.6,368.2 L483.7,372.4 L484.4,375.5 L482.5,378.4 L484.5,382.5" fill="none" stroke="#222" stroke-width="0.32" stroke-linejoin="round"/>
<circle cx="436.3" cy="369.2" r="3.3" fill="#f0b82a" stroke="#c89a20" stroke-width="0.4"/>
<rect x="465.70" y="366.20" width="6.00" height="6.00" fill="#7ed957" stroke="#5cb040" stroke-width="0.4" />
<rect x="491.20" y="317.30" width="69.80" height="68.40" fill="#fff" stroke="#f2b6b6" stroke-width="0.9" />
<path d="M514.6,320.4 L515.9,322.5 L516.3,325.4 L517.0,330.1 L517.7,333.7 L518.8,336.0 L519.7,338.9 L519.6,342.8 L520.3,345.3 L522.4,349.4 L524.0,351.7 L524.1,354.8 L524.7,358.2 L525.7,361.1 L526.4,363.9 L523.7,364.2 L519.9,365.8 L516.4,366.7 L514.4,367.5 L511.4,368.9 L507.8,369.3 L504.0,367.4 L501.7,365.1 L498.4,362.7 L495.3,360.7 L495.4,356.9 L495.4,351.7 L497.7,353.3 L500.1,355.6 L503.0,357.5 L506.2,360.5 L509.1,361.6 L510.7,364.7 L512.7,366.8 L516.2,368.8 L518.4,371.4 L520.8,373.8 L523.4,374.5 L526.1,377.2 L527.2,374.1 L526.3,371.3 L526.1,367.7 L525.6,364.2 L524.8,359.7 L525.4,356.8 L525.8,355.5 L525.3,350.9 L525.0,348.2 L524.3,344.0 L523.9,340.9 L524.7,337.3 L525.5,334.9 L524.2,330.7 L524.1,327.9 L522.6,330.5 L520.7,334.5 L519.6,335.0 L517.3,339.7 L515.0,342.6 L514.2,345.4 L512.2,347.9 L510.7,351.8 L508.7,353.3 L507.6,355.9 L504.9,359.4 L505.1,361.3 L501.7,365.1 L500.4,367.3 L498.7,370.1 L501.3,369.4 L504.4,367.4 L508.2,367.0 L511.0,366.0 L514.4,364.8 L517.3,364.4 L519.6,363.4 L523.4,360.8 L526.7,360.6 L528.8,359.0 L532.9,358.3 L535.6,356.2 L538.6,356.7 L541.2,356.0 L544.8,353.3 L547.6,352.3 L551.0,350.6 L555.0,350.6 L557.1,348.9 L557.1,352.5 L556.5,355.8 L555.4,361.2 L554.9,363.4 L554.2,367.7 L553.7,371.2 L552.7,375.5 L550.8,378.5 L550.6,382.8 L546.7,382.9 L544.1,382.5 L540.9,381.6 L536.9,382.1 L534.9,381.5 L530.9,381.9 L524.9,381.3 L520.9,380.8 L516.6,382.7 L514.2,382.0 L510.0,382.5 L514.8,381.9 L518.2,381.4 L513.9,381.0 L511.1,379.4 L506.7,379.5 L502.6,378.5 L499.6,379.5 L495.5,379.3 L496.1,375.2 L497.3,371.7 L497.0,374.8 L496.9,378.8 L496.4,381.5 L500.5,382.2 L503.6,381.7 L506.2,382.2 L510.2,382.2 L514.1,382.9 L517.0,382.7 L514.2,382.4 L509.0,382.8 L507.5,381.9 L503.6,382.0 L500.1,381.8 L495.7,382.0 L498.7,381.9 L502.5,382.6 L505.8,382.4 L508.9,382.7 L512.4,382.6 L512.7,379.2 L512.2,375.8 L511.9,372.6 L512.2,369.2 L512.1,366.0 L512.0,362.6 L512.4,358.9 L511.8,356.8 L511.5,353.2 L510.4,349.0 L510.7,345.6 L511.4,341.9 L511.2,339.4 L510.8,335.5 L510.1,332.0 L510.2,329.3 L510.6,325.7 L507.7,327.6 L505.1,330.9 L502.6,332.5 L499.0,335.0 L495.4,336.8 L495.5,334.1 L496.8,330.2 L498.3,326.9 L498.0,323.4 L499.3,320.2 L502.4,320.7 L505.1,321.8 L509.4,321.3 L513.1,321.7 L515.8,321.9 L519.1,322.2 L522.6,321.4 L528.4,323.1 L531.7,323.1 L535.2,322.4 L539.0,323.2 L542.3,322.1 L546.4,322.6 L549.2,320.7 L553.3,321.3 L553.1,324.8 L554.1,327.8 L555.1,331.4 L554.5,334.1 L555.7,337.7 L557.6,342.5 L555.5,345.3 L553.7,348.6 L552.0,350.8 L550.4,354.5 L548.8,356.7 L547.6,359.2 L544.6,362.4 L543.7,364.8 L541.6,368.3 L539.8,371.1 L538.1,373.8 L535.8,371.5 L533.8,369.8 L531.9,367.1 L529.5,363.5 L528.0,362.0 L524.9,358.0 L524.2,355.8 L521.3,354.5 L519.5,351.7 L518.3,348.6 L515.8,346.3 L513.4,344.3 L512.1,341.4 L509.1,338.7 L508.2,336.1 L504.8,334.2 L503.9,331.2 L501.9,329.2 L500.0,326.6 L497.7,323.5 L495.6,321.5 L498.8,321.5 L502.3,321.0 L505.3,320.6 L509.9,320.1 L513.7,320.3 L517.8,321.0 L520.5,320.2 L524.0,320.8 L525.0,325.1 L524.8,327.8 L525.6,330.6 L526.2,334.5 L527.1,338.3 L527.7,341.9 L528.4,345.3 L528.5,348.4 L530.4,352.0 L531.0,355.2 L532.3,358.0 L532.4,360.7 L534.5,363.1 L535.8,367.1 L535.5,369.4 L536.1,373.3 L537.9,375.6 L538.2,378.8 L539.5,382.5 L542.6,382.5 L546.0,382.0 L548.4,380.2 L551.8,378.5 L553.5,376.5 L557.2,374.7 L555.7,370.7 L557.3,367.4 L556.9,362.7 L557.0,358.9 L557.3,355.3 L557.0,352.6 L556.4,349.0 L556.4,345.6 L557.2,342.4 L557.6,337.8 L557.1,334.9 L556.5,338.6 L554.7,341.6 L552.2,344.7 L551.9,347.1 L550.8,350.6 L549.9,354.2 L546.9,357.6 L546.5,360.6 L543.0,360.6 L540.0,359.9 L535.8,360.0 L533.0,359.4 L529.3,359.7 L526.4,359.0 L522.6,358.8 L519.6,358.8 L516.7,357.7 L512.6,359.4 L508.5,358.2 L506.4,358.0 L502.2,357.7 L501.3,362.0 L500.6,364.6 L500.1,368.3 L498.7,372.3 L498.6,375.8 L496.7,378.9 L497.1,382.6 L496.6,378.7 L495.7,376.3 L495.6,372.8 L496.2,369.1 L495.4,365.8 L495.2,363.6 L495.3,358.9 L495.9,356.6 L495.7,351.7 L495.6,348.6 L495.5,345.5 L495.9,342.8 L495.2,339.2 L496.2,335.8 L496.4,332.4 L496.1,330.1 L496.2,325.9 L496.3,322.7 L501.2,322.4 L505.4,320.2 L508.4,320.1 L513.0,320.5 L516.6,321.4 L520.2,320.7 L523.4,321.1 L526.9,321.0 L532.3,322.7 L536.2,322.9 L538.3,322.8 L542.0,322.3 L545.7,322.9 L548.0,322.2 L552.0,321.9 L555.7,325.8 L555.3,329.1 L556.5,332.2 L556.8,335.1 L556.6,338.5 L557.3,341.6 L556.7,345.4 L556.8,348.7 L556.7,352.0 L557.1,355.4 L557.5,358.6 L557.0,362.1 L557.0,365.3 L557.3,369.5 L554.6,372.0 L554.3,375.7 L554.7,378.7 L553.1,375.3 L551.1,373.0 L548.6,370.6 L547.9,367.5 L545.0,365.6 L543.6,362.7 L542.0,359.1 L539.9,357.0 L537.3,353.3 L536.6,351.4 L534.1,348.6 L532.6,346.7 L530.5,343.1 L528.9,340.6 L526.7,337.6 L526.2,333.6 L523.4,332.2" fill="none" stroke="#222" stroke-width="0.32" stroke-linejoin="round"/>
<circle cx="509.4" cy="369.2" r="3.3" fill="#f0b82a" stroke="#c89a20" stroke-width="0.4"/>
<rect x="538.80" y="366.20" width="6.00" height="6.00" fill="#7ed957" stroke="#5cb040" stroke-width="0.4" />
<rect x="564.20" y="317.30" width="69.80" height="68.40" fill="#fff" stroke="#f2b6b6" stroke-width="0.9" />
<path d="M613.3,381.0 L610.2,380.8 L606.1,380.4 L601.8,380.9 L599.2,380.9 L597.0,380.7 L592.8,381.3 L589.4,380.9 L586.2,380.9 L581.5,380.2 L578.4,381.0 L575.0,381.3 L571.1,380.9 L570.9,377.5 L570.0,373.9 L570.1,369.8 L568.7,366.5 L568.4,362.3 L569.9,367.2 L570.3,363.5 L570.0,359.3 L570.2,354.1 L569.0,350.0 L568.9,346.7 L568.4,343.1 L568.9,339.3 L568.8,336.0 L568.2,332.4 L568.3,330.0 L568.6,325.6 L572.2,324.4 L576.3,322.1 L579.6,320.4 L584.1,320.1 L586.7,321.3 L590.4,321.8 L594.7,321.3 L598.0,321.0 L602.8,320.9 L605.2,321.4 L610.1,320.7 L612.4,320.7 L614.6,321.4 L618.2,321.1 L622.0,322.0 L625.1,322.6 L628.4,322.1 L630.5,326.4 L628.8,329.3 L627.3,332.7 L625.6,336.0 L623.8,338.2 L622.8,341.9 L621.3,344.1 L619.3,347.3 L618.4,350.1 L615.7,353.6 L615.0,355.7 L613.3,353.7 L609.2,351.3 L607.1,349.9 L603.8,348.0 L601.1,345.6 L599.0,343.6 L596.1,341.5 L593.0,339.5 L590.7,336.7 L587.1,335.4 L585.1,333.3 L582.8,331.4 L579.4,329.4 L576.6,328.0 L574.8,325.1 L571.5,323.0 L574.9,323.4 L579.2,322.1 L581.5,322.5 L584.4,321.8 L587.7,321.0 L591.0,320.6 L594.4,320.2 L598.0,320.7 L601.1,321.2 L605.2,323.1 L608.4,322.8 L611.1,321.8 L615.7,320.7 L619.8,320.5 L624.5,322.4 L627.8,323.3 L630.2,328.1 L630.1,331.7 L630.4,336.1 L630.8,338.8 L629.7,343.2 L629.3,339.4 L628.8,335.8 L628.1,333.8 L628.1,329.5 L627.7,326.0 L627.3,323.3 L623.9,323.3 L620.1,323.6 L616.6,323.2 L614.4,321.5 L610.1,321.3 L605.6,321.5 L603.0,321.6 L599.5,320.6 L602.4,322.9 L604.1,324.9 L607.2,326.7 L608.7,328.9 L611.5,332.5 L614.0,334.4 L617.4,336.9 L619.3,338.5 L621.6,340.6 L624.1,343.1 L621.2,341.6 L618.1,340.6 L614.9,339.9 L611.6,338.0 L607.6,336.7 L606.7,336.0 L602.4,334.1 L599.2,333.8 L595.6,332.0 L592.9,330.7 L589.1,329.1 L586.8,327.7 L583.8,326.5 L580.7,326.1 L577.2,323.9 L573.6,323.8 L570.7,321.7 L570.7,325.9 L569.9,329.5 L569.2,334.2 L569.2,339.4 L570.1,343.2 L572.5,345.6 L574.2,348.1 L575.7,350.5 L579.3,352.8 L580.2,355.6 L582.3,357.8 L584.3,360.3 L586.9,362.2 L589.1,365.9 L591.9,362.8 L594.2,361.7 L595.0,359.1 L597.6,355.5 L600.2,352.8 L601.6,350.8 L604.9,348.5 L605.7,346.1 L609.3,344.0 L611.7,341.2 L613.2,338.6 L615.6,336.2 L618.5,333.6 L619.6,330.9 L621.9,328.2 L625.0,326.5 L626.8,323.2 L629.0,321.2 L625.4,320.8 L622.5,320.6 L619.3,320.8 L615.5,321.4 L611.9,321.8 L609.0,322.2 L605.9,321.5 L602.3,321.9 L598.3,322.5 L593.9,323.4 L591.9,322.3 L586.6,322.6 L583.8,321.5 L579.9,321.4 L577.3,320.2 L576.6,324.1 L573.8,327.7 L572.9,330.2 L572.8,333.6 L571.0,337.1 L569.9,340.6 L569.8,344.3 L570.1,346.5 L569.9,351.9 L570.0,354.8 L570.0,358.7 L569.5,361.6 L568.3,364.8 L569.0,369.2 L569.8,372.5 L568.2,376.6 L568.2,379.0 L568.3,382.8 L571.7,382.7 L574.0,382.9 L579.1,381.9 L582.0,382.7 L585.2,382.0 L587.9,382.9 L592.4,382.5 L595.2,382.3 L597.0,380.1 L601.8,379.2 L604.9,377.0 L607.9,374.4 L610.9,373.4 L612.2,370.5 L610.7,367.6 L611.4,362.7 L610.9,360.5 L611.7,357.0 L610.7,353.5 L612.0,349.5 L611.8,347.8 L611.7,344.0 L611.8,340.6 L612.7,335.5 L611.8,334.2 L611.5,330.0 L612.4,326.6 L612.3,323.2 L608.5,322.3 L604.4,322.5 L601.1,321.9 L597.5,321.8 L593.6,322.4 L590.0,321.1 L587.0,321.0 L583.5,322.5 L579.5,321.3 L575.7,321.3 L572.3,322.0 L568.4,323.5 L571.5,325.0 L573.2,328.4 L575.2,330.3 L577.9,333.2 L579.9,335.9 L581.6,336.6 L585.2,341.1 L587.1,342.7 L584.7,345.1 L581.7,347.5 L580.3,350.0 L577.3,352.5 L574.9,354.8 L573.3,358.4 L570.7,359.2 L568.9,362.1 L572.3,360.2 L573.8,357.7 L575.8,355.4 L580.4,354.6 L582.8,352.4 L584.6,350.1 L588.1,347.9 L590.7,345.9 L593.2,343.9 L595.7,342.2 L597.9,344.9 L600.2,346.4 L603.2,350.4 L604.6,352.5 L606.6,355.2 L608.3,357.2 L611.1,358.4 L612.9,361.9 L614.7,363.6 L617.4,366.2 L619.6,368.8 L621.8,370.9 L623.9,373.0 L626.8,375.8 L628.4,378.2 L630.4,380.8 L628.6,378.8 L627.2,375.4 L624.2,372.7 L623.1,369.4 L621.3,366.9 L619.6,364.2 L616.8,360.5 L615.0,357.9 L614.6,356.7 L612.4,353.4 L610.2,349.7 L607.8,347.0 L606.4,344.9 L604.9,341.7 L602.5,340.0 L600.1,336.8 L599.1,333.1 L596.7,331.0 L594.6,327.3 L592.9,325.6 L590.9,328.3 L591.3,331.4 L589.7,334.4 L588.5,337.8 L586.9,340.5 L586.0,344.3 L584.6,346.7 L582.9,349.2 L581.1,353.1 L581.0,355.1 L579.5,359.1 L577.9,360.7 L577.1,364.4 L575.9,367.7 L574.4,370.1 L574.0,373.0 L572.3,376.5 L570.7,380.2 L570.0,382.2 L569.4,377.4 L570.4,374.3 L570.5,369.6 L570.7,367.0 L570.2,363.3 L569.9,360.3 L570.7,356.3 L571.4,353.0 L570.2,349.3 L569.4,345.8 L569.5,342.0 L570.1,340.0 L570.0,335.2 L570.2,331.6 L570.0,328.4 L573.9,326.1 L576.9,324.5 L580.6,323.9 L583.8,321.5 L587.3,320.7 L591.5,321.7 L596.2,320.5 L600.0,321.6 L596.4,321.8 L592.6,320.7 L589.4,320.3 L585.4,320.4 L581.3,320.6 L577.8,320.1 L575.7,322.3 L572.7,326.7 L570.3,328.5 L570.2,332.7 L569.6,336.2 L569.8,339.2 L569.9,343.0 L569.0,347.6 L569.7,349.8 L569.0,354.0 L571.9,355.2 L575.7,356.0 L578.6,358.2 L582.2,360.1 L584.4,361.2 L587.9,361.9 L590.9,364.2 L594.1,364.1 L597.1,365.7 L600.1,366.8 L603.3,368.4 L607.2,370.7 L609.9,371.4 L611.5,367.9 L612.5,365.2 L614.2,362.4 L616.1,360.5 L617.7,356.5 L619.6,354.2 L621.0,350.5 L622.5,348.5 L623.3,345.1 L625.3,342.6 L628.0,339.2 L628.8,336.9 L630.3,333.4 L630.0,329.9 L630.6,326.0 L630.1,322.6 L626.6,321.3 L623.5,321.3 L620.6,320.1 L616.8,320.4 L613.3,321.3 L610.3,322.0 L606.1,322.6 L608.9,323.7 L613.4,323.6 L617.0,323.0 L620.0,324.5 L623.1,324.0 L626.6,324.6 L625.4,327.6 L622.6,330.1 L620.0,331.2 L618.2,333.9 L615.8,336.4 L613.7,338.3 L611.0,341.7 L609.6,344.0 L613.8,345.3 L616.3,346.6 L619.9,346.5 L623.9,348.4 L627.9,350.1 L630.4,350.9 L629.9,354.5 L630.7,358.1 L628.9,362.7 L628.0,366.2 L630.1,370.0 L630.0,373.1 L626.9,373.9 L624.7,377.7 L621.6,379.0 L618.5,380.7 L615.1,380.3 L611.1,381.6 L607.5,381.7 L603.6,381.9 L601.8,382.9 L598.0,382.9 L593.8,382.8 L597.4,382.8 L600.0,381.9 L602.8,382.5 L606.7,382.9 L610.7,382.7 L613.8,381.9 L615.6,382.0 L619.0,382.5 L622.7,382.2 L618.9,381.6 L615.9,382.9 L612.7,381.1 L610.0,381.4 L606.6,381.6 L603.5,380.6 L598.2,380.2 L594.5,380.6 L591.2,380.8 L587.0,381.2 L584.0,379.0 L580.0,378.9 L575.8,378.3 L573.0,376.8 L569.8,376.6 L570.6,372.9 L570.3,369.2 L570.4,365.7 L570.0,362.8 L570.4,359.1 L568.5,355.9 L568.2,352.2 L568.6,348.8 L568.7,344.8 L569.1,342.6 L569.0,339.4 L569.4,335.6 L569.3,331.7 L570.3,328.5 L569.6,325.5 L570.1,322.1 L573.7,322.9 L578.0,323.0 L581.0,322.8 L585.2,323.2 L588.1,322.9 L592.6,322.1 L596.0,321.5 L599.6,320.7 L603.0,321.2 L603.1,324.3 L602.7,327.6 L603.7,331.0 L603.9,334.5 L604.0,337.3 L603.3,340.0 L603.9,343.3 L603.0,347.7 L603.7,350.2 L603.7,353.3 L603.2,356.6 L604.0,359.2 L604.4,363.5 L604.0,365.2 L604.3,369.1 L604.2,372.4 L604.1,375.8 L606.3,373.6 L609.3,371.2 L610.3,368.9 L613.3,365.9 L615.8,363.4 L618.1,360.9 L621.1,358.9 L623.4,355.7 L624.9,352.7 L627.8,350.7 L630.6,348.5 L628.1,347.2 L624.5,346.5 L621.6,346.2 L618.2,344.2 L615.4,342.4 L612.3,342.3 L609.8,340.1 L606.6,338.7 L603.8,336.6 L601.0,334.2 L598.4,333.1 L595.3,331.2 L592.5,329.1 L590.0,327.3 L587.0,325.1 L584.3,323.2 L581.1,321.0 L583.1,323.3 L584.6,327.4 L585.9,330.0 L587.0,333.5 L589.8,335.7 L590.2,338.9 L592.5,341.0 L593.8,344.7 L594.8,347.5 L596.3,350.8 L598.2,352.5 L600.1,356.5 L601.7,358.9 L598.3,355.8 L596.1,355.3 L594.1,353.4 L590.7,351.3 L588.3,349.1 L586.0,347.4 L583.2,345.8 L580.7,342.7 L577.7,341.4 L575.5,339.2 L572.5,339.1 L569.8,336.1 L569.9,333.1 L570.4,327.8 L570.3,325.0 L570.1,320.8 L573.6,320.9 L577.7,321.0 L581.0,320.6 L584.4,320.3 L588.5,320.7 L591.4,321.2 L594.4,320.6 L598.5,320.7 L603.4,321.7 L606.0,324.7 L606.9,327.0 L609.1,329.5 L610.3,332.3 L613.1,333.7 L614.4,336.8 L617.0,339.5 L618.6,342.9 L620.8,344.7 L621.6,348.1 L622.0,350.7 L622.8,354.3 L623.9,356.5 L624.2,360.1 L624.5,364.2 L625.4,366.8 L626.9,369.1 L626.0,373.3 L626.9,376.2 L622.8,378.4 L619.0,380.7 L616.1,380.9 L613.1,381.2 L610.4,381.1 L607.1,382.9 L602.8,381.7 L601.0,378.5 L600.6,375.9 L599.0,372.1 L597.9,368.7 L596.6,365.8 L596.1,363.0 L594.7,358.8 L593.6,356.4 L592.6,352.5 L590.9,350.3 L590.2,347.1 L589.5,343.4 L587.6,340.6 L586.3,337.0 L582.7,337.7 L580.7,339.3 L577.7,340.8 L574.7,342.6 L575.7,345.7 L577.8,348.2 L579.9,351.6 L579.9,353.8 L582.2,357.0 L583.5,359.1 L584.9,363.0 L585.3,366.0 L587.1,368.4 L588.3,370.8 L589.7,374.2 L591.9,377.1 L593.7,379.7 L594.7,382.7 L591.7,382.5 L587.5,382.9 L584.9,382.9 L581.7,382.7 L579.1,380.9 L575.1,380.7 L572.5,379.5 L569.5,377.1 L569.7,373.5 L568.9,370.9 L568.7,367.1 L568.9,364.2 L569.3,361.0 L569.3,356.9 L569.3,354.5 L569.7,350.8 L569.4,346.8 L569.9,343.2 L569.8,340.2 L569.0,336.9" fill="none" stroke="#222" stroke-width="0.32" stroke-linejoin="round"/>
<circle cx="582.4" cy="369.2" r="3.3" fill="#f0b82a" stroke="#c89a20" stroke-width="0.4"/>
<rect x="611.80" y="366.20" width="6.00" height="6.00" fill="#7ed957" stroke="#5cb040" stroke-width="0.4" />
<rect x="418.10" y="391.60" width="69.70" height="67.80" fill="#fff" stroke="#f2b6b6" stroke-width="0.9" />
<path d="M477.6,454.1 L476.8,450.5 L477.3,448.0 L477.2,444.5 L477.0,440.3 L475.9,437.7 L476.0,434.7 L476.1,430.2 L475.4,428.2 L474.4,423.9 L474.9,421.1 L475.0,417.9 L471.5,416.2 L468.6,415.1 L466.1,412.9 L462.8,411.1 L459.7,410.7 L456.4,410.1 L453.7,407.0 L450.6,405.6 L447.6,404.4 L444.3,401.7 L440.9,401.9 L438.6,400.4 L435.3,399.0 L432.6,397.3 L429.1,395.7 L433.9,395.2 L437.0,395.9 L439.5,395.8 L443.7,394.9 L439.9,395.5 L436.7,394.4 L432.8,395.8 L429.4,396.7 L425.8,395.5 L422.5,395.9 L427.1,397.6 L431.6,398.4 L435.6,398.0 L440.3,397.0 L442.0,397.8 L446.6,396.7 L449.3,396.4 L453.6,395.9 L456.1,395.7 L459.4,395.2 L463.4,395.1 L467.2,394.9 L470.6,395.2 L474.0,394.4 L477.2,395.2 L477.9,398.8 L480.3,401.3 L480.2,406.3 L481.6,408.3 L482.6,412.4 L482.2,415.5 L483.8,419.0 L482.4,422.5 L482.7,424.9 L483.0,429.8 L483.0,431.5 L483.3,435.2 L482.5,438.3 L481.8,441.9 L481.0,444.8 L480.7,448.1 L480.2,450.7 L479.0,454.4 L474.8,454.4 L471.3,454.7 L467.8,453.9 L464.3,456.3 L460.2,455.7 L456.4,455.4 L453.2,455.6 L450.0,456.5 L446.1,456.6 L442.4,456.5 L439.9,456.6 L436.0,456.1 L433.1,455.2 L429.9,455.4 L425.9,455.8 L422.5,455.2 L422.6,450.9 L422.6,448.7 L423.9,445.3 L423.1,442.0 L423.3,437.9 L423.9,434.5 L423.9,432.1 L423.6,427.9 L423.0,430.8 L424.0,434.8 L423.2,438.3 L423.0,440.9 L422.4,444.6 L422.1,440.8 L423.4,438.6 L422.2,433.9 L422.6,430.9 L422.1,427.4 L423.3,424.5 L422.5,421.0 L422.3,415.8 L422.6,412.8 L422.4,409.8 L422.4,406.6 L422.7,402.2 L422.1,397.9 L422.5,395.4 L424.6,397.7 L427.5,400.4 L428.8,402.6 L432.4,405.0 L433.7,407.7 L437.1,410.2 L438.9,411.3 L441.0,414.5 L443.9,416.7 L446.0,419.1 L447.9,421.4 L450.8,424.4 L452.2,426.0 L454.0,428.6 L457.0,431.2 L458.9,433.6 L461.9,435.8 L463.5,438.2 L465.9,440.8 L468.6,443.9 L470.7,444.7 L473.1,447.8 L473.7,443.6 L475.1,442.0 L476.1,437.1 L477.7,433.9 L478.0,430.0 L479.3,426.9 L476.1,425.7 L473.3,426.2 L470.0,425.5 L466.1,423.6 L462.9,424.0 L459.9,422.9 L456.2,422.4 L451.9,421.3 L449.3,420.2 L446.1,419.3 L443.3,419.0 L439.6,418.6 L436.0,417.4 L433.7,416.5 L429.8,415.2 L426.2,415.2 L423.6,414.5 L424.0,410.9 L422.6,406.3 L423.1,403.9 L422.5,400.4 L422.9,396.1 L426.7,396.2 L430.4,395.0 L434.9,396.3 L438.7,394.9 L442.8,395.1 L445.5,394.4 L448.8,395.8 L452.1,395.9 L455.5,396.2 L458.6,395.8 L462.3,395.9 L465.7,396.1 L469.2,396.6 L473.2,396.4 L475.9,396.6 L479.9,396.2 L479.5,399.6 L480.8,404.0 L481.5,407.4 L481.3,410.9 L481.5,414.9 L482.0,418.5 L481.8,423.4 L482.2,427.0 L482.7,431.0 L483.2,435.4 L483.2,439.6 L480.6,440.8 L476.9,441.0 L473.7,442.0 L469.8,442.8 L467.2,444.1 L463.8,443.2 L460.5,444.4 L458.5,444.2 L454.5,445.7 L451.4,446.5 L448.5,446.6 L444.7,446.7 L441.2,448.2 L439.2,449.0 L435.2,450.1 L431.7,449.3 L429.4,450.6 L425.9,451.7 L426.7,448.6 L428.5,446.3 L430.9,443.0 L431.7,439.4 L431.9,436.7 L433.9,433.9 L435.6,431.1 L438.3,427.3 L439.6,424.0 L440.5,421.7 L442.3,417.7 L444.0,416.2 L444.9,412.8 L446.6,409.8 L447.3,406.8 L449.2,403.6 L447.1,405.6 L446.3,409.1 L444.4,411.7 L443.4,414.6 L441.1,418.5 L439.5,420.8 L439.2,423.3 L437.2,426.4 L436.6,429.2 L435.7,432.4 L433.0,435.4 L431.4,437.3 L431.6,441.3 L428.1,443.9 L428.4,447.0 L426.6,450.0 L425.8,452.3 L423.3,455.1 L423.5,451.6 L422.9,449.6 L422.8,444.8 L424.2,441.0 L422.8,437.6 L422.9,434.9 L423.3,432.7 L423.9,428.3 L423.2,425.4 L422.3,428.8 L422.1,432.5 L423.1,436.4 L422.1,440.8 L422.6,444.0 L422.1,439.2 L423.1,435.2 L423.0,431.4 L423.1,425.5 L423.3,421.7 L422.8,418.3 L422.9,415.3 L423.2,410.8 L422.8,408.4 L422.4,404.1 L422.1,401.3 L422.3,398.3 L426.2,397.1 L429.5,397.8 L434.0,397.2 L436.6,397.1 L440.0,397.2 L443.3,396.6 L446.7,396.2 L451.2,395.7 L455.9,394.7 L459.3,394.9 L461.9,395.0 L466.2,394.4 L469.2,395.1 L472.1,394.4 L475.2,394.9 L478.4,394.7 L477.2,396.2 L472.7,399.5 L472.1,402.6 L469.5,404.0 L467.3,406.8 L463.8,409.2 L461.7,411.4 L459.9,413.4 L457.7,416.0 L455.1,419.0 L453.2,421.1 L451.2,423.7 L449.8,426.5 L446.4,427.9 L444.2,431.3 L441.4,433.5 L439.4,436.0 L436.7,438.1 L434.5,440.2 L432.7,442.9 L429.7,445.8 L427.9,447.4 L431.6,447.8 L434.2,449.1 L437.4,449.6 L440.7,450.7 L444.5,451.5 L447.0,452.4 L450.8,453.2 L454.2,455.0 L457.2,454.7 L460.5,456.0 L456.7,455.4 L452.3,455.5 L448.7,455.7 L445.0,456.6 L441.5,455.2 L438.4,455.3 L434.9,454.9 L431.6,455.2 L428.8,455.7 L425.1,455.4 L424.4,452.0 L424.4,449.0 L423.5,445.3 L423.0,441.7 L423.5,438.3 L423.3,434.6 L423.1,431.8 L423.9,428.5 L422.9,424.2 L423.5,420.0 L422.6,416.4 L422.9,413.5 L423.5,409.7 L423.7,405.7 L422.1,401.5 L423.7,398.3 L426.7,395.8 L428.0,398.4 L429.2,400.7 L430.9,405.2 L431.3,407.5 L433.3,410.8 L433.7,413.8 L436.5,416.0 L438.1,418.9 L438.0,422.7 L439.1,424.7 L440.5,428.4 L442.7,431.9 L443.0,434.7 L444.3,436.6 L445.5,440.1 L447.4,443.6 L449.0,447.2 L449.4,450.0 L451.3,452.6 L454.7,452.9 L458.2,453.5 L460.6,453.4 L465.2,453.0 L467.5,454.1 L472.3,454.1 L474.1,453.2 L477.6,453.9 L480.3,455.2 L484.6,454.3 L480.3,454.8 L477.3,455.4 L473.4,455.4 L470.4,455.8 L466.6,454.9 L462.6,454.9 L458.7,455.6 L455.5,455.7 L452.0,455.0 L449.0,455.6 L445.5,455.5 L439.6,454.8 L437.2,455.6 L432.0,455.8 L429.0,454.4 L425.7,455.0 L428.6,453.2 L431.7,453.5 L435.3,451.2 L438.1,450.2 L440.4,449.9 L443.7,447.7 L446.1,446.3 L450.5,445.3 L453.1,444.0 L456.2,443.1 L459.6,442.3 L461.3,439.5 L465.5,440.3 L468.6,437.2 L470.6,435.9 L474.4,435.5 L471.6,436.4 L468.9,436.5 L464.2,438.3 L461.6,438.8 L459.4,439.0 L456.1,440.3 L453.1,440.9 L449.2,441.1 L447.4,443.3 L442.8,443.5 L439.3,444.3 L436.9,444.2 L434.1,446.7 L430.8,446.9 L427.5,447.6 L424.7,448.0 L424.1,444.0 L423.9,441.3 L424.3,438.2 L423.1,434.1 L423.9,430.5 L423.2,426.8 L422.6,422.0 L422.1,419.4 L422.5,416.1 L423.1,412.1 L424.2,409.3 L424.3,404.4 L424.7,402.3 L427.4,400.6 L431.3,399.5 L434.5,399.0 L437.6,397.2 L440.3,396.2 L444.1,396.2 L447.2,394.9 L449.7,395.7 L454.3,395.1 L458.0,395.9 L461.0,394.8 L465.3,395.0 L461.9,395.0 L458.4,394.4 L455.0,394.6 L452.5,395.0 L448.2,394.4 L446.2,395.5 L442.5,395.3 L439.3,395.4 L435.0,397.8 L432.5,397.7 L428.7,399.1 L424.3,400.2 L428.4,398.6 L432.3,397.2 L436.3,395.8 L439.1,394.6 L443.2,394.5 L446.1,394.5 L449.6,394.8 L454.4,395.4 L457.2,394.4 L461.6,394.4 L464.6,395.0 L468.3,395.4 L471.8,395.7 L475.0,396.4 L478.2,396.2 L472.7,395.7" fill="none" stroke="#222" stroke-width="0.32" stroke-linejoin="round"/>
<circle cx="436.3" cy="442.0" r="3.3" fill="#f0b82a" stroke="#c89a20" stroke-width="0.4"/>
<rect x="465.70" y="439.00" width="6.00" height="6.00" fill="#7ed957" stroke="#5cb040" stroke-width="0.4" />
<rect x="491.20" y="391.60" width="69.80" height="67.80" fill="#fff" stroke="#f2b6b6" stroke-width="0.9" />
<path d="M545.8,456.6 L541.8,456.0 L539.4,454.9 L536.1,456.2 L532.8,454.8 L529.7,454.7 L526.5,454.9 L523.1,454.2 L520.7,454.5 L516.7,454.1 L512.8,455.6 L508.9,455.7 L504.3,456.1 L502.0,452.0 L498.0,450.4 L495.6,447.5 L495.7,444.3 L495.2,441.4 L495.6,437.5 L496.4,433.8 L497.4,430.6 L496.9,428.0 L496.8,423.9 L497.1,421.6 L496.0,418.3 L497.5,414.0 L497.4,409.8 L496.4,405.2 L495.3,401.5 L496.6,396.1 L502.0,395.6 L505.9,396.2 L509.1,395.5 L512.7,395.6 L514.8,397.1 L519.1,396.0 L522.3,396.0 L525.1,395.7 L529.4,396.5 L533.0,396.2 L536.2,398.4 L539.7,396.6 L543.9,396.7 L546.0,397.6 L549.0,398.7 L554.1,397.1 L556.8,398.3 L557.0,402.0 L556.7,405.4 L557.3,409.2 L556.8,412.0 L557.4,415.1 L557.0,419.0 L557.6,422.2 L557.4,425.1 L557.5,428.3 L556.7,432.0 L556.1,434.7 L556.7,438.7 L556.0,441.5 L553.1,439.6 L550.1,439.5 L546.2,437.2 L544.2,437.1 L541.1,435.4 L538.5,434.3 L535.6,432.2 L532.1,430.9 L529.0,429.5 L526.4,428.5 L522.4,427.3 L520.5,425.0 L517.4,424.1 L514.8,423.5 L511.2,422.0 L507.7,421.0 L505.2,419.3 L505.3,422.7 L504.7,426.4 L505.6,430.4 L504.8,433.1 L504.6,436.2 L504.4,439.6 L504.4,442.9 L505.0,445.8 L504.3,449.3 L504.8,453.1 L504.3,456.3 L499.8,456.3 L495.5,455.5 L495.8,452.2 L496.2,448.6 L497.7,444.8 L496.6,443.3 L497.7,439.3 L499.3,435.9 L500.6,433.9 L502.0,429.9 L503.2,426.9 L504.1,423.5 L506.1,421.6 L506.4,417.1 L508.3,413.9 L506.3,411.1 L503.7,408.6 L502.0,404.9 L499.7,402.0 L497.2,400.9 L496.0,397.4 L499.0,397.0 L502.9,396.0 L506.1,395.6 L509.2,394.6 L505.6,394.8 L502.1,394.6 L498.7,395.1 L497.4,398.5 L496.9,402.1 L496.8,405.5 L495.4,408.8 L495.6,412.4 L496.6,415.4 L496.6,419.3 L495.8,422.8 L496.7,426.1 L495.9,429.3 L497.6,433.0 L496.3,435.5 L497.1,438.4 L496.2,442.3 L497.4,445.7 L498.0,449.2 L497.7,452.6 L501.0,453.1 L505.7,454.0 L508.1,453.3 L512.6,454.6 L516.1,455.2 L511.7,455.9 L506.5,456.2 L505.1,453.3 L502.2,450.1 L500.7,446.4 L497.5,444.0 L496.0,441.6 L496.1,437.4 L496.2,435.0 L495.3,430.2 L495.3,427.1 L496.6,431.4 L496.0,435.4 L495.8,440.4 L498.1,438.6 L498.9,435.3 L501.8,432.8 L504.0,429.6 L505.8,427.9 L508.3,425.2 L509.6,422.1 L512.9,419.3 L513.3,417.6 L516.3,415.0 L518.0,412.2 L519.1,409.1 L521.8,406.5 L523.5,404.5 L526.3,400.5 L528.0,398.7 L524.7,398.5 L521.3,397.7 L516.8,397.1 L514.2,396.4 L510.1,395.9 L506.9,395.2 L509.9,394.9 L513.5,395.0 L518.1,394.6 L521.1,395.4 L525.2,395.3 L528.3,395.1 L524.4,395.2 L520.3,394.6 L516.7,395.7 L512.5,395.8 L515.7,398.7 L516.6,400.3 L519.9,402.6 L521.9,405.0 L524.6,407.2 L527.4,409.9 L528.2,412.4 L530.9,414.5 L534.1,416.6 L535.9,419.2 L538.3,420.8 L540.5,423.9 L541.9,426.7 L543.5,428.3 L544.7,433.1 L545.7,435.3 L548.0,438.2 L548.6,441.1 L550.1,443.8 L552.3,447.2 L553.4,449.2 L554.5,452.5 L556.0,455.5 L555.5,453.1 L555.9,449.1 L556.5,445.9 L556.9,442.9 L557.8,438.8 L557.4,436.6 L555.9,432.4 L557.1,429.4 L556.9,426.1 L556.6,422.5 L556.1,419.7 L556.6,415.6 L556.3,412.3 L555.7,408.4 L554.8,405.3 L554.8,401.6 L552.7,398.5 L553.1,395.1 L548.6,398.9 L544.3,398.3 L539.9,396.8 L537.6,396.3 L533.4,395.3 L527.4,395.6 L523.8,396.1 L520.0,396.8 L517.6,396.8 L513.3,396.5 L510.8,398.6 L506.9,398.2 L504.0,398.1 L499.8,398.4 L502.4,400.1 L504.8,400.2 L509.3,401.9 L511.2,402.8 L514.2,404.6 L517.6,405.1 L519.7,406.0 L523.8,407.7 L527.0,408.8 L529.9,410.0 L532.3,412.5 L536.1,413.0 L538.7,414.2 L535.9,417.0 L532.7,418.2 L530.5,420.1 L528.2,422.3 L525.7,424.2 L523.2,425.5 L520.5,427.9 L516.6,430.1 L514.8,433.7 L510.8,433.9 L509.7,436.2 L506.7,438.2 L504.4,439.8 L500.5,442.8 L499.7,443.7 L495.6,446.1 L495.4,450.5 L498.3,451.8 L501.1,454.8 L503.9,455.3 L508.0,455.7 L512.3,456.6 L514.6,454.3 L517.0,451.7 L518.6,448.8 L520.5,446.0 L521.7,444.2 L525.5,441.3 L525.8,439.3 L529.1,436.5 L530.6,433.9 L533.2,432.0 L534.9,429.3 L537.1,426.8 L539.5,424.7 L541.7,422.4 L543.6,419.2 L546.1,417.3 L548.0,414.3 L550.8,411.2 L552.0,409.5 L553.9,407.0 L554.9,411.3 L556.0,413.4 L557.0,416.6 L557.3,421.5 L557.9,424.5 L554.5,426.1 L553.5,428.3 L550.4,430.8 L547.3,432.5 L545.3,435.0 L542.2,437.0 L541.0,439.1 L537.3,441.8 L535.3,443.7 L532.6,446.4 L530.8,447.0 L527.5,450.5 L524.9,452.0 L526.9,450.3 L529.3,447.2 L531.9,444.5 L534.2,442.1 L536.5,440.0 L538.9,438.3 L541.9,434.4 L543.3,432.9 L545.8,430.6 L547.7,427.9 L549.8,426.1 L552.2,422.9 L554.7,420.8 L556.8,418.6 L556.9,415.3 L556.6,412.0 L556.8,408.9 L556.5,405.7 L556.2,402.3 L555.8,398.8 L555.5,395.0 L551.4,394.9 L548.8,395.6 L545.4,395.3 L541.9,395.7 L538.0,395.4 L534.3,395.6 L531.3,395.1 L527.8,394.8 L523.0,395.7 L520.3,395.5 L516.2,395.8 L520.4,395.1 L522.3,396.2 L525.4,395.1 L529.6,395.3 L532.3,395.0 L535.4,395.2 L538.9,395.1 L543.1,395.1 L545.7,394.8 L548.8,396.4 L550.8,401.5 L553.1,403.9 L555.1,407.5 L555.8,411.1 L556.4,414.3 L556.6,417.8 L557.1,420.2 L556.5,424.5 L557.2,428.5 L557.8,432.1 L557.3,436.2 L556.5,440.6 L557.1,443.7 L557.3,449.2 L557.7,452.5 L557.9,456.5 L557.1,452.3 L557.0,448.8 L557.2,444.1 L557.5,441.0 L556.9,437.3 L556.6,434.4 L557.6,437.7 L557.7,441.1 L556.7,444.2 L556.8,448.9 L555.9,452.2 L555.7,456.2 L552.0,456.6 L546.9,455.4" fill="none" stroke="#222" stroke-width="0.32" stroke-linejoin="round"/>
<circle cx="509.4" cy="442.0" r="3.3" fill="#f0b82a" stroke="#c89a20" stroke-width="0.4"/>
<rect x="538.80" y="439.00" width="6.00" height="6.00" fill="#7ed957" stroke="#5cb040" stroke-width="0.4" />
<rect x="564.20" y="391.60" width="69.80" height="67.80" fill="#fff" stroke="#f2b6b6" stroke-width="0.9" />
<path d="M627.2,413.8 L626.0,416.8 L624.7,420.3 L623.3,423.0 L622.5,426.0 L621.2,430.6 L620.4,433.8 L618.4,436.5 L618.4,439.1 L617.1,442.9 L616.0,446.5 L615.1,444.0 L612.5,441.3 L613.0,438.1 L610.7,434.5 L610.1,431.8 L610.4,427.3 L608.1,424.8 L606.3,422.6 L604.8,418.7 L604.1,415.9 L602.7,413.2 L601.5,410.0 L600.2,407.3 L599.6,403.5 L597.4,400.3 L596.9,398.2 L595.3,394.5 L592.6,394.4 L588.6,395.3 L585.6,394.6 L581.4,395.2 L577.7,394.9 L574.5,395.0 L573.3,398.9 L573.1,402.2 L571.2,405.7 L570.2,409.6 L569.6,412.0 L568.3,415.5 L568.6,411.9 L568.7,408.1 L569.7,404.7 L570.3,401.6 L570.8,398.1 L570.6,395.1 L573.7,395.0 L577.5,395.6 L581.4,395.5 L585.6,396.4 L589.7,396.7 L591.5,396.2 L596.1,395.6 L599.5,395.6 L602.8,396.5 L606.9,396.3 L603.7,395.5 L599.7,395.6 L597.0,396.1 L594.5,395.5 L589.7,395.8 L593.6,396.5 L598.2,396.4 L600.9,395.3 L605.6,396.2 L607.2,396.1 L611.8,395.6 L616.1,395.5 L618.6,394.4 L622.3,395.7 L627.1,398.3 L630.2,399.3 L627.1,399.3 L623.4,399.4 L620.4,399.9 L617.2,400.1 L613.7,400.6 L609.5,401.0 L606.9,401.4 L602.9,400.6 L599.4,401.9 L595.4,402.1 L592.8,402.2 L595.5,404.1 L597.7,407.1 L599.9,408.0 L603.3,411.2 L604.5,413.7 L608.2,414.9 L611.2,417.7 L613.2,419.5 L615.6,421.9 L617.6,424.9 L621.0,427.3 L622.7,428.6 L625.4,431.2 L628.7,433.8 L630.6,435.4 L627.2,433.9 L623.9,432.7 L621.0,431.2 L617.4,430.3 L615.2,428.4 L612.1,426.4 L608.9,426.8 L606.1,424.3 L602.4,423.5 L600.1,422.4 L596.1,421.1 L593.1,419.1 L589.5,417.4 L587.6,417.3 L583.0,416.2 L580.8,414.8 L577.5,413.3 L580.5,412.2 L582.9,410.6 L586.7,409.2 L590.3,407.7 L592.7,406.4 L596.0,405.5 L599.3,403.7 L601.6,402.2 L605.5,401.3 L608.4,399.5 L612.3,398.7 L614.3,397.6 L617.9,396.0 L621.5,396.0 L625.1,394.8 L623.8,398.1 L622.6,400.4 L622.8,405.0 L621.1,408.6 L620.5,411.4 L621.4,414.3 L619.5,417.0 L617.0,420.7 L617.2,423.8 L617.0,427.3 L615.5,430.5 L614.6,434.9 L614.3,437.4 L612.5,440.6 L612.4,443.5 L610.8,440.3 L609.6,436.5 L609.8,433.9 L608.7,429.9 L606.5,426.4 L606.2,423.7 L602.6,427.8 L604.5,431.0 L606.6,433.4 L609.1,436.3 L610.9,439.6 L612.1,441.0 L615.0,443.7 L616.7,447.4 L619.2,449.8 L620.1,452.7 L616.6,451.9 L612.8,451.6 L610.0,451.0 L606.9,449.8 L603.5,449.6 L599.8,449.8 L597.1,449.2 L595.1,448.2 L591.6,448.4 L587.0,447.3 L584.1,446.6 L581.1,446.7 L578.3,445.4 L575.2,445.8 L571.1,444.5 L568.3,443.9 L569.7,438.3 L568.3,433.4 L568.8,431.0 L569.5,428.0 L569.2,425.1 L570.2,421.5 L569.5,416.9 L571.0,414.4 L570.3,411.2 L571.6,407.3 L571.0,404.3 L571.9,400.8 L571.8,397.0 L575.3,397.2 L577.6,396.4 L581.5,398.7 L584.6,398.3 L588.2,399.2 L591.5,399.5 L594.2,399.3 L597.2,398.8 L600.0,401.4 L603.9,399.6 L606.6,400.6 L610.5,400.6 L608.1,400.2 L604.7,399.5 L600.1,398.9 L598.0,399.0 L593.2,398.8 L589.7,398.1 L586.8,398.3 L584.3,397.7 L579.9,396.7 L577.4,396.6 L574.5,397.1 L570.5,395.6 L574.3,395.7 L577.7,395.2 L581.2,394.7 L585.1,395.0 L587.6,394.9 L592.9,394.7 L595.5,395.2 L598.4,395.4 L601.8,396.4 L606.1,395.7 L608.9,395.8 L612.3,396.7 L616.0,395.7 L618.9,396.0 L622.9,394.8 L625.3,396.8 L625.1,400.4 L626.5,403.7 L627.3,406.0 L627.7,410.5 L629.1,414.3 L630.3,417.5 L630.6,422.1 L631.0,425.7 L629.9,429.1 L631.0,432.5 L629.3,435.6 L630.3,438.9 L629.9,442.4 L630.7,445.1 L629.5,449.7 L626.5,446.7 L625.5,444.9 L623.0,442.6 L620.9,439.5 L619.3,437.8 L616.7,435.4 L614.7,432.4 L612.6,429.4 L609.8,427.3 L608.1,424.9 L606.1,422.7 L603.7,420.2 L601.6,417.7 L600.0,415.2 L597.5,412.8 L596.6,409.5 L592.5,407.8 L590.8,404.7 L588.6,401.0 L587.0,399.6 L587.7,403.2 L586.4,406.4 L586.9,409.6 L586.7,413.5 L587.2,415.5 L587.4,419.5 L587.2,423.2 L586.5,426.4 L587.0,429.4 L586.2,432.6 L587.0,436.4 L586.7,440.1 L586.5,442.7 L586.1,446.8 L586.8,449.2 L587.2,452.2 L586.2,456.2 L589.2,455.1 L593.0,456.3 L596.0,456.3 L599.5,455.1 L602.0,455.1 L605.8,455.4 L603.2,452.0 L602.3,450.8 L598.8,448.5 L596.2,446.6 L593.8,443.7 L592.4,442.7 L589.8,439.7 L587.9,437.2 L584.4,434.9 L582.5,433.6 L580.1,431.3 L577.4,429.1 L575.5,426.6 L577.9,424.9 L581.1,423.3 L583.0,421.0 L587.3,419.4 L589.2,418.5 L592.9,416.6 L595.3,415.4 L597.8,413.8 L600.6,412.5 L603.9,410.7 L606.5,408.8 L609.8,407.0 L611.5,405.5 L615.0,404.6 L618.3,402.6 L620.4,401.1 L622.9,399.2 L625.8,397.3 L628.6,396.1 L624.7,395.9 L621.1,396.2 L617.1,396.0 L614.0,395.9 L609.9,395.3 L606.5,395.7 L608.3,399.1 L610.2,401.4 L613.2,404.4 L614.1,407.9 L617.3,409.5 L619.1,412.6 L621.1,416.2 L623.6,418.7 L620.8,421.0 L618.9,422.5 L615.3,425.2 L613.2,427.6 L611.0,428.1 L607.4,431.4 L604.6,431.9 L603.5,434.3 L599.1,436.5 L597.2,438.5 L594.2,440.8 L591.6,442.3 L589.1,444.8 L586.6,446.5 L584.0,447.8 L581.5,450.2 L578.6,451.9 L576.7,453.6 L573.3,455.9 L572.6,452.7 L571.7,448.5 L571.0,444.9 L570.7,441.3 L571.4,437.3 L574.4,439.3 L576.7,442.3 L578.8,444.7 L580.5,442.1 L583.1,439.0 L583.1,435.9 L585.9,434.6 L588.2,431.6 L589.8,428.8 L590.9,426.3 L592.7,422.5 L593.4,420.4 L595.7,417.1 L597.6,414.1 L601.2,410.9 L600.7,408.6 L602.2,404.7 L604.5,403.9 L605.6,400.6 L608.8,398.1 L609.5,394.8 L605.0,395.1 L600.9,395.5 L604.7,395.7 L606.8,394.4 L610.9,394.9 L614.2,394.9 L617.2,395.9 L620.2,396.1 L624.4,394.8 L627.5,395.2 L627.9,399.8 L629.4,403.2 L628.2,405.9 L629.8,410.0 L626.6,409.5 L622.7,409.5 L620.5,407.7 L616.7,408.2 L613.1,407.5 L610.3,407.0 L605.6,405.7 L603.6,406.1 L600.3,405.0 L597.1,404.6 L593.1,403.2 L590.5,403.3 L587.5,402.9 L584.4,401.9 L580.5,401.8 L583.0,404.8 L585.2,406.1 L588.0,408.4 L589.2,411.4 L591.3,413.2 L593.3,415.4 L596.4,417.5 L598.1,420.4 L600.0,422.5 L602.8,425.1 L605.5,427.3 L607.8,430.0 L609.9,432.3 L611.6,434.2 L613.5,437.0 L616.2,438.5 L618.6,439.2 L620.6,443.5 L623.0,446.4 L625.1,447.9 L627.7,450.3 L624.9,451.3 L621.3,450.2 L617.4,451.4 L613.6,451.2 L611.2,451.9 L607.7,453.2 L604.6,452.9 L601.2,453.1 L598.5,454.8 L593.9,454.1 L591.9,454.2 L587.3,454.7 L584.4,455.6 L581.0,455.5 L578.1,455.9 L580.7,453.2 L582.5,450.3 L584.8,447.8 L586.3,445.3 L588.3,441.6 L589.8,440.2 L592.5,437.0 L595.4,435.4 L596.9,432.9 L597.9,429.8 L601.0,426.7 L603.5,424.4 L605.6,423.2 L606.1,419.9 L609.3,417.0 L612.1,415.0 L614.1,411.4 L615.4,409.8 L617.2,407.2 L619.6,404.1 L620.8,407.4 L620.2,409.8 L620.9,413.1 L621.5,417.8 L621.4,420.3 L621.5,423.3 L622.5,427.1 L622.3,429.6 L622.3,433.7 L623.0,436.1 L623.3,440.1 L623.9,443.1 L620.2,442.7 L618.4,442.1 L613.3,441.8 L610.6,442.5 L608.3,441.0 L605.0,441.0 L601.2,441.4 L598.4,440.6 L594.0,440.8 L591.1,438.9 L589.1,439.7 L585.7,439.7 L582.7,438.4 L579.6,438.0 L575.6,438.1 L572.7,437.7 L569.3,437.4 L570.4,441.0 L571.9,443.8 L573.5,446.8 L574.8,450.5 L575.6,453.5 L577.0,456.5 L572.3,456.4 L568.8,454.8 L569.2,450.9 L572.1,448.2 L571.2,444.7 L573.0,441.0 L574.1,437.8 L575.4,434.8 L576.4,431.0 L577.0,427.9 L578.1,424.6 L573.8,424.0 L570.0,422.9 L569.8,425.7 L569.5,429.9 L570.3,433.5 L568.5,436.6 L569.0,440.6 L571.4,438.9 L575.0,435.9 L575.9,434.9 L578.6,432.8 L581.0,429.5 L584.2,428.6 L586.9,426.5 L589.1,423.9 L591.8,422.1 L595.2,420.0 L596.9,418.1 L600.4,416.4 L602.7,414.5 L605.3,412.8 L607.7,411.1 L609.8,408.5 L613.0,406.5 L610.7,404.2 L606.6,403.4 L603.6,401.9 L599.8,400.5 L597.1,398.2 L593.2,397.2 L589.2,395.8 L584.8,394.5 L586.8,397.2 L588.3,400.0 L590.7,402.3 L592.7,406.2 L595.6,409.5 L596.9,412.1 L599.1,414.9 L600.2,417.3 L602.3,420.3 L602.6,422.6 L606.0,426.4 L609.1,425.2 L612.6,423.8 L616.2,421.3 L617.5,419.9 L621.4,418.4 L624.5,417.3 L627.2,415.9 L630.7,413.5 L629.3,410.3 L628.5,405.9 L626.4,403.1 L626.0,401.0 L625.3,397.1 L625.8,400.3 L625.7,404.8 L623.9,407.7 L625.4,411.7 L624.5,413.1 L624.7,418.9 L625.2,421.3 L624.5,423.8 L624.3,427.9 L623.7,431.8 L624.0,434.9 L624.0,438.0 L623.6,441.4 L625.1,438.2 L626.0,435.4 L626.8,432.0 L626.1,429.3 L627.0,425.8 L628.7,422.4 L629.3,419.3 L629.3,415.5 L629.5,411.4 L627.6,414.4 L624.7,416.3 L623.1,419.8 L622.1,422.2 L619.2,425.5 L617.4,427.2 L614.4,430.2 L613.4,433.3 L610.1,436.1 L608.5,438.9 L607.5,441.0 L605.0,444.0 L601.8,446.2 L598.4,446.9 L595.8,448.6 L592.2,449.4 L588.7,449.4 L586.2,451.6 L582.4,453.1 L582.7,451.0 L584.2,447.1 L586.4,444.0 L587.3,441.3 L588.8,438.6 L589.6,435.6 L591.6,431.8 L593.6,430.5 L594.7,426.5 L595.6,423.3 L596.9,420.0 L598.6,416.8 L599.1,413.4 L600.4,411.4 L601.5,407.9 L602.4,405.2 L603.6,402.1 L606.0,398.4 L607.2,396.1 L603.9,396.6 L599.8,396.2 L597.0,396.7 L592.5,396.8 L589.4,397.3 L586.1,397.5 L582.2,397.8 L578.9,397.3 L577.2,400.6 L575.5,403.5 L573.2,405.2 L572.1,408.2 L570.1,411.4 L568.4,413.6 L572.1,413.5 L575.9,414.9 L578.0,415.6 L582.3,416.2 L585.0,416.6 L588.9,416.8 L591.0,417.1 L595.5,417.4 L598.5,419.0 L601.6,419.2 L605.0,420.1 L608.2,419.4 L611.8,421.6 L614.9,421.3 L618.2,421.2 L621.7,422.4 L624.5,423.9 L627.7,423.5 L624.6,423.0 L620.7,423.3 L617.3,422.7 L614.5,423.1 L611.6,423.8 L606.9,423.0 L604.3,424.4 L599.5,422.5 L597.0,423.2 L594.2,423.2 L590.2,422.4 L586.6,423.0 L584.1,422.4 L580.1,422.3 L577.6,423.0 L573.1,423.1 L570.4,422.9 L570.4,427.1 L569.6,430.3 L570.6,434.2 L569.8,436.2 L570.0,441.1 L568.8,444.8 L568.8,447.8 L571.3,445.3 L572.0,442.1 L574.1,439.2 L575.0,435.8 L576.8,433.7 L577.9,431.2 L580.5,429.4 L582.2,426.1 L584.4,422.5 L586.3,420.3 L588.2,417.8 L588.7,413.8 L590.9,412.1 L591.7,409.3 L593.8,406.7 L595.0,409.3 L596.9,412.4 L597.2,416.5 L599.0,418.6 L600.6,421.3 L601.6,424.8 L603.5,426.8 L604.5,430.1 L606.6,433.2 L607.0,436.7 L608.2,438.8 L611.4,440.1 L614.5,440.2 L618.3,442.1 L621.6,440.8 L624.2,442.3 L627.9,443.8 L630.4,443.9 L630.2,440.8 L629.8,437.2 L629.4,433.1 L628.9,429.5 L629.6,426.5 L628.9,422.5 L627.3,418.1 L628.8,415.1 L628.8,410.5 L627.5,407.5 L628.0,403.3 L628.0,400.5 L627.6,396.0 L626.8,399.5 L624.5,402.5 L622.5,403.9 L620.3,407.5 L619.5,409.4 L617.7,413.2 L615.7,414.9 L613.2,418.4 L613.0,421.8 L610.5,424.2 L609.5,426.1 L608.5,429.1 L605.7,431.9 L603.3,434.9 L602.0,436.8 L601.2,440.0 L599.1,442.7 L597.3,445.7 L598.8,443.5 L601.5,439.1 L602.1,437.1 L604.3,433.9 L606.3,430.4 L607.3,428.4 L610.2,424.4 L610.3,422.3 L613.0,419.5 L614.8,415.1 L616.7,413.6 L617.5,409.6 L619.8,407.4 L617.7,410.1 L615.8,412.7 L614.9,415.2 L612.7,417.4 L610.6,420.8 L609.2,423.2 L606.5,425.8 L605.7,428.6 L603.5,431.6 L600.2,434.5 L599.1,436.7 L597.9,440.2 L595.7,443.4 L593.4,446.0 L591.9,447.8 L590.2,450.9 L588.0,452.7 L586.3,455.9 L589.8,455.7 L592.9,455.5 L596.2,456.6 L599.5,456.0 L602.4,455.6 L606.1,456.6 L608.2,456.3 L612.4,456.6 L615.3,456.3 L615.5,452.6 L613.7,449.4 L613.3,446.5 L611.7,442.3 L610.5,440.5 L609.6,435.5 L606.7,432.6 L607.3,430.0 L606.0,426.3 L607.1,423.4 L607.4,419.5 L608.8,416.5 L610.0,414.0 L610.9,410.7 L612.2,407.6 L613.4,403.7 L613.4,401.3 L615.3,398.4 L615.8,395.0 L612.7,395.2 L608.4,395.9 L606.3,395.3 L603.0,395.4 L599.0,395.9 L596.1,395.5 L591.6,395.6 L588.2,394.7 L583.9,394.6 L581.4,396.5 L578.0,398.9 L576.8,401.1 L573.8,403.1 L570.6,403.4 L568.3,406.1 L569.9,409.8 L570.8,413.4 L570.2,416.9 L570.7,420.2 L570.0,422.8 L569.9,425.9 L568.9,429.1 L569.4,432.1 L569.2,436.0 L568.7,439.0 L570.1,442.0 L572.9,446.3 L573.3,450.2 L574.7,453.7 L576.3,456.5 L579.9,455.3 L582.3,456.4 L585.4,456.6 L589.3,455.6 L589.8,452.8 L589.8,450.1 L590.0,446.2 L590.8,442.6 L591.2,438.7 L591.5,436.8 L591.6,433.3 L590.9,429.4 L592.5,426.4 L593.2,424.5 L592.4,419.3 L593.1,417.0 L594.6,413.4 L595.2,410.9 L594.7,407.1 L592.2,405.2 L588.6,402.5 L586.6,398.7 L584.3,396.7 L581.1,394.8 L583.0,397.1 L585.2,399.2 L587.2,401.3 L589.4,405.1 L591.4,406.9 L593.9,410.1 L595.7,411.8 L598.2,414.5 L599.8,417.6 L601.4,419.7 L603.5,422.8 L606.2,424.7 L608.7,427.5 L610.9,430.8 L612.8,433.3 L614.3,434.8 L616.2,437.4 L618.8,439.4 L620.8,443.4 L623.1,445.4 L624.7,447.6 L623.5,444.2 L620.4,442.3 L618.2,439.4 L616.3,437.6 L614.1,435.1 L611.6,433.5 L609.8,430.7 L608.1,429.2 L605.5,426.2 L602.8,423.3 L600.9,420.9 L598.5,418.2 L597.0,416.4 L595.1,414.0 L591.8,410.8 L589.4,408.9 L587.2,406.8 L585.0,403.7 L584.4,400.9 L581.3,399.8 L579.2,397.1" fill="none" stroke="#222" stroke-width="0.32" stroke-linejoin="round"/>
<circle cx="582.4" cy="442.0" r="3.3" fill="#f0b82a" stroke="#c89a20" stroke-width="0.4"/>
<rect x="611.80" y="439.00" width="6.00" height="6.00" fill="#7ed957" stroke="#5cb040" stroke-width="0.4" />
<rect x="399.12" y="387.44" width="15.68" height="2.52" fill="#dfe3e3" stroke="#a9b0b0" stroke-width="0.4" />
<ellipse cx="399.12" cy="388.70" rx="0.9" ry="2.04" fill="#e8ecec" stroke="#9aa2a2" stroke-width="0.45"/>
<rect x="414.30" y="385.25" width="1.00" height="6.90" fill="#d0d6d6" stroke="#9aa2a2" stroke-width="0.35" />
<rect x="414.80" y="387.20" width="25.48" height="3.00" fill="#e9eded" stroke="#9aa2a2" stroke-width="0.45" />
<rect x="428.24" y="387.55" width="12.04" height="2.30" fill="#a9d6ea" stroke="none" stroke-width="1" />
<line x1="428.24" y1="387.20" x2="428.24" y2="390.20" stroke="#6a7a80" stroke-width="0.5" />
<path d="M440.28,387.44 L445.32,388.16 L445.32,389.24 L440.28,389.96 Z" fill="#3fae8a" stroke="none" stroke-width="1" />
<line x1="445.32" y1="388.70" x2="454.00" y2="388.70" stroke="#9a9a9a" stroke-width="0.5" />
<text x="7.60" y="481.60" font-size="14.2" text-anchor="start" fill="#000" stroke="#000" stroke-width="0.28" font-weight="bold" >G</text>
<line x1="57.70" y1="498.90" x2="57.70" y2="592.50" stroke="#151515" stroke-width="1.15" />
<line x1="53.30" y1="592.50" x2="57.70" y2="592.50" stroke="#151515" stroke-width="1.15" />
<text x="51.80" y="595.86" font-size="9.6" text-anchor="end" fill="#1a1a1a" stroke="#1a1a1a" stroke-width="0.26" font-weight="bold" >0</text>
<line x1="53.30" y1="568.98" x2="57.70" y2="568.98" stroke="#151515" stroke-width="1.15" />
<text x="51.80" y="572.34" font-size="9.6" text-anchor="end" fill="#1a1a1a" stroke="#1a1a1a" stroke-width="0.26" font-weight="bold" >5</text>
<line x1="53.30" y1="545.45" x2="57.70" y2="545.45" stroke="#151515" stroke-width="1.15" />
<text x="51.80" y="548.81" font-size="9.6" text-anchor="end" fill="#1a1a1a" stroke="#1a1a1a" stroke-width="0.26" font-weight="bold" >10</text>
<line x1="53.30" y1="521.92" x2="57.70" y2="521.92" stroke="#151515" stroke-width="1.15" />
<text x="51.80" y="525.28" font-size="9.6" text-anchor="end" fill="#1a1a1a" stroke="#1a1a1a" stroke-width="0.26" font-weight="bold" >15</text>
<line x1="53.30" y1="498.40" x2="57.70" y2="498.40" stroke="#151515" stroke-width="1.15" />
<text x="51.80" y="501.76" font-size="9.6" text-anchor="end" fill="#1a1a1a" stroke="#1a1a1a" stroke-width="0.26" font-weight="bold" >20</text>
<line x1="57.20" y1="592.30" x2="198.50" y2="592.30" stroke="#151515" stroke-width="1.15" />
<line x1="79.40" y1="592.30" x2="79.40" y2="596.00" stroke="#151515" stroke-width="1.15" />
<line x1="127.60" y1="592.30" x2="127.60" y2="596.00" stroke="#151515" stroke-width="1.15" />
<line x1="176.40" y1="592.30" x2="176.40" y2="596.00" stroke="#151515" stroke-width="1.15" />
<text transform="translate(37.90,545.50) rotate(-90)" font-size="10.5" text-anchor="middle" fill="#111" stroke="#111" stroke-width="0.28" font-weight="bold">Time with objects (s)</text>
<text x="80.60" y="609.00" font-size="10.3" text-anchor="middle" fill="#111" stroke="#111" stroke-width="0.28" font-weight="bold" >Saline</text>
<text x="128.30" y="609.00" font-size="10.3" text-anchor="middle" fill="#111" stroke="#111" stroke-width="0.28" font-weight="bold" >Sham</text>
<text x="175.00" y="609.00" font-size="10.3" text-anchor="middle" fill="#111" stroke="#111" stroke-width="0.28" font-weight="bold" >GPR173</text>
<rect x="64.20" y="585.91" width="12.20" height="6.59" fill="#f2c12e" stroke="none" stroke-width="1" />
<rect x="82.60" y="573.68" width="12.20" height="18.82" fill="#8fd94e" stroke="none" stroke-width="1" />
<rect x="112.70" y="584.74" width="12.80" height="7.76" fill="#f2c12e" stroke="none" stroke-width="1" />
<rect x="131.30" y="565.21" width="12.20" height="27.29" fill="#8fd94e" stroke="none" stroke-width="1" />
<rect x="161.70" y="584.03" width="12.30" height="8.47" fill="#f2c12e" stroke="none" stroke-width="1" />
<rect x="179.90" y="574.15" width="12.30" height="18.35" fill="#8fd94e" stroke="none" stroke-width="1" />
<line x1="70.30" y1="584.03" x2="70.30" y2="587.79" stroke="#111" stroke-width="1.0" />
<line x1="67.90" y1="584.03" x2="72.70" y2="584.03" stroke="#111" stroke-width="1.0" />
<line x1="67.90" y1="587.79" x2="72.70" y2="587.79" stroke="#111" stroke-width="1.0" />
<line x1="67.90" y1="585.91" x2="72.70" y2="585.91" stroke="#111" stroke-width="1.0" />
<path d="M70.01,573.79 L71.21,575.99 L68.81,575.99 Z" fill="#111" stroke="none" stroke-width="1" />
<path d="M72.95,584.14 L74.15,586.34 L71.75,586.34 Z" fill="#111" stroke="none" stroke-width="1" />
<path d="M67.02,586.50 L68.22,588.69 L65.82,588.69 Z" fill="#111" stroke="none" stroke-width="1" />
<path d="M68.78,588.85 L69.98,591.05 L67.58,591.05 Z" fill="#111" stroke="none" stroke-width="1" />
<path d="M73.53,589.79 L74.73,591.99 L72.33,591.99 Z" fill="#111" stroke="none" stroke-width="1" />
<path d="M71.45,590.26 L72.65,592.46 L70.25,592.46 Z" fill="#111" stroke="none" stroke-width="1" />
<line x1="88.70" y1="568.50" x2="88.70" y2="578.38" stroke="#111" stroke-width="1.0" />
<line x1="86.30" y1="568.50" x2="91.10" y2="568.50" stroke="#111" stroke-width="1.0" />
<line x1="86.30" y1="578.38" x2="91.10" y2="578.38" stroke="#111" stroke-width="1.0" />
<line x1="86.30" y1="573.68" x2="91.10" y2="573.68" stroke="#111" stroke-width="1.0" />
<path d="M87.87,552.05 L89.17,554.35 L86.57,554.35 Z" fill="none" stroke="#333" stroke-width="0.55" />
<path d="M86.82,558.64 L88.12,560.94 L85.52,560.94 Z" fill="none" stroke="#333" stroke-width="0.55" />
<path d="M86.36,567.58 L87.66,569.88 L85.06,569.88 Z" fill="none" stroke="#333" stroke-width="0.55" />
<path d="M91.60,572.28 L92.90,574.58 L90.30,574.58 Z" fill="none" stroke="#333" stroke-width="0.55" />
<path d="M89.25,577.93 L90.55,580.23 L87.95,580.23 Z" fill="none" stroke="#333" stroke-width="0.55" />
<path d="M90.03,584.04 L91.33,586.34 L88.73,586.34 Z" fill="none" stroke="#333" stroke-width="0.55" />
<path d="M89.07,589.69 L90.37,591.99 L87.77,591.99 Z" fill="none" stroke="#333" stroke-width="0.55" />
<line x1="119.10" y1="583.09" x2="119.10" y2="586.38" stroke="#111" stroke-width="1.0" />
<line x1="116.70" y1="583.09" x2="121.50" y2="583.09" stroke="#111" stroke-width="1.0" />
<line x1="116.70" y1="586.38" x2="121.50" y2="586.38" stroke="#111" stroke-width="1.0" />
<line x1="116.70" y1="584.74" x2="121.50" y2="584.74" stroke="#111" stroke-width="1.0" />
<path d="M120.08,577.56 L121.28,579.76 L118.88,579.76 Z" fill="#111" stroke="none" stroke-width="1" />
<path d="M115.78,581.79 L116.98,583.99 L114.58,583.99 Z" fill="#111" stroke="none" stroke-width="1" />
<path d="M117.53,583.67 L118.73,585.87 L116.33,585.87 Z" fill="#111" stroke="none" stroke-width="1" />
<path d="M117.16,584.61 L118.36,586.81 L115.96,586.81 Z" fill="#111" stroke="none" stroke-width="1" />
<path d="M120.76,585.55 L121.96,587.75 L119.56,587.75 Z" fill="#111" stroke="none" stroke-width="1" />
<line x1="137.40" y1="556.74" x2="137.40" y2="573.21" stroke="#111" stroke-width="1.0" />
<line x1="135.00" y1="556.74" x2="139.80" y2="556.74" stroke="#111" stroke-width="1.0" />
<line x1="135.00" y1="573.21" x2="139.80" y2="573.21" stroke="#111" stroke-width="1.0" />
<line x1="135.00" y1="565.21" x2="139.80" y2="565.21" stroke="#111" stroke-width="1.0" />
<path d="M134.17,539.35 L135.47,541.64 L132.87,541.64 Z" fill="none" stroke="#333" stroke-width="0.55" />
<path d="M138.77,551.11 L140.07,553.41 L137.47,553.41 Z" fill="none" stroke="#333" stroke-width="0.55" />
<path d="M134.91,551.11 L136.21,553.41 L133.61,553.41 Z" fill="none" stroke="#333" stroke-width="0.55" />
<path d="M137.14,585.92 L138.44,588.22 L135.84,588.22 Z" fill="none" stroke="#333" stroke-width="0.55" />
<path d="M138.60,585.92 L139.90,588.22 L137.30,588.22 Z" fill="none" stroke="#333" stroke-width="0.55" />
<line x1="167.85" y1="580.74" x2="167.85" y2="586.85" stroke="#111" stroke-width="1.0" />
<line x1="165.45" y1="580.74" x2="170.25" y2="580.74" stroke="#111" stroke-width="1.0" />
<line x1="165.45" y1="586.85" x2="170.25" y2="586.85" stroke="#111" stroke-width="1.0" />
<line x1="165.45" y1="584.03" x2="170.25" y2="584.03" stroke="#111" stroke-width="1.0" />
<path d="M167.21,559.21 L168.41,561.41 L166.01,561.41 Z" fill="#111" stroke="none" stroke-width="1" />
<path d="M168.14,584.14 L169.34,586.34 L166.94,586.34 Z" fill="#111" stroke="none" stroke-width="1" />
<path d="M170.38,585.55 L171.58,587.75 L169.18,587.75 Z" fill="#111" stroke="none" stroke-width="1" />
<path d="M165.59,588.85 L166.79,591.05 L164.39,591.05 Z" fill="#111" stroke="none" stroke-width="1" />
<path d="M165.93,589.79 L167.13,591.99 L164.73,591.99 Z" fill="#111" stroke="none" stroke-width="1" />
<path d="M164.55,590.26 L165.75,592.46 L163.35,592.46 Z" fill="#111" stroke="none" stroke-width="1" />
<line x1="186.05" y1="571.80" x2="186.05" y2="576.50" stroke="#111" stroke-width="1.0" />
<line x1="183.65" y1="571.80" x2="188.45" y2="571.80" stroke="#111" stroke-width="1.0" />
<line x1="183.65" y1="576.50" x2="188.45" y2="576.50" stroke="#111" stroke-width="1.0" />
<line x1="183.65" y1="574.15" x2="188.45" y2="574.15" stroke="#111" stroke-width="1.0" />
<path d="M184.45,558.16 L185.75,560.46 L183.15,560.46 Z" fill="none" stroke="#333" stroke-width="0.55" />
<path d="M185.97,569.93 L187.27,572.23 L184.67,572.23 Z" fill="none" stroke="#333" stroke-width="0.55" />
<path d="M183.12,570.87 L184.42,573.17 L181.82,573.17 Z" fill="none" stroke="#333" stroke-width="0.55" />
<path d="M184.92,572.28 L186.22,574.58 L183.62,574.58 Z" fill="none" stroke="#333" stroke-width="0.55" />
<path d="M183.06,574.63 L184.36,576.93 L181.76,576.93 Z" fill="none" stroke="#333" stroke-width="0.55" />
<path d="M182.63,576.99 L183.93,579.28 L181.33,579.28 Z" fill="none" stroke="#333" stroke-width="0.55" />
<path d="M184.54,578.87 L185.84,581.17 L183.24,581.17 Z" fill="none" stroke="#333" stroke-width="0.55" />
<path d="M69.90,564.10 L69.90,545.20 L88.30,545.20 L88.30,548.00" fill="none" stroke="#8f8f8f" stroke-width="0.9" />
<path d="M88.30,545.20 L88.30,520.00 L137.20,520.00 L137.20,526.40" fill="none" stroke="#8f8f8f" stroke-width="0.9" />
<path d="M88.30,501.90 L88.30,494.50 L186.00,494.50 L186.00,501.50" fill="none" stroke="#8f8f8f" stroke-width="0.9" />
<path d="M137.20,515.90 L137.20,509.40 L186.00,509.40 L186.00,541.80" fill="none" stroke="#8f8f8f" stroke-width="0.9" />
<path d="M118.50,552.70 L118.50,531.70 L137.20,531.70 L137.20,533.40" fill="none" stroke="#8f8f8f" stroke-width="0.9" />
<path d="M167.70,560.20 L167.70,545.00 L186.00,545.00 L186.00,550.20" fill="none" stroke="#8f8f8f" stroke-width="0.9" />
<text x="79.40" y="548.57" font-size="14" text-anchor="middle" fill="#111" stroke="#111" stroke-width="0.28" font-weight="bold" >*</text>
<text x="127.60" y="535.07" font-size="14" text-anchor="middle" fill="#111" stroke="#111" stroke-width="0.28" font-weight="bold" >*</text>
<text x="176.40" y="548.57" font-size="14" text-anchor="middle" fill="#111" stroke="#111" stroke-width="0.28" font-weight="bold" >*</text>
<text x="137.50" y="492.80" font-size="9.4" text-anchor="middle" fill="#111" stroke="#111" stroke-width="0.26" font-weight="bold" >N.S.</text>
<text x="115.00" y="517.10" font-size="9.4" text-anchor="middle" fill="#111" stroke="#111" stroke-width="0.26" font-weight="bold" >N.S.</text>
<text x="162.00" y="506.80" font-size="9.4" text-anchor="middle" fill="#111" stroke="#111" stroke-width="0.26" font-weight="bold" >N.S.</text>
<rect x="190.10" y="486.60" width="11.80" height="5.80" fill="#f2c12e" stroke="none" stroke-width="1" />
<text x="205.80" y="492.80" font-size="10.3" text-anchor="start" fill="#111" stroke="#111" stroke-width="0.28" font-weight="bold" >Old</text>
<rect x="190.10" y="500.10" width="11.80" height="5.80" fill="#8fd94e" stroke="none" stroke-width="1" />
<text x="205.80" y="506.80" font-size="10.3" text-anchor="start" fill="#111" stroke="#111" stroke-width="0.28" font-weight="bold" >Novel</text>
<text x="246.40" y="481.60" font-size="14.2" text-anchor="start" fill="#000" stroke="#000" stroke-width="0.28" font-weight="bold" >H</text>
<line x1="273.40" y1="500.10" x2="273.40" y2="592.50" stroke="#151515" stroke-width="1.15" />
<line x1="268.40" y1="592.50" x2="273.40" y2="592.50" stroke="#151515" stroke-width="1.15" />
<text x="267.40" y="595.65" font-size="9.0" text-anchor="end" fill="#1a1a1a" stroke="#1a1a1a" stroke-width="0.24" font-weight="bold" >0</text>
<line x1="268.40" y1="579.23" x2="273.40" y2="579.23" stroke="#151515" stroke-width="1.15" />
<text x="267.40" y="582.38" font-size="9.0" text-anchor="end" fill="#1a1a1a" stroke="#1a1a1a" stroke-width="0.24" font-weight="bold" >5</text>
<line x1="268.40" y1="565.96" x2="273.40" y2="565.96" stroke="#151515" stroke-width="1.15" />
<text x="267.40" y="569.11" font-size="9.0" text-anchor="end" fill="#1a1a1a" stroke="#1a1a1a" stroke-width="0.24" font-weight="bold" >10</text>
<line x1="268.40" y1="552.69" x2="273.40" y2="552.69" stroke="#151515" stroke-width="1.15" />
<text x="267.40" y="555.84" font-size="9.0" text-anchor="end" fill="#1a1a1a" stroke="#1a1a1a" stroke-width="0.24" font-weight="bold" >15</text>
<line x1="268.40" y1="539.41" x2="273.40" y2="539.41" stroke="#151515" stroke-width="1.15" />
<text x="267.40" y="542.56" font-size="9.0" text-anchor="end" fill="#1a1a1a" stroke="#1a1a1a" stroke-width="0.24" font-weight="bold" >20</text>
<line x1="268.40" y1="526.14" x2="273.40" y2="526.14" stroke="#151515" stroke-width="1.15" />
<text x="267.40" y="529.29" font-size="9.0" text-anchor="end" fill="#1a1a1a" stroke="#1a1a1a" stroke-width="0.24" font-weight="bold" >25</text>
<line x1="268.40" y1="512.87" x2="273.40" y2="512.87" stroke="#151515" stroke-width="1.15" />
<text x="267.40" y="516.02" font-size="9.0" text-anchor="end" fill="#1a1a1a" stroke="#1a1a1a" stroke-width="0.24" font-weight="bold" >30</text>
<line x1="268.40" y1="499.60" x2="273.40" y2="499.60" stroke="#151515" stroke-width="1.15" />
<text x="267.40" y="502.75" font-size="9.0" text-anchor="end" fill="#1a1a1a" stroke="#1a1a1a" stroke-width="0.24" font-weight="bold" >35</text>
<line x1="272.90" y1="592.30" x2="412.70" y2="592.30" stroke="#151515" stroke-width="1.15" />
<line x1="294.00" y1="592.30" x2="294.00" y2="596.00" stroke="#151515" stroke-width="1.15" />
<line x1="342.20" y1="592.30" x2="342.20" y2="596.00" stroke="#151515" stroke-width="1.15" />
<line x1="390.80" y1="592.30" x2="390.80" y2="596.00" stroke="#151515" stroke-width="1.15" />
<text transform="translate(253.60,544.40) rotate(-90)" font-size="10.5" text-anchor="middle" fill="#111" stroke="#111" stroke-width="0.28" font-weight="bold">Contact numbers</text>
<text x="296.50" y="609.00" font-size="10.3" text-anchor="middle" fill="#111" stroke="#111" stroke-width="0.28" font-weight="bold" >Saline</text>
<text x="344.30" y="609.00" font-size="10.3" text-anchor="middle" fill="#111" stroke="#111" stroke-width="0.28" font-weight="bold" >Sham</text>
<text x="391.00" y="609.00" font-size="10.3" text-anchor="middle" fill="#111" stroke="#111" stroke-width="0.28" font-weight="bold" >GPR173</text>
<rect x="279.20" y="579.89" width="11.90" height="12.61" fill="#f2c12e" stroke="none" stroke-width="1" />
<rect x="297.20" y="569.94" width="12.30" height="22.56" fill="#8fd94e" stroke="none" stroke-width="1" />
<rect x="327.70" y="578.96" width="12.30" height="13.54" fill="#f2c12e" stroke="none" stroke-width="1" />
<rect x="345.90" y="560.91" width="12.10" height="31.59" fill="#8fd94e" stroke="none" stroke-width="1" />
<rect x="375.90" y="579.49" width="12.30" height="13.01" fill="#f2c12e" stroke="none" stroke-width="1" />
<rect x="394.00" y="572.86" width="12.20" height="19.64" fill="#8fd94e" stroke="none" stroke-width="1" />
<line x1="285.15" y1="576.57" x2="285.15" y2="583.21" stroke="#111" stroke-width="1.0" />
<line x1="282.75" y1="576.57" x2="287.55" y2="576.57" stroke="#111" stroke-width="1.0" />
<line x1="282.75" y1="583.21" x2="287.55" y2="583.21" stroke="#111" stroke-width="1.0" />
<line x1="282.75" y1="579.89" x2="287.55" y2="579.89" stroke="#111" stroke-width="1.0" />
<path d="M285.13,565.98 L286.33,568.18 L283.93,568.18 Z" fill="#111" stroke="none" stroke-width="1" />
<path d="M283.51,571.29 L284.71,573.49 L282.31,573.49 Z" fill="#111" stroke="none" stroke-width="1" />
<path d="M286.11,577.93 L287.31,580.13 L284.91,580.13 Z" fill="#111" stroke="none" stroke-width="1" />
<path d="M283.35,580.58 L284.55,582.78 L282.15,582.78 Z" fill="#111" stroke="none" stroke-width="1" />
<path d="M284.96,583.24 L286.16,585.44 L283.76,585.44 Z" fill="#111" stroke="none" stroke-width="1" />
<path d="M288.44,584.56 L289.64,586.76 L287.24,586.76 Z" fill="#111" stroke="none" stroke-width="1" />
<path d="M282.25,587.22 L283.45,589.42 L281.05,589.42 Z" fill="#111" stroke="none" stroke-width="1" />
<line x1="303.35" y1="565.16" x2="303.35" y2="574.45" stroke="#111" stroke-width="1.0" />
<line x1="300.95" y1="565.16" x2="305.75" y2="565.16" stroke="#111" stroke-width="1.0" />
<line x1="300.95" y1="574.45" x2="305.75" y2="574.45" stroke="#111" stroke-width="1.0" />
<line x1="300.95" y1="569.94" x2="305.75" y2="569.94" stroke="#111" stroke-width="1.0" />
<path d="M301.55,553.94 L302.85,556.24 L300.25,556.24 Z" fill="none" stroke="#333" stroke-width="0.55" />
<path d="M303.37,557.92 L304.67,560.22 L302.07,560.22 Z" fill="none" stroke="#333" stroke-width="0.55" />
<path d="M300.98,565.88 L302.28,568.18 L299.68,568.18 Z" fill="none" stroke="#333" stroke-width="0.55" />
<path d="M305.60,569.87 L306.90,572.17 L304.30,572.17 Z" fill="none" stroke="#333" stroke-width="0.55" />
<path d="M301.47,577.83 L302.77,580.13 L300.17,580.13 Z" fill="none" stroke="#333" stroke-width="0.55" />
<path d="M303.72,588.45 L305.02,590.75 L302.42,590.75 Z" fill="none" stroke="#333" stroke-width="0.55" />
<line x1="333.85" y1="575.78" x2="333.85" y2="581.88" stroke="#111" stroke-width="1.0" />
<line x1="331.45" y1="575.78" x2="336.25" y2="575.78" stroke="#111" stroke-width="1.0" />
<line x1="331.45" y1="581.88" x2="336.25" y2="581.88" stroke="#111" stroke-width="1.0" />
<line x1="331.45" y1="578.96" x2="336.25" y2="578.96" stroke="#111" stroke-width="1.0" />
<path d="M337.20,564.66 L338.40,566.86 L336.00,566.86 Z" fill="#111" stroke="none" stroke-width="1" />
<path d="M330.73,575.27 L331.93,577.47 L329.53,577.47 Z" fill="#111" stroke="none" stroke-width="1" />
<path d="M335.43,577.93 L336.63,580.13 L334.23,580.13 Z" fill="#111" stroke="none" stroke-width="1" />
<path d="M333.74,580.58 L334.94,582.78 L332.54,582.78 Z" fill="#111" stroke="none" stroke-width="1" />
<path d="M336.94,581.91 L338.14,584.11 L335.74,584.11 Z" fill="#111" stroke="none" stroke-width="1" />
<line x1="351.95" y1="551.36" x2="351.95" y2="569.14" stroke="#111" stroke-width="1.0" />
<line x1="349.55" y1="551.36" x2="354.35" y2="551.36" stroke="#111" stroke-width="1.0" />
<line x1="349.55" y1="569.14" x2="354.35" y2="569.14" stroke="#111" stroke-width="1.0" />
<line x1="349.55" y1="560.91" x2="354.35" y2="560.91" stroke="#111" stroke-width="1.0" />
<path d="M352.77,532.71 L354.07,535.01 L351.47,535.01 Z" fill="none" stroke="#333" stroke-width="0.55" />
<path d="M354.68,538.01 L355.98,540.31 L353.38,540.31 Z" fill="none" stroke="#333" stroke-width="0.55" />
<path d="M351.65,549.96 L352.95,552.26 L350.35,552.26 Z" fill="none" stroke="#333" stroke-width="0.55" />
<path d="M353.43,577.83 L354.73,580.13 L352.13,580.13 Z" fill="none" stroke="#333" stroke-width="0.55" />
<path d="M355.01,580.48 L356.31,582.78 L353.71,582.78 Z" fill="none" stroke="#333" stroke-width="0.55" />
<path d="M352.09,580.48 L353.39,582.78 L350.79,582.78 Z" fill="none" stroke="#333" stroke-width="0.55" />
<line x1="382.05" y1="576.04" x2="382.05" y2="582.94" stroke="#111" stroke-width="1.0" />
<line x1="379.65" y1="576.04" x2="384.45" y2="576.04" stroke="#111" stroke-width="1.0" />
<line x1="379.65" y1="582.94" x2="384.45" y2="582.94" stroke="#111" stroke-width="1.0" />
<line x1="379.65" y1="579.49" x2="384.45" y2="579.49" stroke="#111" stroke-width="1.0" />
<path d="M384.95,562.00 L386.15,564.20 L383.75,564.20 Z" fill="#111" stroke="none" stroke-width="1" />
<path d="M379.51,572.62 L380.71,574.82 L378.31,574.82 Z" fill="#111" stroke="none" stroke-width="1" />
<path d="M382.44,575.27 L383.64,577.47 L381.24,577.47 Z" fill="#111" stroke="none" stroke-width="1" />
<path d="M381.93,579.26 L383.13,581.46 L380.73,581.46 Z" fill="#111" stroke="none" stroke-width="1" />
<path d="M385.26,583.24 L386.46,585.44 L384.06,585.44 Z" fill="#111" stroke="none" stroke-width="1" />
<path d="M381.21,585.89 L382.41,588.09 L380.01,588.09 Z" fill="#111" stroke="none" stroke-width="1" />
<path d="M381.68,588.55 L382.88,590.75 L380.48,590.75 Z" fill="#111" stroke="none" stroke-width="1" />
<line x1="400.10" y1="569.67" x2="400.10" y2="575.51" stroke="#111" stroke-width="1.0" />
<line x1="397.70" y1="569.67" x2="402.50" y2="569.67" stroke="#111" stroke-width="1.0" />
<line x1="397.70" y1="575.51" x2="402.50" y2="575.51" stroke="#111" stroke-width="1.0" />
<line x1="397.70" y1="572.86" x2="402.50" y2="572.86" stroke="#111" stroke-width="1.0" />
<path d="M397.23,552.61 L398.53,554.91 L395.93,554.91 Z" fill="none" stroke="#333" stroke-width="0.55" />
<path d="M403.25,564.56 L404.55,566.86 L401.95,566.86 Z" fill="none" stroke="#333" stroke-width="0.55" />
<path d="M397.65,568.54 L398.95,570.84 L396.35,570.84 Z" fill="none" stroke="#333" stroke-width="0.55" />
<path d="M401.78,569.87 L403.08,572.17 L400.48,572.17 Z" fill="none" stroke="#333" stroke-width="0.55" />
<path d="M402.49,572.52 L403.79,574.82 L401.19,574.82 Z" fill="none" stroke="#333" stroke-width="0.55" />
<path d="M401.83,573.85 L403.13,576.15 L400.53,576.15 Z" fill="none" stroke="#333" stroke-width="0.55" />
<path d="M398.71,577.83 L400.01,580.13 L397.41,580.13 Z" fill="none" stroke="#333" stroke-width="0.55" />
<path d="M399.06,583.14 L400.36,585.44 L397.76,585.44 Z" fill="none" stroke="#333" stroke-width="0.55" />
<path d="M285.30,563.20 L285.30,541.30 L303.30,541.30 L303.30,545.00" fill="none" stroke="#8f8f8f" stroke-width="0.9" />
<path d="M303.30,553.60 L303.30,511.50 L351.90,511.50 L351.90,515.90" fill="none" stroke="#8f8f8f" stroke-width="0.9" />
<path d="M303.30,493.10 L303.30,487.70 L400.40,487.70 L400.40,492.80" fill="none" stroke="#8f8f8f" stroke-width="0.9" />
<path d="M351.90,506.30 L351.90,501.50 L400.40,501.50 L400.40,540.00" fill="none" stroke="#8f8f8f" stroke-width="0.9" />
<path d="M333.50,566.70 L333.50,524.70 L351.90,524.70 L351.90,530.80" fill="none" stroke="#8f8f8f" stroke-width="0.9" />
<path d="M381.50,560.20 L381.50,548.80 L400.40,548.80 L400.40,552.30" fill="none" stroke="#8f8f8f" stroke-width="0.9" />
<text x="351.90" y="485.40" font-size="9.4" text-anchor="middle" fill="#111" stroke="#111" stroke-width="0.26" font-weight="bold" >N.S.</text>
<text x="328.70" y="508.90" font-size="9.4" text-anchor="middle" fill="#111" stroke="#111" stroke-width="0.26" font-weight="bold" >N.S.</text>
<text x="376.80" y="498.90" font-size="9.4" text-anchor="middle" fill="#111" stroke="#111" stroke-width="0.26" font-weight="bold" >N.S.</text>
<text x="294.00" y="539.20" font-size="9.4" text-anchor="middle" fill="#111" stroke="#111" stroke-width="0.26" font-weight="bold" >N.S.</text>
<text x="343.50" y="522.60" font-size="9.4" text-anchor="middle" fill="#111" stroke="#111" stroke-width="0.26" font-weight="bold" >N.S.</text>
<text x="391.70" y="546.70" font-size="9.4" text-anchor="middle" fill="#111" stroke="#111" stroke-width="0.26" font-weight="bold" >N.S.</text>
<rect x="408.00" y="488.40" width="11.80" height="5.80" fill="#f2c12e" stroke="none" stroke-width="1" />
<text x="422.30" y="493.70" font-size="10.3" text-anchor="start" fill="#111" stroke="#111" stroke-width="0.28" font-weight="bold" >Old</text>
<rect x="408.00" y="501.50" width="11.80" height="5.80" fill="#8fd94e" stroke="none" stroke-width="1" />
<text x="422.30" y="507.70" font-size="10.3" text-anchor="start" fill="#111" stroke="#111" stroke-width="0.28" font-weight="bold" >Novel</text>
<text x="451.60" y="481.00" font-size="14.2" text-anchor="start" fill="#000" stroke="#000" stroke-width="0.28" font-weight="bold" >I</text>
<line x1="498.30" y1="499.90" x2="498.30" y2="594.00" stroke="#151515" stroke-width="1.15" />
<line x1="493.50" y1="594.00" x2="498.30" y2="594.00" stroke="#151515" stroke-width="1.15" />
<text x="492.10" y="596.94" font-size="8.4" text-anchor="end" fill="#1a1a1a" stroke="#1a1a1a" stroke-width="0.23" font-weight="bold" >0</text>
<line x1="493.50" y1="578.23" x2="498.30" y2="578.23" stroke="#151515" stroke-width="1.15" />
<text x="492.10" y="581.17" font-size="8.4" text-anchor="end" fill="#1a1a1a" stroke="#1a1a1a" stroke-width="0.23" font-weight="bold" >20</text>
<line x1="493.50" y1="562.47" x2="498.30" y2="562.47" stroke="#151515" stroke-width="1.15" />
<text x="492.10" y="565.41" font-size="8.4" text-anchor="end" fill="#1a1a1a" stroke="#1a1a1a" stroke-width="0.23" font-weight="bold" >40</text>
<line x1="493.50" y1="546.70" x2="498.30" y2="546.70" stroke="#151515" stroke-width="1.15" />
<text x="492.10" y="549.64" font-size="8.4" text-anchor="end" fill="#1a1a1a" stroke="#1a1a1a" stroke-width="0.23" font-weight="bold" >60</text>
<line x1="493.50" y1="530.93" x2="498.30" y2="530.93" stroke="#151515" stroke-width="1.15" />
<text x="492.10" y="533.87" font-size="8.4" text-anchor="end" fill="#1a1a1a" stroke="#1a1a1a" stroke-width="0.23" font-weight="bold" >80</text>
<line x1="493.50" y1="515.17" x2="498.30" y2="515.17" stroke="#151515" stroke-width="1.15" />
<text x="492.10" y="518.11" font-size="8.4" text-anchor="end" fill="#1a1a1a" stroke="#1a1a1a" stroke-width="0.23" font-weight="bold" >100</text>
<line x1="493.50" y1="499.40" x2="498.30" y2="499.40" stroke="#151515" stroke-width="1.15" />
<text x="492.10" y="502.34" font-size="8.4" text-anchor="end" fill="#1a1a1a" stroke="#1a1a1a" stroke-width="0.23" font-weight="bold" >120</text>
<line x1="497.80" y1="594.10" x2="630.20" y2="594.10" stroke="#151515" stroke-width="1.15" />
<line x1="518.40" y1="594.10" x2="518.40" y2="597.80" stroke="#151515" stroke-width="1.15" />
<line x1="564.00" y1="594.10" x2="564.00" y2="597.80" stroke="#151515" stroke-width="1.15" />
<line x1="609.10" y1="594.10" x2="609.10" y2="597.80" stroke="#151515" stroke-width="1.15" />
<text transform="translate(475.40,537.30) rotate(-90)" font-size="10.5" text-anchor="middle" fill="#111" stroke="#111" stroke-width="0.28" font-weight="bold">Preference index (%)</text>
<text x="519.10" y="609.20" font-size="10.3" text-anchor="middle" fill="#111" stroke="#111" stroke-width="0.28" font-weight="bold" >Saline</text>
<text x="566.30" y="609.20" font-size="10.3" text-anchor="middle" fill="#111" stroke="#111" stroke-width="0.28" font-weight="bold" >Sham</text>
<text x="613.00" y="609.20" font-size="10.3" text-anchor="middle" fill="#111" stroke="#111" stroke-width="0.28" font-weight="bold" >GPR173</text>
<rect x="504.97" y="545.91" width="10.25" height="48.09" fill="#fff" stroke="#1a1a1a" stroke-width="1.15" />
<rect x="521.98" y="534.88" width="10.25" height="59.12" fill="#fff" stroke="#1a1a1a" stroke-width="1.15" />
<rect x="551.38" y="556.16" width="9.05" height="37.84" fill="#fff" stroke="#1a1a1a" stroke-width="1.15" />
<rect x="568.08" y="538.82" width="9.35" height="55.18" fill="#fff" stroke="#1a1a1a" stroke-width="1.15" />
<rect x="595.68" y="536.45" width="10.25" height="57.55" fill="#fff" stroke="#1a1a1a" stroke-width="1.15" />
<rect x="612.88" y="538.03" width="10.25" height="55.97" fill="#fff" stroke="#1a1a1a" stroke-width="1.15" />
<line x1="510.10" y1="541.18" x2="510.10" y2="550.64" stroke="#111" stroke-width="1.0" />
<line x1="507.70" y1="541.18" x2="512.50" y2="541.18" stroke="#111" stroke-width="1.0" />
<line x1="507.70" y1="550.64" x2="512.50" y2="550.64" stroke="#111" stroke-width="1.0" />
<line x1="507.70" y1="545.91" x2="512.50" y2="545.91" stroke="#111" stroke-width="1.0" />
<circle cx="508.9" cy="534.1" r="1.1" fill="#111"/>
<circle cx="510.6" cy="540.4" r="1.1" fill="#111"/>
<circle cx="508.6" cy="541.2" r="1.1" fill="#111"/>
<circle cx="512.1" cy="542.0" r="1.1" fill="#111"/>
<circle cx="509.9" cy="550.6" r="1.1" fill="#111"/>
<circle cx="509.0" cy="558.5" r="1.1" fill="#111"/>
<circle cx="512.6" cy="566.4" r="1.1" fill="#111"/>
<line x1="527.10" y1="529.36" x2="527.10" y2="540.39" stroke="#111" stroke-width="1.0" />
<line x1="524.70" y1="529.36" x2="529.50" y2="529.36" stroke="#111" stroke-width="1.0" />
<line x1="524.70" y1="540.39" x2="529.50" y2="540.39" stroke="#111" stroke-width="1.0" />
<line x1="524.70" y1="534.88" x2="529.50" y2="534.88" stroke="#111" stroke-width="1.0" />
<circle cx="527.1" cy="519.1" r="1.2" fill="none" stroke="#4a4a4a" stroke-width="0.6"/>
<circle cx="527.5" cy="519.9" r="1.2" fill="none" stroke="#4a4a4a" stroke-width="0.6"/>
<circle cx="529.1" cy="520.7" r="1.2" fill="none" stroke="#4a4a4a" stroke-width="0.6"/>
<circle cx="526.0" cy="534.9" r="1.2" fill="none" stroke="#4a4a4a" stroke-width="0.6"/>
<circle cx="526.0" cy="554.6" r="1.2" fill="none" stroke="#4a4a4a" stroke-width="0.6"/>
<circle cx="528.3" cy="556.2" r="1.2" fill="none" stroke="#4a4a4a" stroke-width="0.6"/>
<line x1="555.90" y1="546.70" x2="555.90" y2="566.41" stroke="#111" stroke-width="1.0" />
<line x1="553.50" y1="546.70" x2="558.30" y2="546.70" stroke="#111" stroke-width="1.0" />
<line x1="553.50" y1="566.41" x2="558.30" y2="566.41" stroke="#111" stroke-width="1.0" />
<line x1="553.50" y1="556.16" x2="558.30" y2="556.16" stroke="#111" stroke-width="1.0" />
<circle cx="558.6" cy="524.6" r="1.1" fill="#111"/>
<circle cx="553.8" cy="546.7" r="1.1" fill="#111"/>
<circle cx="558.9" cy="547.5" r="1.1" fill="#111"/>
<circle cx="554.2" cy="554.6" r="1.1" fill="#111"/>
<circle cx="555.7" cy="566.4" r="1.1" fill="#111"/>
<circle cx="558.4" cy="594.0" r="1.1" fill="#111"/>
<line x1="572.75" y1="533.30" x2="572.75" y2="543.55" stroke="#111" stroke-width="1.0" />
<line x1="570.35" y1="533.30" x2="575.15" y2="533.30" stroke="#111" stroke-width="1.0" />
<line x1="570.35" y1="543.55" x2="575.15" y2="543.55" stroke="#111" stroke-width="1.0" />
<line x1="570.35" y1="538.82" x2="575.15" y2="538.82" stroke="#111" stroke-width="1.0" />
<circle cx="572.4" cy="520.7" r="1.2" fill="none" stroke="#4a4a4a" stroke-width="0.6"/>
<circle cx="571.4" cy="530.9" r="1.2" fill="none" stroke="#4a4a4a" stroke-width="0.6"/>
<circle cx="575.4" cy="534.9" r="1.2" fill="none" stroke="#4a4a4a" stroke-width="0.6"/>
<circle cx="572.6" cy="550.6" r="1.2" fill="none" stroke="#4a4a4a" stroke-width="0.6"/>
<circle cx="570.1" cy="554.6" r="1.2" fill="none" stroke="#4a4a4a" stroke-width="0.6"/>
<line x1="600.80" y1="534.09" x2="600.80" y2="538.82" stroke="#111" stroke-width="1.0" />
<line x1="598.40" y1="534.09" x2="603.20" y2="534.09" stroke="#111" stroke-width="1.0" />
<line x1="598.40" y1="538.82" x2="603.20" y2="538.82" stroke="#111" stroke-width="1.0" />
<line x1="598.40" y1="536.45" x2="603.20" y2="536.45" stroke="#111" stroke-width="1.0" />
<circle cx="600.6" cy="528.6" r="1.1" fill="#111"/>
<circle cx="601.6" cy="530.9" r="1.1" fill="#111"/>
<circle cx="600.2" cy="533.3" r="1.1" fill="#111"/>
<circle cx="603.5" cy="534.9" r="1.1" fill="#111"/>
<circle cx="597.7" cy="536.5" r="1.1" fill="#111"/>
<circle cx="603.9" cy="538.0" r="1.1" fill="#111"/>
<circle cx="602.1" cy="541.2" r="1.1" fill="#111"/>
<circle cx="602.7" cy="545.1" r="1.1" fill="#111"/>
<line x1="618.00" y1="532.51" x2="618.00" y2="543.55" stroke="#111" stroke-width="1.0" />
<line x1="615.60" y1="532.51" x2="620.40" y2="532.51" stroke="#111" stroke-width="1.0" />
<line x1="615.60" y1="543.55" x2="620.40" y2="543.55" stroke="#111" stroke-width="1.0" />
<line x1="615.60" y1="538.03" x2="620.40" y2="538.03" stroke="#111" stroke-width="1.0" />
<circle cx="617.5" cy="516.7" r="1.2" fill="none" stroke="#4a4a4a" stroke-width="0.6"/>
<circle cx="616.6" cy="525.4" r="1.2" fill="none" stroke="#4a4a4a" stroke-width="0.6"/>
<circle cx="620.2" cy="525.4" r="1.2" fill="none" stroke="#4a4a4a" stroke-width="0.6"/>
<circle cx="617.6" cy="538.8" r="1.2" fill="none" stroke="#4a4a4a" stroke-width="0.6"/>
<circle cx="618.2" cy="539.6" r="1.2" fill="none" stroke="#4a4a4a" stroke-width="0.6"/>
<circle cx="618.3" cy="540.4" r="1.2" fill="none" stroke="#4a4a4a" stroke-width="0.6"/>
<circle cx="617.0" cy="545.1" r="1.2" fill="none" stroke="#4a4a4a" stroke-width="0.6"/>
<circle cx="618.9" cy="562.5" r="1.2" fill="none" stroke="#4a4a4a" stroke-width="0.6"/>
<path d="M509.70,528.70 L509.70,512.60 L526.70,512.60 L526.70,517.30" fill="none" stroke="#8f8f8f" stroke-width="0.9" />
<path d="M526.70,512.60 L526.70,497.70 L572.20,497.70 L572.20,503.30" fill="none" stroke="#8f8f8f" stroke-width="0.9" />
<path d="M526.70,480.90 L526.70,475.80 L618.40,475.80 L618.40,479.90" fill="none" stroke="#8f8f8f" stroke-width="0.9" />
<path d="M572.20,491.90 L572.20,486.70 L618.40,486.70 L618.40,507.00" fill="none" stroke="#8f8f8f" stroke-width="0.9" />
<path d="M555.60,520.80 L555.60,507.70 L572.20,507.70 L572.20,517.30" fill="none" stroke="#8f8f8f" stroke-width="0.9" />
<path d="M601.30,522.80 L601.30,507.90 L618.40,507.90 L618.40,512.30" fill="none" stroke="#8f8f8f" stroke-width="0.9" />
<text x="572.50" y="473.50" font-size="9.4" text-anchor="middle" fill="#111" stroke="#111" stroke-width="0.26" font-weight="bold" >N.S.</text>
<text x="550.50" y="495.90" font-size="9.4" text-anchor="middle" fill="#111" stroke="#111" stroke-width="0.26" font-weight="bold" >N.S.</text>
<text x="595.10" y="484.80" font-size="9.4" text-anchor="middle" fill="#111" stroke="#111" stroke-width="0.26" font-weight="bold" >N.S.</text>
<text x="518.40" y="510.30" font-size="9.4" text-anchor="middle" fill="#111" stroke="#111" stroke-width="0.26" font-weight="bold" >N.S.</text>
<text x="564.00" y="505.90" font-size="9.4" text-anchor="middle" fill="#111" stroke="#111" stroke-width="0.26" font-weight="bold" >N.S.</text>
<text x="609.70" y="506.20" font-size="9.4" text-anchor="middle" fill="#111" stroke="#111" stroke-width="0.26" font-weight="bold" >N.S.</text>
<circle cx="633.9" cy="487.6" r="1.6" fill="#111"/>
<text x="639.80" y="491.60" font-size="10.3" text-anchor="start" fill="#111" stroke="#111" stroke-width="0.28" font-weight="bold" >Before</text>
<circle cx="633.9" cy="499.4" r="1.4" fill="none" stroke="#333" stroke-width="0.6"/>
<text x="639.80" y="504.40" font-size="10.3" text-anchor="start" fill="#111" stroke="#111" stroke-width="0.28" font-weight="bold" >After</text>
<text x="7.60" y="654.80" font-size="14.2" text-anchor="start" fill="#000" stroke="#000" stroke-width="0.28" font-weight="bold" >J</text>
<circle cx="60.4" cy="697.4" r="34.6" fill="#dfe8ee" stroke="#7f95a6" stroke-width="0.8"/>
<circle cx="60.4" cy="697.4" r="32.6" fill="#a8cde3" stroke="#7f95a6" stroke-width="0.7"/>
<line x1="60.40" y1="665.00" x2="60.40" y2="729.80" stroke="#7f9fb5" stroke-width="0.6" stroke-dasharray="1 1"/>
<line x1="28.00" y1="697.40" x2="92.80" y2="697.40" stroke="#7f9fb5" stroke-width="0.6" stroke-dasharray="1 1"/>
<text x="41.80" y="683.00" font-size="9.0" text-anchor="middle" fill="#111" stroke="#111" stroke-width="0.24" font-weight="bold" >4</text>
<text x="76.40" y="683.00" font-size="9.0" text-anchor="middle" fill="#111" stroke="#111" stroke-width="0.24" font-weight="bold" >1</text>
<text x="41.80" y="716.50" font-size="9.0" text-anchor="middle" fill="#111" stroke="#111" stroke-width="0.24" font-weight="bold" >3</text>
<text x="76.40" y="716.50" font-size="9.0" text-anchor="middle" fill="#111" stroke="#111" stroke-width="0.24" font-weight="bold" >2</text>
<circle cx="48.6" cy="712.0" r="2.4" fill="#fff" stroke="#666" stroke-width="0.5"/>
<text x="60.40" y="660.90" font-size="8.4" text-anchor="middle" fill="#111" stroke="#111" stroke-width="0.23" font-weight="bold" >N</text>
<text x="60.40" y="740.00" font-size="8.4" text-anchor="middle" fill="#111" stroke="#111" stroke-width="0.23" font-weight="bold" >S</text>
<text x="20.20" y="701.20" font-size="8.4" text-anchor="middle" fill="#111" stroke="#111" stroke-width="0.23" font-weight="bold" >W</text>
<text x="100.60" y="701.20" font-size="8.4" text-anchor="middle" fill="#111" stroke="#111" stroke-width="0.23" font-weight="bold" >E</text>
<text transform="translate(17.0,714.5) rotate(42.5)" font-size="8.6" fill="#111" stroke="#111" stroke-width="0.22" font-weight="bold">Platform</text>
<line x1="116.40" y1="658.60" x2="116.40" y2="733.50" stroke="#222" stroke-width="0.9" />
<path d="M114.8,733.0 L118.0,733.0 L116.4,736.6 Z" fill="#222" stroke="none" stroke-width="1" />
<line x1="112.00" y1="663.00" x2="122.00" y2="663.00" stroke="#222" stroke-width="0.9" />
<path d="M112.6,661.60 L112.6,664.40 L109.4,663.00 Z" fill="#222" stroke="none" stroke-width="1" />
<line x1="112.00" y1="678.80" x2="122.00" y2="678.80" stroke="#222" stroke-width="0.9" />
<path d="M112.6,677.40 L112.6,680.20 L109.4,678.80 Z" fill="#222" stroke="none" stroke-width="1" />
<line x1="112.00" y1="704.60" x2="122.00" y2="704.60" stroke="#222" stroke-width="0.9" />
<path d="M112.6,703.20 L112.6,706.00 L109.4,704.60 Z" fill="#222" stroke="none" stroke-width="1" />
<line x1="112.00" y1="720.00" x2="122.00" y2="720.00" stroke="#222" stroke-width="0.9" />
<path d="M112.6,718.60 L112.6,721.40 L109.4,720.00 Z" fill="#222" stroke="none" stroke-width="1" />
<path d="M116.4,678.8 L123.0,678.8 L123.0,704.6 L116.4,704.6" fill="none" stroke="#222" stroke-width="0.9" />
<text x="128.00" y="662.60" font-size="9.45" text-anchor="start" fill="#111" stroke="#111" stroke-width="0.26" font-weight="bold" >Day0</text>
<text x="128.00" y="673.90" font-size="9.45" text-anchor="start" fill="#111" stroke="#111" stroke-width="0.26" font-weight="bold" >Visible platform training</text>
<text x="128.00" y="691.60" font-size="9.45" text-anchor="start" fill="#111" stroke="#111" stroke-width="0.26" font-weight="bold" >Day1-Day7</text>
<text x="128.00" y="702.80" font-size="9.45" text-anchor="start" fill="#111" stroke="#111" stroke-width="0.26" font-weight="bold" >Hidden platform training</text>
<text x="128.00" y="720.10" font-size="9.45" text-anchor="start" fill="#111" stroke="#111" stroke-width="0.26" font-weight="bold" >Day8</text>
<text x="128.00" y="731.50" font-size="9.45" text-anchor="start" fill="#111" stroke="#111" stroke-width="0.26" font-weight="bold" >Memory retention test</text>
<text x="7.60" y="777.80" font-size="14.2" text-anchor="start" fill="#000" stroke="#000" stroke-width="0.28" font-weight="bold" >K</text>
<text x="74.50" y="764.30" font-size="10.3" text-anchor="middle" fill="#111" stroke="#111" stroke-width="0.28" font-weight="bold" >Saline</text>
<text x="134.00" y="764.30" font-size="10.3" text-anchor="middle" fill="#111" stroke="#111" stroke-width="0.28" font-weight="bold" >Sham</text>
<text x="198.00" y="764.30" font-size="10.3" text-anchor="middle" fill="#111" stroke="#111" stroke-width="0.28" font-weight="bold" >GPR173</text>
<text x="30.00" y="801.00" font-size="10.3" text-anchor="middle" fill="#111" stroke="#111" stroke-width="0.28" font-weight="bold" >Day 1</text>
<text x="30.00" y="867.10" font-size="10.3" text-anchor="middle" fill="#111" stroke="#111" stroke-width="0.28" font-weight="bold" >Day 8</text>
<filter id="hf1" x="0" y="0" width="100%" height="100%" color-interpolation-filters="sRGB"><feTurbulence type="fractalNoise" baseFrequency="0.17" numOctaves="2" seed="101"/><feColorMatrix type="matrix" values="1 0 0 0 0 1 0 0 0 0 1 0 0 0 0 0 0 0 0 1"/><feComponentTransfer><feFuncR type="table" tableValues="0.35 0.35 0.35 0.35 0.35 0.37 0.42 0.44 0.45 0.45"/><feFuncG type="table" tableValues="0.65 0.65 0.65 0.65 0.68 0.8 0.88 0.9 0.91 0.91"/><feFuncB type="table" tableValues="0.93 0.93 0.93 0.93 0.93 0.95 0.96 0.97 0.97 0.97"/><feFuncA type="linear" slope="0" intercept="1"/></feComponentTransfer><feGaussianBlur stdDeviation="0.35"/></filter>
<clipPath id="hc1"><ellipse cx="74.9" cy="798.0" rx="27.4" ry="28.1"/></clipPath>
<ellipse cx="74.9" cy="798.0" rx="28.6" ry="29.3" fill="#5aa8ee"/>
<g clip-path="url(#hc1)">
<rect x="46.3" y="768.7" width="57.2" height="58.6" filter="url(#hf1)"/>
</g>
<line x1="74.60" y1="772.70" x2="74.60" y2="827.30" stroke="#3e5050" stroke-width="0.6" />
<line x1="47.80" y1="799.40" x2="101.00" y2="799.40" stroke="#3e5050" stroke-width="0.6" />
<text x="57.40" y="788.10" font-size="9.6" text-anchor="middle" fill="#111" stroke="#111" stroke-width="0.26" font-weight="bold" >4</text>
<text x="90.70" y="788.10" font-size="9.6" text-anchor="middle" fill="#111" stroke="#111" stroke-width="0.26" font-weight="bold" >1</text>
<text x="57.40" y="816.30" font-size="9.6" text-anchor="middle" fill="#111" stroke="#111" stroke-width="0.26" font-weight="bold" >3</text>
<text x="90.70" y="816.30" font-size="9.6" text-anchor="middle" fill="#111" stroke="#111" stroke-width="0.26" font-weight="bold" >2</text>
<circle cx="60.9" cy="809.2" r="1.3" fill="#e03020"/>
<circle cx="101.9" cy="795.0" r="1.3" fill="#e8f070"/>
<filter id="hf2" x="0" y="0" width="100%" height="100%" color-interpolation-filters="sRGB"><feTurbulence type="turbulence" baseFrequency="0.12" numOctaves="2" seed="102"/><feColorMatrix type="matrix" values="1 0 0 0 0 1 0 0 0 0 1 0 0 0 0 0 0 0 0 1"/><feComponentTransfer><feFuncR type="table" tableValues="0.93 0.9 0.78 0.62 0.53 0.53 0.53 0.53 0.53 0.53 0.53 0.53"/><feFuncG type="table" tableValues="0.94 0.95 0.95 0.95 0.94 0.94 0.94 0.94 0.94 0.94 0.94 0.94"/><feFuncB type="table" tableValues="0.42 0.48 0.6 0.76 0.92 0.92 0.92 0.92 0.92 0.92 0.92 0.92"/><feFuncA type="linear" slope="0" intercept="1"/></feComponentTransfer><feGaussianBlur stdDeviation="0.35"/></filter>
<clipPath id="hc2"><ellipse cx="137.3" cy="798.0" rx="25.6" ry="26.3"/></clipPath>
<ellipse cx="137.3" cy="798.0" rx="28.6" ry="29.3" fill="#80e6c4"/>
<g clip-path="url(#hc2)">
<rect x="108.7" y="768.7" width="57.2" height="58.6" filter="url(#hf2)"/>
<ellipse cx="137.3" cy="798.0" rx="24.1" ry="24.8" fill="none" stroke="#eef070" stroke-width="3" opacity="0.5" filter="url(#blur1)"/>
<g filter="url(#blur2)">
<circle cx="135.1" cy="774.8" r="1.2" fill="#f0a838" opacity="0.8"/>
<circle cx="133.3" cy="770.9" r="1.3" fill="#f0a838" opacity="0.8"/>
<circle cx="132.3" cy="771.6" r="1.0" fill="#f0a838" opacity="0.8"/>
<circle cx="131.6" cy="772.6" r="1.5" fill="#f0a838" opacity="0.8"/>
<circle cx="135.7" cy="771.2" r="1.3" fill="#f0a838" opacity="0.8"/>
<circle cx="133.9" cy="773.8" r="1.7" fill="#f0a838" opacity="0.8"/>
<circle cx="133.0" cy="771.0" r="1.4" fill="#f0a838" opacity="0.8"/>
<circle cx="132.7" cy="773.0" r="1.5" fill="#f0a838" opacity="0.8"/>
<circle cx="135.2" cy="774.8" r="1.6" fill="#f0a838" opacity="0.8"/>
<circle cx="133.2" cy="771.9" r="1.1" fill="#f0a838" opacity="0.8"/>
<circle cx="124.4" cy="812.1" r="1.5" fill="#f0a838" opacity="0.8"/>
<circle cx="125.3" cy="809.2" r="1.4" fill="#f0a838" opacity="0.8"/>
<circle cx="125.9" cy="810.1" r="1.2" fill="#f0a838" opacity="0.8"/>
<circle cx="123.9" cy="809.6" r="1.4" fill="#f0a838" opacity="0.8"/>
<circle cx="124.1" cy="810.0" r="1.6" fill="#f0a838" opacity="0.8"/>
<circle cx="127.0" cy="809.1" r="1.6" fill="#f0a838" opacity="0.8"/>
<circle cx="122.4" cy="811.0" r="1.4" fill="#f0a838" opacity="0.8"/>
<circle cx="123.6" cy="808.8" r="1.6" fill="#f0a838" opacity="0.8"/>
<circle cx="133.5" cy="783.1" r="1.5" fill="#f0a838" opacity="0.8"/>
<circle cx="140.9" cy="777.9" r="1.5" fill="#f0a838" opacity="0.8"/>
<circle cx="140.9" cy="779.4" r="1.4" fill="#f0a838" opacity="0.8"/>
<circle cx="144.0" cy="777.3" r="1.2" fill="#f0a838" opacity="0.8"/>
<circle cx="142.6" cy="782.6" r="1.8" fill="#f0a838" opacity="0.8"/>
<circle cx="135.6" cy="781.5" r="1.6" fill="#f0a838" opacity="0.8"/>
<circle cx="139.2" cy="779.2" r="1.4" fill="#f0a838" opacity="0.8"/>
<circle cx="136.2" cy="778.2" r="1.4" fill="#f0a838" opacity="0.8"/>
<circle cx="134.7" cy="774.1" r="0.8" fill="#e83a22"/>
<circle cx="133.9" cy="774.0" r="0.7" fill="#e83a22"/>
<circle cx="134.8" cy="773.0" r="0.8" fill="#e02a1a"/>
<circle cx="133.0" cy="773.5" r="0.7" fill="#e02a1a"/>
<circle cx="134.8" cy="771.3" r="0.6" fill="#e83a22"/>
<circle cx="134.6" cy="770.7" r="0.9" fill="#e83a22"/>
<circle cx="133.2" cy="772.3" r="0.7" fill="#e83a22"/>
<circle cx="135.4" cy="771.8" r="1.1" fill="#ea4a24"/>
<circle cx="133.6" cy="773.0" r="0.8" fill="#e83a22"/>
<circle cx="134.3" cy="774.2" r="1.3" fill="#e83a22"/>
<circle cx="124.6" cy="808.2" r="1.0" fill="#e02a1a"/>
<circle cx="125.7" cy="810.9" r="1.1" fill="#e83a22"/>
<circle cx="125.0" cy="808.6" r="0.6" fill="#e83a22"/>
<circle cx="124.3" cy="808.6" r="0.7" fill="#ea4a24"/>
<circle cx="124.4" cy="809.8" r="1.2" fill="#e02a1a"/>
<circle cx="124.3" cy="810.2" r="1.2" fill="#ea4a24"/>
<circle cx="125.3" cy="811.0" r="0.6" fill="#ea4a24"/>
<circle cx="127.3" cy="810.2" r="0.7" fill="#e02a1a"/>
<circle cx="138.9" cy="779.9" r="0.7" fill="#ea4a24"/>
<circle cx="137.5" cy="773.9" r="0.6" fill="#ea4a24"/>
<circle cx="134.2" cy="780.4" r="0.7" fill="#e02a1a"/>
<circle cx="136.6" cy="785.1" r="1.2" fill="#ea4a24"/>
<circle cx="138.0" cy="781.7" r="1.2" fill="#ea4a24"/>
<circle cx="136.9" cy="778.8" r="1.2" fill="#ea4a24"/>
<circle cx="137.7" cy="781.3" r="0.6" fill="#e83a22"/>
<circle cx="138.9" cy="778.2" r="1.0" fill="#e02a1a"/>
</g>
</g>
<line x1="136.30" y1="772.70" x2="136.30" y2="827.30" stroke="#3e5050" stroke-width="0.6" />
<line x1="110.20" y1="799.40" x2="163.40" y2="799.40" stroke="#3e5050" stroke-width="0.6" />
<text x="121.70" y="788.10" font-size="9.6" text-anchor="middle" fill="#111" stroke="#111" stroke-width="0.26" font-weight="bold" >4</text>
<text x="154.70" y="788.10" font-size="9.6" text-anchor="middle" fill="#111" stroke="#111" stroke-width="0.26" font-weight="bold" >1</text>
<text x="121.70" y="816.30" font-size="9.6" text-anchor="middle" fill="#111" stroke="#111" stroke-width="0.26" font-weight="bold" >3</text>
<text x="154.70" y="816.30" font-size="9.6" text-anchor="middle" fill="#111" stroke="#111" stroke-width="0.26" font-weight="bold" >2</text>
<filter id="hf3" x="0" y="0" width="100%" height="100%" color-interpolation-filters="sRGB"><feTurbulence type="turbulence" baseFrequency="0.12" numOctaves="2" seed="103"/><feColorMatrix type="matrix" values="1 0 0 0 0 1 0 0 0 0 1 0 0 0 0 0 0 0 0 1"/><feComponentTransfer><feFuncR type="table" tableValues="0.93 0.9 0.78 0.62 0.55 0.55 0.55 0.55 0.55 0.55 0.55 0.55"/><feFuncG type="table" tableValues="0.94 0.95 0.95 0.95 0.95 0.95 0.95 0.95 0.95 0.95 0.95 0.95"/><feFuncB type="table" tableValues="0.42 0.48 0.6 0.65 0.70 0.70 0.70 0.70 0.70 0.70 0.70 0.70"/><feFuncA type="linear" slope="0" intercept="1"/></feComponentTransfer><feGaussianBlur stdDeviation="0.35"/></filter>
<clipPath id="hc3"><ellipse cx="199.4" cy="798.0" rx="25.6" ry="26.3"/></clipPath>
<ellipse cx="199.4" cy="798.0" rx="28.6" ry="29.3" fill="#80e6c4"/>
<g clip-path="url(#hc3)">
<rect x="170.8" y="768.7" width="57.2" height="58.6" filter="url(#hf3)"/>
<ellipse cx="199.4" cy="798.0" rx="24.1" ry="24.8" fill="none" stroke="#eef070" stroke-width="3" opacity="0.5" filter="url(#blur1)"/>
<g filter="url(#blur2)">
<circle cx="184.1" cy="783.6" r="1.6" fill="#f0a838" opacity="0.8"/>
<circle cx="181.2" cy="782.3" r="1.1" fill="#f0a838" opacity="0.8"/>
<circle cx="180.4" cy="783.2" r="1.3" fill="#f0a838" opacity="0.8"/>
<circle cx="185.3" cy="780.8" r="1.1" fill="#f0a838" opacity="0.8"/>
<circle cx="182.9" cy="784.9" r="1.7" fill="#f0a838" opacity="0.8"/>
<circle cx="183.2" cy="784.3" r="1.1" fill="#f0a838" opacity="0.8"/>
<circle cx="183.5" cy="786.2" r="1.2" fill="#f0a838" opacity="0.8"/>
<circle cx="178.0" cy="786.2" r="1.7" fill="#f0a838" opacity="0.8"/>
<circle cx="177.6" cy="786.2" r="1.5" fill="#f0a838" opacity="0.8"/>
<circle cx="182.3" cy="782.3" r="1.3" fill="#f0a838" opacity="0.8"/>
<circle cx="176.1" cy="781.1" r="1.6" fill="#f0a838" opacity="0.8"/>
<circle cx="179.5" cy="784.3" r="1.3" fill="#f0a838" opacity="0.8"/>
<circle cx="183.0" cy="791.2" r="1.8" fill="#f0a838" opacity="0.8"/>
<circle cx="183.8" cy="782.1" r="1.6" fill="#f0a838" opacity="0.8"/>
<circle cx="180.6" cy="786.7" r="1.1" fill="#f0a838" opacity="0.8"/>
<circle cx="179.7" cy="784.9" r="1.1" fill="#f0a838" opacity="0.8"/>
<circle cx="182.4" cy="783.5" r="1.7" fill="#f0a838" opacity="0.8"/>
<circle cx="181.1" cy="783.0" r="1.4" fill="#f0a838" opacity="0.8"/>
<circle cx="188.8" cy="783.8" r="1.5" fill="#f0a838" opacity="0.8"/>
<circle cx="181.9" cy="780.1" r="1.3" fill="#f0a838" opacity="0.8"/>
<circle cx="178.2" cy="783.0" r="1.4" fill="#f0a838" opacity="0.8"/>
<circle cx="182.5" cy="781.5" r="1.7" fill="#f0a838" opacity="0.8"/>
<circle cx="183.9" cy="785.1" r="1.0" fill="#f0a838" opacity="0.8"/>
<circle cx="178.3" cy="780.0" r="1.5" fill="#f0a838" opacity="0.8"/>
<circle cx="178.2" cy="782.6" r="1.2" fill="#f0a838" opacity="0.8"/>
<circle cx="186.4" cy="789.4" r="1.6" fill="#f0a838" opacity="0.8"/>
<circle cx="187.1" cy="789.1" r="1.3" fill="#f0a838" opacity="0.8"/>
<circle cx="184.7" cy="784.0" r="1.3" fill="#f0a838" opacity="0.8"/>
<circle cx="187.3" cy="778.9" r="1.5" fill="#f0a838" opacity="0.8"/>
<circle cx="193.8" cy="785.6" r="1.8" fill="#f0a838" opacity="0.8"/>
<circle cx="192.0" cy="789.5" r="1.7" fill="#f0a838" opacity="0.8"/>
<circle cx="195.8" cy="787.1" r="1.8" fill="#f0a838" opacity="0.8"/>
<circle cx="196.1" cy="783.9" r="1.3" fill="#f0a838" opacity="0.8"/>
<circle cx="187.6" cy="790.9" r="1.1" fill="#f0a838" opacity="0.8"/>
<circle cx="198.5" cy="787.5" r="1.6" fill="#f0a838" opacity="0.8"/>
<circle cx="192.6" cy="789.6" r="1.3" fill="#f0a838" opacity="0.8"/>
<circle cx="192.6" cy="783.6" r="1.7" fill="#f0a838" opacity="0.8"/>
<circle cx="190.3" cy="782.5" r="1.2" fill="#f0a838" opacity="0.8"/>
<circle cx="186.4" cy="785.5" r="1.5" fill="#f0a838" opacity="0.8"/>
<circle cx="187.0" cy="792.3" r="1.4" fill="#f0a838" opacity="0.8"/>
<circle cx="194.9" cy="791.2" r="1.8" fill="#f0a838" opacity="0.8"/>
<circle cx="188.3" cy="781.4" r="1.8" fill="#f0a838" opacity="0.8"/>
<circle cx="190.9" cy="785.8" r="1.4" fill="#f0a838" opacity="0.8"/>
<circle cx="194.0" cy="786.4" r="1.2" fill="#f0a838" opacity="0.8"/>
<circle cx="184.6" cy="787.4" r="1.8" fill="#f0a838" opacity="0.8"/>
<circle cx="190.4" cy="786.6" r="1.9" fill="#f0a838" opacity="0.8"/>
<circle cx="191.4" cy="781.0" r="1.1" fill="#f0a838" opacity="0.8"/>
<circle cx="199.2" cy="789.0" r="1.5" fill="#f0a838" opacity="0.8"/>
<circle cx="194.9" cy="780.6" r="1.7" fill="#f0a838" opacity="0.8"/>
<circle cx="191.4" cy="783.1" r="1.2" fill="#f0a838" opacity="0.8"/>
<circle cx="184.2" cy="788.8" r="1.7" fill="#f0a838" opacity="0.8"/>
<circle cx="190.6" cy="780.7" r="1.4" fill="#f0a838" opacity="0.8"/>
<circle cx="192.4" cy="791.6" r="1.6" fill="#f0a838" opacity="0.8"/>
<circle cx="184.0" cy="785.4" r="1.9" fill="#f0a838" opacity="0.8"/>
<circle cx="192.2" cy="785.3" r="1.3" fill="#f0a838" opacity="0.8"/>
<circle cx="194.9" cy="788.0" r="1.3" fill="#f0a838" opacity="0.8"/>
<circle cx="201.4" cy="789.6" r="1.7" fill="#f0a838" opacity="0.8"/>
<circle cx="200.7" cy="791.8" r="1.0" fill="#f0a838" opacity="0.8"/>
<circle cx="199.3" cy="787.5" r="1.9" fill="#f0a838" opacity="0.8"/>
<circle cx="196.3" cy="789.3" r="1.3" fill="#f0a838" opacity="0.8"/>
<circle cx="197.0" cy="792.4" r="1.1" fill="#f0a838" opacity="0.8"/>
<circle cx="196.9" cy="788.9" r="1.4" fill="#f0a838" opacity="0.8"/>
<circle cx="197.8" cy="788.7" r="1.4" fill="#f0a838" opacity="0.8"/>
<circle cx="197.2" cy="793.4" r="1.6" fill="#f0a838" opacity="0.8"/>
<circle cx="200.9" cy="792.8" r="1.1" fill="#f0a838" opacity="0.8"/>
<circle cx="197.2" cy="788.8" r="1.9" fill="#f0a838" opacity="0.8"/>
<circle cx="194.0" cy="791.5" r="1.5" fill="#f0a838" opacity="0.8"/>
<circle cx="200.4" cy="786.8" r="1.6" fill="#f0a838" opacity="0.8"/>
<circle cx="200.0" cy="791.3" r="1.7" fill="#f0a838" opacity="0.8"/>
<circle cx="191.4" cy="795.3" r="1.6" fill="#f0a838" opacity="0.8"/>
<circle cx="182.9" cy="781.0" r="1.3" fill="#ea4a24"/>
<circle cx="178.4" cy="788.1" r="0.7" fill="#e02a1a"/>
<circle cx="182.6" cy="785.0" r="1.2" fill="#ea4a24"/>
<circle cx="184.4" cy="783.6" r="1.2" fill="#ea4a24"/>
<circle cx="182.0" cy="785.5" r="0.8" fill="#e83a22"/>
<circle cx="183.7" cy="781.8" r="1.2" fill="#e02a1a"/>
<circle cx="180.7" cy="784.9" r="0.9" fill="#e02a1a"/>
<circle cx="182.7" cy="783.6" r="0.8" fill="#e83a22"/>
<circle cx="181.8" cy="777.1" r="1.1" fill="#e02a1a"/>
<circle cx="181.0" cy="784.7" r="0.7" fill="#e02a1a"/>
<circle cx="181.6" cy="786.5" r="0.9" fill="#ea4a24"/>
<circle cx="182.6" cy="782.8" r="1.2" fill="#ea4a24"/>
<circle cx="179.0" cy="776.7" r="0.7" fill="#e02a1a"/>
<circle cx="181.5" cy="785.0" r="0.9" fill="#ea4a24"/>
<circle cx="182.1" cy="780.6" r="1.0" fill="#e02a1a"/>
<circle cx="181.9" cy="784.3" r="0.7" fill="#e02a1a"/>
<circle cx="179.4" cy="783.6" r="1.1" fill="#e83a22"/>
<circle cx="179.5" cy="787.2" r="1.3" fill="#ea4a24"/>
<circle cx="180.4" cy="784.3" r="0.7" fill="#ea4a24"/>
<circle cx="180.1" cy="780.3" r="0.7" fill="#e83a22"/>
<circle cx="183.9" cy="785.9" r="0.9" fill="#ea4a24"/>
<circle cx="180.3" cy="784.2" r="0.6" fill="#e02a1a"/>
<circle cx="183.2" cy="784.6" r="1.0" fill="#ea4a24"/>
<circle cx="183.4" cy="784.8" r="0.9" fill="#ea4a24"/>
<circle cx="180.1" cy="784.1" r="0.9" fill="#e83a22"/>
<circle cx="190.4" cy="785.7" r="0.7" fill="#e83a22"/>
<circle cx="192.0" cy="783.8" r="0.7" fill="#ea4a24"/>
<circle cx="189.2" cy="785.2" r="1.3" fill="#ea4a24"/>
<circle cx="189.7" cy="786.0" r="1.0" fill="#e83a22"/>
<circle cx="187.5" cy="784.5" r="0.9" fill="#ea4a24"/>
<circle cx="190.1" cy="785.4" r="0.8" fill="#ea4a24"/>
<circle cx="192.1" cy="785.4" r="1.2" fill="#ea4a24"/>
<circle cx="182.3" cy="786.5" r="1.0" fill="#ea4a24"/>
<circle cx="191.4" cy="788.0" r="1.3" fill="#e83a22"/>
<circle cx="191.1" cy="792.7" r="0.6" fill="#ea4a24"/>
<circle cx="192.9" cy="786.9" r="0.8" fill="#e83a22"/>
<circle cx="189.7" cy="779.9" r="0.9" fill="#ea4a24"/>
<circle cx="185.7" cy="788.2" r="1.1" fill="#e02a1a"/>
<circle cx="187.0" cy="778.7" r="0.9" fill="#e83a22"/>
<circle cx="187.3" cy="784.1" r="1.0" fill="#e83a22"/>
<circle cx="184.3" cy="782.5" r="1.2" fill="#e83a22"/>
<circle cx="188.2" cy="789.8" r="1.0" fill="#e02a1a"/>
<circle cx="184.0" cy="784.3" r="0.7" fill="#e83a22"/>
<circle cx="194.3" cy="788.9" r="1.2" fill="#e02a1a"/>
<circle cx="194.4" cy="787.7" r="0.8" fill="#ea4a24"/>
<circle cx="188.1" cy="783.9" r="1.3" fill="#e02a1a"/>
<circle cx="192.2" cy="781.9" r="1.1" fill="#e83a22"/>
<circle cx="192.3" cy="785.3" r="0.6" fill="#ea4a24"/>
<circle cx="194.1" cy="785.3" r="1.1" fill="#ea4a24"/>
<circle cx="191.1" cy="785.4" r="0.8" fill="#e83a22"/>
<circle cx="188.8" cy="784.9" r="1.0" fill="#e83a22"/>
<circle cx="186.3" cy="785.0" r="0.9" fill="#ea4a24"/>
<circle cx="184.6" cy="787.9" r="1.1" fill="#e83a22"/>
<circle cx="191.2" cy="781.6" r="1.0" fill="#e83a22"/>
<circle cx="193.1" cy="788.8" r="1.0" fill="#e83a22"/>
<circle cx="199.9" cy="797.0" r="1.3" fill="#e02a1a"/>
<circle cx="199.2" cy="788.4" r="1.1" fill="#ea4a24"/>
<circle cx="200.6" cy="793.1" r="1.2" fill="#e02a1a"/>
<circle cx="198.5" cy="789.3" r="1.0" fill="#e02a1a"/>
<circle cx="198.3" cy="790.1" r="1.2" fill="#e83a22"/>
<circle cx="196.6" cy="791.4" r="0.9" fill="#ea4a24"/>
<circle cx="196.3" cy="792.2" r="0.9" fill="#ea4a24"/>
<circle cx="194.8" cy="793.6" r="0.7" fill="#e83a22"/>
<circle cx="200.1" cy="788.9" r="0.7" fill="#e02a1a"/>
<circle cx="194.6" cy="794.1" r="0.7" fill="#ea4a24"/>
<circle cx="196.0" cy="790.7" r="0.8" fill="#ea4a24"/>
<circle cx="199.6" cy="791.6" r="1.2" fill="#e02a1a"/>
<circle cx="194.9" cy="789.3" r="0.7" fill="#ea4a24"/>
<circle cx="202.3" cy="787.8" r="0.9" fill="#ea4a24"/>
<circle cx="203.5" cy="787.6" r="0.8" fill="#ea4a24"/>
</g>
</g>
<line x1="199.20" y1="772.70" x2="199.20" y2="827.30" stroke="#3e5050" stroke-width="0.6" />
<line x1="172.30" y1="799.40" x2="225.50" y2="799.40" stroke="#3e5050" stroke-width="0.6" />
<text x="183.10" y="788.10" font-size="9.6" text-anchor="middle" fill="#111" stroke="#111" stroke-width="0.26" font-weight="bold" >4</text>
<text x="216.30" y="788.10" font-size="9.6" text-anchor="middle" fill="#111" stroke="#111" stroke-width="0.26" font-weight="bold" >1</text>
<text x="183.10" y="816.30" font-size="9.6" text-anchor="middle" fill="#111" stroke="#111" stroke-width="0.26" font-weight="bold" >3</text>
<text x="216.30" y="816.30" font-size="9.6" text-anchor="middle" fill="#111" stroke="#111" stroke-width="0.26" font-weight="bold" >2</text>
<filter id="hf4" x="0" y="0" width="100%" height="100%" color-interpolation-filters="sRGB"><feTurbulence type="turbulence" baseFrequency="0.12" numOctaves="2" seed="104"/><feColorMatrix type="matrix" values="1 0 0 0 0 1 0 0 0 0 1 0 0 0 0 0 0 0 0 1"/><feComponentTransfer><feFuncR type="table" tableValues="0.93 0.9 0.78 0.62 0.53 0.53 0.53 0.53 0.53 0.53 0.53 0.53"/><feFuncG type="table" tableValues="0.94 0.95 0.95 0.95 0.94 0.94 0.94 0.94 0.94 0.94 0.94 0.94"/><feFuncB type="table" tableValues="0.42 0.48 0.6 0.76 0.92 0.92 0.92 0.92 0.92 0.92 0.92 0.92"/><feFuncA type="linear" slope="0" intercept="1"/></feComponentTransfer><feGaussianBlur stdDeviation="0.35"/></filter>
<clipPath id="hc4"><ellipse cx="74.9" cy="863.6" rx="25.6" ry="26.3"/></clipPath>
<ellipse cx="74.9" cy="863.6" rx="28.6" ry="29.3" fill="#80e6c4"/>
<g clip-path="url(#hc4)">
<rect x="46.3" y="834.3" width="57.2" height="58.6" filter="url(#hf4)"/>
<ellipse cx="74.9" cy="863.6" rx="24.1" ry="24.8" fill="none" stroke="#eef070" stroke-width="3" opacity="0.5" filter="url(#blur1)"/>
<g filter="url(#blur2)">
<circle cx="58.8" cy="877.3" r="1.7" fill="#f0a838" opacity="0.8"/>
<circle cx="54.2" cy="880.8" r="1.6" fill="#f0a838" opacity="0.8"/>
<circle cx="54.1" cy="878.2" r="1.2" fill="#f0a838" opacity="0.8"/>
<circle cx="54.9" cy="877.8" r="1.6" fill="#f0a838" opacity="0.8"/>
<circle cx="52.2" cy="881.8" r="1.8" fill="#f0a838" opacity="0.8"/>
<circle cx="51.7" cy="877.4" r="1.3" fill="#f0a838" opacity="0.8"/>
<circle cx="51.4" cy="876.2" r="1.4" fill="#f0a838" opacity="0.8"/>
<circle cx="50.9" cy="879.3" r="1.2" fill="#f0a838" opacity="0.8"/>
<circle cx="55.3" cy="881.5" r="1.1" fill="#f0a838" opacity="0.8"/>
<circle cx="50.2" cy="876.0" r="1.7" fill="#f0a838" opacity="0.8"/>
<circle cx="53.9" cy="881.2" r="1.8" fill="#f0a838" opacity="0.8"/>
<circle cx="49.4" cy="884.9" r="1.2" fill="#f0a838" opacity="0.8"/>
<circle cx="54.3" cy="878.0" r="1.6" fill="#f0a838" opacity="0.8"/>
<circle cx="55.0" cy="875.6" r="1.6" fill="#f0a838" opacity="0.8"/>
<circle cx="61.1" cy="874.3" r="1.2" fill="#f0a838" opacity="0.8"/>
<circle cx="53.2" cy="878.5" r="1.3" fill="#f0a838" opacity="0.8"/>
<circle cx="54.8" cy="879.8" r="1.6" fill="#f0a838" opacity="0.8"/>
<circle cx="55.1" cy="879.3" r="1.0" fill="#f0a838" opacity="0.8"/>
<circle cx="54.6" cy="876.9" r="1.1" fill="#f0a838" opacity="0.8"/>
<circle cx="51.0" cy="875.9" r="1.6" fill="#f0a838" opacity="0.8"/>
<circle cx="50.9" cy="877.7" r="1.6" fill="#f0a838" opacity="0.8"/>
<circle cx="52.1" cy="883.1" r="1.6" fill="#f0a838" opacity="0.8"/>
<circle cx="57.2" cy="874.5" r="1.8" fill="#f0a838" opacity="0.8"/>
<circle cx="50.9" cy="878.2" r="1.7" fill="#f0a838" opacity="0.8"/>
<circle cx="53.4" cy="878.3" r="1.8" fill="#f0a838" opacity="0.8"/>
<circle cx="50.8" cy="871.3" r="1.4" fill="#f0a838" opacity="0.8"/>
<circle cx="52.6" cy="870.4" r="1.5" fill="#f0a838" opacity="0.8"/>
<circle cx="51.2" cy="865.4" r="1.3" fill="#f0a838" opacity="0.8"/>
<circle cx="44.1" cy="866.1" r="1.6" fill="#f0a838" opacity="0.8"/>
<circle cx="50.1" cy="868.3" r="1.6" fill="#f0a838" opacity="0.8"/>
<circle cx="50.3" cy="870.0" r="1.3" fill="#f0a838" opacity="0.8"/>
<circle cx="50.4" cy="869.6" r="1.2" fill="#f0a838" opacity="0.8"/>
<circle cx="50.1" cy="870.5" r="1.7" fill="#f0a838" opacity="0.8"/>
<circle cx="75.5" cy="836.9" r="1.0" fill="#f0a838" opacity="0.8"/>
<circle cx="74.2" cy="836.6" r="1.5" fill="#f0a838" opacity="0.8"/>
<circle cx="75.0" cy="837.3" r="1.4" fill="#f0a838" opacity="0.8"/>
<circle cx="76.8" cy="837.5" r="1.5" fill="#f0a838" opacity="0.8"/>
<circle cx="51.9" cy="880.1" r="1.3" fill="#e02a1a"/>
<circle cx="57.2" cy="879.8" r="1.2" fill="#ea4a24"/>
<circle cx="54.3" cy="875.9" r="0.8" fill="#ea4a24"/>
<circle cx="55.2" cy="880.0" r="1.1" fill="#e83a22"/>
<circle cx="53.6" cy="878.7" r="1.0" fill="#e02a1a"/>
<circle cx="55.1" cy="877.6" r="1.0" fill="#e02a1a"/>
<circle cx="55.1" cy="878.9" r="0.7" fill="#e83a22"/>
<circle cx="52.8" cy="881.4" r="1.1" fill="#e83a22"/>
<circle cx="55.6" cy="879.3" r="0.8" fill="#ea4a24"/>
<circle cx="52.0" cy="878.7" r="1.2" fill="#e83a22"/>
<circle cx="53.4" cy="881.9" r="1.2" fill="#e02a1a"/>
<circle cx="51.9" cy="879.4" r="1.3" fill="#ea4a24"/>
<circle cx="54.5" cy="877.4" r="1.1" fill="#e83a22"/>
<circle cx="52.8" cy="878.1" r="1.0" fill="#e83a22"/>
<circle cx="52.8" cy="876.8" r="1.0" fill="#e83a22"/>
<circle cx="55.8" cy="874.0" r="1.2" fill="#e83a22"/>
<circle cx="55.5" cy="875.7" r="1.0" fill="#e83a22"/>
<circle cx="55.9" cy="881.1" r="1.2" fill="#e02a1a"/>
<circle cx="56.1" cy="880.9" r="0.6" fill="#e02a1a"/>
<circle cx="52.9" cy="876.6" r="0.7" fill="#ea4a24"/>
<circle cx="55.2" cy="877.6" r="0.6" fill="#ea4a24"/>
<circle cx="53.0" cy="881.9" r="1.0" fill="#e83a22"/>
<circle cx="51.5" cy="880.0" r="0.8" fill="#e02a1a"/>
<circle cx="52.9" cy="879.7" r="1.1" fill="#e83a22"/>
<circle cx="48.3" cy="877.9" r="0.7" fill="#ea4a24"/>
<circle cx="51.4" cy="867.6" r="1.2" fill="#e02a1a"/>
<circle cx="46.0" cy="870.2" r="0.9" fill="#e83a22"/>
<circle cx="47.7" cy="866.0" r="1.0" fill="#ea4a24"/>
<circle cx="50.2" cy="868.0" r="0.8" fill="#ea4a24"/>
<circle cx="51.2" cy="865.3" r="0.9" fill="#e02a1a"/>
<circle cx="52.0" cy="865.6" r="1.0" fill="#ea4a24"/>
<circle cx="49.3" cy="865.9" r="0.8" fill="#e02a1a"/>
<circle cx="52.2" cy="869.4" r="1.3" fill="#ea4a24"/>
<circle cx="76.1" cy="837.7" r="1.2" fill="#e83a22"/>
<circle cx="74.7" cy="837.5" r="1.2" fill="#e02a1a"/>
<circle cx="74.5" cy="835.6" r="1.0" fill="#e83a22"/>
<circle cx="74.4" cy="837.5" r="1.2" fill="#e02a1a"/>
</g>
</g>
<line x1="74.60" y1="838.30" x2="74.60" y2="892.90" stroke="#3e5050" stroke-width="0.6" />
<line x1="47.80" y1="865.00" x2="101.00" y2="865.00" stroke="#3e5050" stroke-width="0.6" />
<text x="57.10" y="853.70" font-size="9.6" text-anchor="middle" fill="#111" stroke="#111" stroke-width="0.26" font-weight="bold" >4</text>
<text x="90.70" y="853.70" font-size="9.6" text-anchor="middle" fill="#111" stroke="#111" stroke-width="0.26" font-weight="bold" >1</text>
<text x="57.10" y="881.90" font-size="9.6" text-anchor="middle" fill="#111" stroke="#111" stroke-width="0.26" font-weight="bold" >3</text>
<text x="90.70" y="881.90" font-size="9.6" text-anchor="middle" fill="#111" stroke="#111" stroke-width="0.26" font-weight="bold" >2</text>
<filter id="hf5" x="0" y="0" width="100%" height="100%" color-interpolation-filters="sRGB"><feTurbulence type="turbulence" baseFrequency="0.12" numOctaves="2" seed="105"/><feColorMatrix type="matrix" values="1 0 0 0 0 1 0 0 0 0 1 0 0 0 0 0 0 0 0 1"/><feComponentTransfer><feFuncR type="table" tableValues="0.93 0.9 0.78 0.62 0.58 0.58 0.58 0.58 0.58 0.58 0.58 0.58"/><feFuncG type="table" tableValues="0.94 0.95 0.95 0.95 0.94 0.94 0.94 0.94 0.94 0.94 0.94 0.94"/><feFuncB type="table" tableValues="0.42 0.48 0.6 0.72 0.84 0.84 0.84 0.84 0.84 0.84 0.84 0.84"/><feFuncA type="linear" slope="0" intercept="1"/></feComponentTransfer><feGaussianBlur stdDeviation="0.35"/></filter>
<clipPath id="hc5"><ellipse cx="137.3" cy="863.6" rx="25.6" ry="26.3"/></clipPath>
<ellipse cx="137.3" cy="863.6" rx="28.6" ry="29.3" fill="#80e6c4"/>
<g clip-path="url(#hc5)">
<rect x="108.7" y="834.3" width="57.2" height="58.6" filter="url(#hf5)"/>
<ellipse cx="137.3" cy="863.6" rx="24.1" ry="24.8" fill="none" stroke="#eef070" stroke-width="3" opacity="0.5" filter="url(#blur1)"/>
<g filter="url(#blur2)">
<circle cx="158.6" cy="847.3" r="1.7" fill="#f0a838" opacity="0.8"/>
<circle cx="159.0" cy="848.1" r="1.7" fill="#f0a838" opacity="0.8"/>
<circle cx="156.7" cy="849.6" r="1.3" fill="#f0a838" opacity="0.8"/>
<circle cx="157.3" cy="847.5" r="1.6" fill="#f0a838" opacity="0.8"/>
<circle cx="156.6" cy="849.6" r="1.4" fill="#f0a838" opacity="0.8"/>
<circle cx="155.6" cy="850.1" r="1.8" fill="#f0a838" opacity="0.8"/>
<circle cx="158.6" cy="847.9" r="1.9" fill="#f0a838" opacity="0.8"/>
<circle cx="153.4" cy="845.3" r="1.7" fill="#f0a838" opacity="0.8"/>
<circle cx="155.8" cy="848.4" r="1.8" fill="#f0a838" opacity="0.8"/>
<circle cx="160.1" cy="848.6" r="1.1" fill="#f0a838" opacity="0.8"/>
<circle cx="158.8" cy="845.5" r="1.8" fill="#f0a838" opacity="0.8"/>
<circle cx="162.7" cy="847.8" r="1.7" fill="#f0a838" opacity="0.8"/>
<circle cx="155.4" cy="850.1" r="1.5" fill="#f0a838" opacity="0.8"/>
<circle cx="157.5" cy="845.8" r="1.7" fill="#f0a838" opacity="0.8"/>
<circle cx="112.0" cy="873.3" r="1.9" fill="#f0a838" opacity="0.8"/>
<circle cx="116.8" cy="868.0" r="1.6" fill="#f0a838" opacity="0.8"/>
<circle cx="117.2" cy="875.4" r="1.3" fill="#f0a838" opacity="0.8"/>
<circle cx="115.2" cy="874.9" r="1.1" fill="#f0a838" opacity="0.8"/>
<circle cx="111.0" cy="874.1" r="1.8" fill="#f0a838" opacity="0.8"/>
<circle cx="118.5" cy="872.9" r="1.0" fill="#f0a838" opacity="0.8"/>
<circle cx="115.6" cy="874.4" r="1.8" fill="#f0a838" opacity="0.8"/>
<circle cx="113.6" cy="877.2" r="1.4" fill="#f0a838" opacity="0.8"/>
<circle cx="111.1" cy="871.1" r="1.6" fill="#f0a838" opacity="0.8"/>
<circle cx="118.5" cy="875.2" r="1.3" fill="#f0a838" opacity="0.8"/>
<circle cx="139.6" cy="888.3" r="1.2" fill="#f0a838" opacity="0.8"/>
<circle cx="140.0" cy="887.1" r="1.1" fill="#f0a838" opacity="0.8"/>
<circle cx="139.2" cy="882.2" r="1.4" fill="#f0a838" opacity="0.8"/>
<circle cx="140.3" cy="893.8" r="1.3" fill="#f0a838" opacity="0.8"/>
<circle cx="137.3" cy="889.5" r="1.8" fill="#f0a838" opacity="0.8"/>
<circle cx="137.4" cy="890.1" r="1.3" fill="#f0a838" opacity="0.8"/>
<circle cx="134.2" cy="878.9" r="1.2" fill="#f0a838" opacity="0.8"/>
<circle cx="135.5" cy="887.0" r="1.8" fill="#f0a838" opacity="0.8"/>
<circle cx="132.8" cy="889.0" r="1.8" fill="#f0a838" opacity="0.8"/>
<circle cx="134.0" cy="887.9" r="1.0" fill="#f0a838" opacity="0.8"/>
<circle cx="139.6" cy="892.6" r="1.7" fill="#f0a838" opacity="0.8"/>
<circle cx="136.5" cy="888.2" r="1.7" fill="#f0a838" opacity="0.8"/>
<circle cx="163.6" cy="865.4" r="1.7" fill="#f0a838" opacity="0.8"/>
<circle cx="160.3" cy="867.0" r="1.3" fill="#f0a838" opacity="0.8"/>
<circle cx="162.4" cy="871.3" r="1.3" fill="#f0a838" opacity="0.8"/>
<circle cx="161.8" cy="867.2" r="1.2" fill="#f0a838" opacity="0.8"/>
<circle cx="162.7" cy="869.4" r="1.7" fill="#f0a838" opacity="0.8"/>
<circle cx="163.3" cy="864.6" r="1.0" fill="#f0a838" opacity="0.8"/>
<circle cx="160.3" cy="866.2" r="1.3" fill="#f0a838" opacity="0.8"/>
<circle cx="164.1" cy="867.5" r="1.3" fill="#f0a838" opacity="0.8"/>
<circle cx="158.1" cy="847.1" r="0.9" fill="#e02a1a"/>
<circle cx="157.3" cy="848.7" r="1.0" fill="#e83a22"/>
<circle cx="156.7" cy="850.3" r="0.7" fill="#ea4a24"/>
<circle cx="157.3" cy="851.1" r="0.9" fill="#e02a1a"/>
<circle cx="159.1" cy="846.9" r="1.1" fill="#e83a22"/>
<circle cx="153.2" cy="847.4" r="1.1" fill="#e02a1a"/>
<circle cx="154.5" cy="848.4" r="0.6" fill="#ea4a24"/>
<circle cx="156.2" cy="847.6" r="1.0" fill="#ea4a24"/>
<circle cx="156.1" cy="846.1" r="1.0" fill="#ea4a24"/>
<circle cx="159.4" cy="850.1" r="1.1" fill="#e83a22"/>
<circle cx="159.1" cy="847.8" r="1.0" fill="#e83a22"/>
<circle cx="156.5" cy="847.0" r="0.9" fill="#e02a1a"/>
<circle cx="157.0" cy="850.4" r="0.7" fill="#ea4a24"/>
<circle cx="158.4" cy="850.7" r="1.3" fill="#ea4a24"/>
<circle cx="115.2" cy="875.0" r="0.9" fill="#e02a1a"/>
<circle cx="117.1" cy="873.9" r="1.3" fill="#e02a1a"/>
<circle cx="117.3" cy="873.6" r="0.9" fill="#e02a1a"/>
<circle cx="111.3" cy="873.0" r="0.7" fill="#ea4a24"/>
<circle cx="116.0" cy="873.7" r="1.2" fill="#ea4a24"/>
<circle cx="117.2" cy="873.4" r="1.2" fill="#e02a1a"/>
<circle cx="114.2" cy="870.5" r="1.0" fill="#e02a1a"/>
<circle cx="118.2" cy="870.7" r="0.7" fill="#e02a1a"/>
<circle cx="117.6" cy="873.8" r="0.9" fill="#e83a22"/>
<circle cx="116.7" cy="869.7" r="1.2" fill="#e02a1a"/>
<circle cx="136.6" cy="890.0" r="1.0" fill="#e83a22"/>
<circle cx="139.0" cy="888.2" r="1.1" fill="#ea4a24"/>
<circle cx="140.2" cy="889.6" r="1.0" fill="#e02a1a"/>
<circle cx="141.1" cy="892.2" r="0.6" fill="#e83a22"/>
<circle cx="136.2" cy="891.1" r="0.8" fill="#e02a1a"/>
<circle cx="138.8" cy="888.2" r="1.1" fill="#ea4a24"/>
<circle cx="134.8" cy="889.3" r="0.7" fill="#e02a1a"/>
<circle cx="142.6" cy="888.1" r="1.2" fill="#e02a1a"/>
<circle cx="134.0" cy="892.4" r="0.9" fill="#e02a1a"/>
<circle cx="135.3" cy="889.5" r="0.8" fill="#ea4a24"/>
<circle cx="137.1" cy="884.1" r="0.8" fill="#ea4a24"/>
<circle cx="133.7" cy="880.2" r="0.8" fill="#ea4a24"/>
<circle cx="160.6" cy="869.2" r="1.2" fill="#e02a1a"/>
<circle cx="162.3" cy="869.6" r="0.7" fill="#ea4a24"/>
<circle cx="162.0" cy="867.8" r="0.9" fill="#e02a1a"/>
<circle cx="158.7" cy="870.0" r="1.1" fill="#e83a22"/>
<circle cx="163.4" cy="867.3" r="0.8" fill="#e83a22"/>
<circle cx="163.0" cy="869.9" r="1.0" fill="#e83a22"/>
<circle cx="160.6" cy="867.2" r="1.2" fill="#e83a22"/>
<circle cx="163.2" cy="869.7" r="1.3" fill="#ea4a24"/>
</g>
</g>
<line x1="136.50" y1="838.30" x2="136.50" y2="892.90" stroke="#3e5050" stroke-width="0.6" />
<line x1="110.20" y1="865.00" x2="163.40" y2="865.00" stroke="#3e5050" stroke-width="0.6" />
<text x="121.20" y="853.70" font-size="9.6" text-anchor="middle" fill="#111" stroke="#111" stroke-width="0.26" font-weight="bold" >4</text>
<text x="154.00" y="853.70" font-size="9.6" text-anchor="middle" fill="#111" stroke="#111" stroke-width="0.26" font-weight="bold" >1</text>
<text x="121.20" y="881.90" font-size="9.6" text-anchor="middle" fill="#111" stroke="#111" stroke-width="0.26" font-weight="bold" >3</text>
<text x="154.00" y="881.90" font-size="9.6" text-anchor="middle" fill="#111" stroke="#111" stroke-width="0.26" font-weight="bold" >2</text>
<filter id="hf6" x="0" y="0" width="100%" height="100%" color-interpolation-filters="sRGB"><feTurbulence type="turbulence" baseFrequency="0.12" numOctaves="2" seed="106"/><feColorMatrix type="matrix" values="1 0 0 0 0 1 0 0 0 0 1 0 0 0 0 0 0 0 0 1"/><feComponentTransfer><feFuncR type="table" tableValues="0.93 0.9 0.78 0.62 0.58 0.58 0.58 0.58 0.58 0.58 0.58 0.58"/><feFuncG type="table" tableValues="0.94 0.95 0.95 0.95 0.94 0.94 0.94 0.94 0.94 0.94 0.94 0.94"/><feFuncB type="table" tableValues="0.42 0.48 0.6 0.70 0.80 0.80 0.80 0.80 0.80 0.80 0.80 0.80"/><feFuncA type="linear" slope="0" intercept="1"/></feComponentTransfer><feGaussianBlur stdDeviation="0.35"/></filter>
<clipPath id="hc6"><ellipse cx="199.4" cy="863.6" rx="25.6" ry="26.3"/></clipPath>
<ellipse cx="199.4" cy="863.6" rx="28.6" ry="29.3" fill="#80e6c4"/>
<g clip-path="url(#hc6)">
<rect x="170.8" y="834.3" width="57.2" height="58.6" filter="url(#hf6)"/>
<ellipse cx="199.4" cy="863.6" rx="24.1" ry="24.8" fill="none" stroke="#eef070" stroke-width="3" opacity="0.5" filter="url(#blur1)"/>
<g filter="url(#blur2)">
<circle cx="183.6" cy="861.3" r="1.0" fill="#f0a838" opacity="0.8"/>
<circle cx="191.5" cy="866.3" r="1.1" fill="#f0a838" opacity="0.8"/>
<circle cx="187.6" cy="862.7" r="1.2" fill="#f0a838" opacity="0.8"/>
<circle cx="188.7" cy="868.0" r="1.4" fill="#f0a838" opacity="0.8"/>
<circle cx="182.4" cy="864.2" r="1.7" fill="#f0a838" opacity="0.8"/>
<circle cx="184.7" cy="872.6" r="1.1" fill="#f0a838" opacity="0.8"/>
<circle cx="184.8" cy="872.6" r="1.1" fill="#f0a838" opacity="0.8"/>
<circle cx="181.7" cy="873.8" r="1.2" fill="#f0a838" opacity="0.8"/>
<circle cx="184.5" cy="869.0" r="1.7" fill="#f0a838" opacity="0.8"/>
<circle cx="187.2" cy="869.9" r="1.7" fill="#f0a838" opacity="0.8"/>
<circle cx="181.2" cy="870.2" r="1.5" fill="#f0a838" opacity="0.8"/>
<circle cx="181.7" cy="868.7" r="1.1" fill="#f0a838" opacity="0.8"/>
<circle cx="186.9" cy="870.4" r="1.2" fill="#f0a838" opacity="0.8"/>
<circle cx="182.2" cy="875.3" r="1.2" fill="#f0a838" opacity="0.8"/>
<circle cx="187.3" cy="870.6" r="1.1" fill="#f0a838" opacity="0.8"/>
<circle cx="189.5" cy="861.0" r="1.7" fill="#f0a838" opacity="0.8"/>
<circle cx="189.6" cy="867.3" r="1.4" fill="#f0a838" opacity="0.8"/>
<circle cx="181.6" cy="872.0" r="1.2" fill="#f0a838" opacity="0.8"/>
<circle cx="182.0" cy="868.1" r="1.6" fill="#f0a838" opacity="0.8"/>
<circle cx="188.9" cy="864.9" r="1.1" fill="#f0a838" opacity="0.8"/>
<circle cx="180.7" cy="865.5" r="1.5" fill="#f0a838" opacity="0.8"/>
<circle cx="186.8" cy="869.2" r="1.5" fill="#f0a838" opacity="0.8"/>
<circle cx="184.6" cy="864.6" r="1.7" fill="#f0a838" opacity="0.8"/>
<circle cx="179.2" cy="866.6" r="1.2" fill="#f0a838" opacity="0.8"/>
<circle cx="188.3" cy="863.5" r="1.1" fill="#f0a838" opacity="0.8"/>
<circle cx="185.8" cy="871.5" r="1.7" fill="#f0a838" opacity="0.8"/>
<circle cx="184.6" cy="867.6" r="1.7" fill="#f0a838" opacity="0.8"/>
<circle cx="182.9" cy="875.1" r="1.2" fill="#f0a838" opacity="0.8"/>
<circle cx="187.9" cy="870.5" r="1.4" fill="#f0a838" opacity="0.8"/>
<circle cx="181.5" cy="870.5" r="1.1" fill="#f0a838" opacity="0.8"/>
<circle cx="185.3" cy="869.6" r="1.9" fill="#f0a838" opacity="0.8"/>
<circle cx="182.5" cy="868.8" r="1.2" fill="#f0a838" opacity="0.8"/>
<circle cx="185.1" cy="868.4" r="1.1" fill="#f0a838" opacity="0.8"/>
<circle cx="183.3" cy="864.9" r="1.6" fill="#f0a838" opacity="0.8"/>
<circle cx="187.2" cy="866.1" r="1.7" fill="#f0a838" opacity="0.8"/>
<circle cx="187.6" cy="862.4" r="1.5" fill="#f0a838" opacity="0.8"/>
<circle cx="185.5" cy="867.7" r="1.2" fill="#f0a838" opacity="0.8"/>
<circle cx="181.5" cy="866.5" r="1.5" fill="#f0a838" opacity="0.8"/>
<circle cx="184.4" cy="869.2" r="1.3" fill="#f0a838" opacity="0.8"/>
<circle cx="187.0" cy="873.5" r="1.2" fill="#f0a838" opacity="0.8"/>
<circle cx="181.6" cy="873.9" r="1.4" fill="#f0a838" opacity="0.8"/>
<circle cx="176.7" cy="873.5" r="1.3" fill="#f0a838" opacity="0.8"/>
<circle cx="187.0" cy="879.7" r="1.3" fill="#f0a838" opacity="0.8"/>
<circle cx="184.1" cy="875.5" r="1.4" fill="#f0a838" opacity="0.8"/>
<circle cx="182.2" cy="876.4" r="1.8" fill="#f0a838" opacity="0.8"/>
<circle cx="180.5" cy="882.7" r="1.9" fill="#f0a838" opacity="0.8"/>
<circle cx="182.8" cy="875.3" r="1.9" fill="#f0a838" opacity="0.8"/>
<circle cx="178.9" cy="877.2" r="1.3" fill="#f0a838" opacity="0.8"/>
<circle cx="185.0" cy="879.8" r="1.4" fill="#f0a838" opacity="0.8"/>
<circle cx="175.6" cy="875.2" r="1.4" fill="#f0a838" opacity="0.8"/>
<circle cx="185.4" cy="878.3" r="1.1" fill="#f0a838" opacity="0.8"/>
<circle cx="178.3" cy="875.4" r="1.4" fill="#f0a838" opacity="0.8"/>
<circle cx="180.7" cy="876.5" r="1.3" fill="#f0a838" opacity="0.8"/>
<circle cx="182.0" cy="879.6" r="1.1" fill="#f0a838" opacity="0.8"/>
<circle cx="182.5" cy="883.4" r="1.9" fill="#f0a838" opacity="0.8"/>
<circle cx="177.5" cy="874.1" r="1.0" fill="#f0a838" opacity="0.8"/>
<circle cx="178.9" cy="881.7" r="1.8" fill="#f0a838" opacity="0.8"/>
<circle cx="190.1" cy="880.6" r="1.9" fill="#f0a838" opacity="0.8"/>
<circle cx="184.0" cy="879.2" r="1.8" fill="#f0a838" opacity="0.8"/>
<circle cx="180.4" cy="879.1" r="1.5" fill="#f0a838" opacity="0.8"/>
<circle cx="177.0" cy="849.2" r="1.2" fill="#f0a838" opacity="0.8"/>
<circle cx="178.1" cy="851.6" r="1.8" fill="#f0a838" opacity="0.8"/>
<circle cx="183.5" cy="848.9" r="1.1" fill="#f0a838" opacity="0.8"/>
<circle cx="181.0" cy="854.9" r="1.4" fill="#f0a838" opacity="0.8"/>
<circle cx="181.1" cy="849.3" r="1.0" fill="#f0a838" opacity="0.8"/>
<circle cx="181.8" cy="853.7" r="1.2" fill="#f0a838" opacity="0.8"/>
<circle cx="186.0" cy="890.0" r="1.0" fill="#f0a838" opacity="0.8"/>
<circle cx="192.2" cy="889.6" r="1.0" fill="#f0a838" opacity="0.8"/>
<circle cx="187.7" cy="890.1" r="1.1" fill="#f0a838" opacity="0.8"/>
<circle cx="193.8" cy="890.2" r="1.6" fill="#f0a838" opacity="0.8"/>
<circle cx="186.1" cy="887.8" r="1.8" fill="#f0a838" opacity="0.8"/>
<circle cx="187.6" cy="888.0" r="1.5" fill="#f0a838" opacity="0.8"/>
<circle cx="185.6" cy="887.8" r="1.3" fill="#f0a838" opacity="0.8"/>
<circle cx="188.5" cy="887.6" r="1.6" fill="#f0a838" opacity="0.8"/>
<circle cx="193.1" cy="884.4" r="1.8" fill="#f0a838" opacity="0.8"/>
<circle cx="192.9" cy="887.1" r="1.4" fill="#f0a838" opacity="0.8"/>
<circle cx="185.3" cy="866.6" r="0.8" fill="#ea4a24"/>
<circle cx="190.6" cy="866.7" r="1.1" fill="#e83a22"/>
<circle cx="181.5" cy="868.3" r="0.8" fill="#e02a1a"/>
<circle cx="187.3" cy="874.2" r="1.0" fill="#e83a22"/>
<circle cx="182.0" cy="870.9" r="1.2" fill="#e83a22"/>
<circle cx="180.6" cy="870.2" r="0.8" fill="#ea4a24"/>
<circle cx="180.3" cy="869.1" r="0.8" fill="#e83a22"/>
<circle cx="184.8" cy="868.0" r="1.1" fill="#ea4a24"/>
<circle cx="185.1" cy="867.0" r="0.9" fill="#ea4a24"/>
<circle cx="187.2" cy="869.4" r="0.8" fill="#e02a1a"/>
<circle cx="184.3" cy="871.8" r="1.0" fill="#e83a22"/>
<circle cx="185.8" cy="867.4" r="0.9" fill="#e83a22"/>
<circle cx="185.9" cy="872.1" r="0.8" fill="#ea4a24"/>
<circle cx="185.7" cy="864.2" r="0.7" fill="#e02a1a"/>
<circle cx="186.7" cy="870.7" r="1.2" fill="#ea4a24"/>
<circle cx="188.0" cy="868.2" r="0.9" fill="#ea4a24"/>
<circle cx="187.5" cy="864.9" r="1.1" fill="#e83a22"/>
<circle cx="180.8" cy="870.3" r="0.6" fill="#ea4a24"/>
<circle cx="180.4" cy="875.4" r="0.7" fill="#e02a1a"/>
<circle cx="182.5" cy="869.3" r="1.3" fill="#ea4a24"/>
<circle cx="184.0" cy="864.7" r="1.1" fill="#e02a1a"/>
<circle cx="184.6" cy="866.1" r="1.0" fill="#e02a1a"/>
<circle cx="184.4" cy="873.8" r="1.2" fill="#e83a22"/>
<circle cx="182.5" cy="870.3" r="0.7" fill="#ea4a24"/>
<circle cx="185.1" cy="866.7" r="1.1" fill="#e83a22"/>
<circle cx="185.0" cy="868.4" r="0.6" fill="#e83a22"/>
<circle cx="183.6" cy="868.7" r="1.0" fill="#e02a1a"/>
<circle cx="184.9" cy="864.1" r="0.7" fill="#e83a22"/>
<circle cx="185.4" cy="867.7" r="0.9" fill="#e83a22"/>
<circle cx="186.2" cy="868.0" r="1.1" fill="#e02a1a"/>
<circle cx="185.0" cy="871.1" r="0.9" fill="#e02a1a"/>
<circle cx="183.1" cy="862.9" r="1.1" fill="#e83a22"/>
<circle cx="186.3" cy="865.4" r="1.0" fill="#ea4a24"/>
<circle cx="185.4" cy="873.3" r="1.0" fill="#e83a22"/>
<circle cx="184.5" cy="869.1" r="1.1" fill="#e02a1a"/>
<circle cx="186.6" cy="872.1" r="0.8" fill="#e02a1a"/>
<circle cx="187.4" cy="869.8" r="0.9" fill="#e02a1a"/>
<circle cx="184.6" cy="868.3" r="1.1" fill="#e83a22"/>
<circle cx="182.6" cy="870.8" r="0.7" fill="#e83a22"/>
<circle cx="185.4" cy="868.1" r="0.9" fill="#e02a1a"/>
<circle cx="181.4" cy="874.7" r="0.9" fill="#ea4a24"/>
<circle cx="181.7" cy="879.2" r="0.9" fill="#e02a1a"/>
<circle cx="185.9" cy="877.1" r="0.7" fill="#ea4a24"/>
<circle cx="181.5" cy="880.5" r="1.0" fill="#e83a22"/>
<circle cx="181.3" cy="878.9" r="0.8" fill="#e02a1a"/>
<circle cx="177.7" cy="872.0" r="1.0" fill="#ea4a24"/>
<circle cx="180.5" cy="883.1" r="0.9" fill="#ea4a24"/>
<circle cx="179.0" cy="877.1" r="0.9" fill="#e02a1a"/>
<circle cx="184.9" cy="879.5" r="0.7" fill="#ea4a24"/>
<circle cx="182.4" cy="877.7" r="0.7" fill="#e83a22"/>
<circle cx="184.6" cy="877.5" r="1.1" fill="#e83a22"/>
<circle cx="177.1" cy="874.8" r="1.3" fill="#ea4a24"/>
<circle cx="180.0" cy="878.4" r="0.8" fill="#e02a1a"/>
<circle cx="181.7" cy="869.9" r="1.0" fill="#e02a1a"/>
<circle cx="179.4" cy="876.2" r="0.7" fill="#e02a1a"/>
<circle cx="184.1" cy="878.8" r="1.2" fill="#ea4a24"/>
<circle cx="183.9" cy="875.7" r="0.7" fill="#e83a22"/>
<circle cx="179.4" cy="873.4" r="0.6" fill="#e02a1a"/>
<circle cx="178.9" cy="876.2" r="0.6" fill="#ea4a24"/>
<circle cx="183.2" cy="879.0" r="1.1" fill="#e02a1a"/>
<circle cx="178.9" cy="855.5" r="1.3" fill="#e02a1a"/>
<circle cx="178.9" cy="853.1" r="1.0" fill="#ea4a24"/>
<circle cx="180.4" cy="851.4" r="0.8" fill="#e83a22"/>
<circle cx="180.3" cy="854.3" r="1.0" fill="#ea4a24"/>
<circle cx="175.5" cy="853.0" r="1.2" fill="#ea4a24"/>
<circle cx="178.9" cy="851.5" r="1.0" fill="#ea4a24"/>
<circle cx="188.7" cy="885.1" r="1.3" fill="#e83a22"/>
<circle cx="192.1" cy="886.6" r="0.9" fill="#ea4a24"/>
<circle cx="188.7" cy="886.8" r="1.1" fill="#e83a22"/>
<circle cx="186.1" cy="890.3" r="0.8" fill="#e02a1a"/>
<circle cx="191.8" cy="890.4" r="0.7" fill="#e02a1a"/>
<circle cx="190.8" cy="886.0" r="1.2" fill="#ea4a24"/>
<circle cx="189.6" cy="889.3" r="1.0" fill="#e02a1a"/>
<circle cx="185.7" cy="884.4" r="1.2" fill="#e02a1a"/>
<circle cx="189.6" cy="890.4" r="1.2" fill="#ea4a24"/>
<circle cx="191.1" cy="889.0" r="1.2" fill="#ea4a24"/>
</g>
</g>
<line x1="199.20" y1="838.30" x2="199.20" y2="892.90" stroke="#3e5050" stroke-width="0.6" />
<line x1="172.30" y1="865.00" x2="225.50" y2="865.00" stroke="#3e5050" stroke-width="0.6" />
<text x="183.30" y="853.70" font-size="9.6" text-anchor="middle" fill="#111" stroke="#111" stroke-width="0.26" font-weight="bold" >4</text>
<text x="216.00" y="853.70" font-size="9.6" text-anchor="middle" fill="#111" stroke="#111" stroke-width="0.26" font-weight="bold" >1</text>
<text x="183.30" y="881.90" font-size="9.6" text-anchor="middle" fill="#111" stroke="#111" stroke-width="0.26" font-weight="bold" >3</text>
<text x="216.00" y="881.90" font-size="9.6" text-anchor="middle" fill="#111" stroke="#111" stroke-width="0.26" font-weight="bold" >2</text>
<text x="257.00" y="655.00" font-size="14.2" text-anchor="start" fill="#000" stroke="#000" stroke-width="0.28" font-weight="bold" >L</text>
<rect x="294.60" y="670.60" width="4.80" height="4.80" fill="#707070" stroke="none" stroke-width="1" />
<text x="310.50" y="676.60" font-size="10.5" text-anchor="start" fill="#747474" stroke="#747474" stroke-width="0.28" font-weight="bold" >Saline</text>
<circle cx="297.0" cy="685.4" r="2.6" fill="#3c8fd0"/>
<text x="310.50" y="689.00" font-size="10.5" text-anchor="start" fill="#3a80c2" stroke="#3a80c2" stroke-width="0.28" font-weight="bold" >Sham</text>
<path d="M297.5,693.8 L300.9,699.8 L294.1,699.8 Z" fill="#dc5262" stroke="none" stroke-width="1" />
<text x="310.50" y="701.10" font-size="10.5" text-anchor="start" fill="#dc5262" stroke="#dc5262" stroke-width="0.28" font-weight="bold" >GPR173</text>
<line x1="297.00" y1="722.30" x2="297.00" y2="829.10" stroke="#1a1a1a" stroke-width="1.2" />
<line x1="293.40" y1="821.08" x2="297.00" y2="821.08" stroke="#1a1a1a" stroke-width="1.1" />
<text x="291.90" y="823.98" font-size="8.2" text-anchor="end" fill="#111" stroke="#111" stroke-width="0.22" font-weight="bold" >20</text>
<line x1="293.40" y1="804.70" x2="297.00" y2="804.70" stroke="#1a1a1a" stroke-width="1.1" />
<text x="291.90" y="807.60" font-size="8.2" text-anchor="end" fill="#111" stroke="#111" stroke-width="0.22" font-weight="bold" >30</text>
<line x1="293.40" y1="788.32" x2="297.00" y2="788.32" stroke="#1a1a1a" stroke-width="1.1" />
<text x="291.90" y="791.22" font-size="8.2" text-anchor="end" fill="#111" stroke="#111" stroke-width="0.22" font-weight="bold" >40</text>
<line x1="293.40" y1="771.94" x2="297.00" y2="771.94" stroke="#1a1a1a" stroke-width="1.1" />
<text x="291.90" y="774.84" font-size="8.2" text-anchor="end" fill="#111" stroke="#111" stroke-width="0.22" font-weight="bold" >50</text>
<line x1="293.40" y1="755.56" x2="297.00" y2="755.56" stroke="#1a1a1a" stroke-width="1.1" />
<text x="291.90" y="758.46" font-size="8.2" text-anchor="end" fill="#111" stroke="#111" stroke-width="0.22" font-weight="bold" >60</text>
<line x1="293.40" y1="739.18" x2="297.00" y2="739.18" stroke="#1a1a1a" stroke-width="1.1" />
<text x="291.90" y="742.08" font-size="8.2" text-anchor="end" fill="#111" stroke="#111" stroke-width="0.22" font-weight="bold" >70</text>
<line x1="293.40" y1="722.80" x2="297.00" y2="722.80" stroke="#1a1a1a" stroke-width="1.1" />
<text x="291.90" y="725.70" font-size="8.2" text-anchor="end" fill="#111" stroke="#111" stroke-width="0.22" font-weight="bold" >80</text>
<line x1="296.40" y1="829.10" x2="438.90" y2="829.10" stroke="#1a1a1a" stroke-width="1.3" />
<line x1="297.00" y1="829.10" x2="297.00" y2="832.80" stroke="#1a1a1a" stroke-width="1.1" />
<text x="297.00" y="842.80" font-size="8.2" text-anchor="middle" fill="#111" stroke="#111" stroke-width="0.22" font-weight="bold" >0</text>
<line x1="317.20" y1="829.10" x2="317.20" y2="832.80" stroke="#1a1a1a" stroke-width="1.1" />
<text x="317.20" y="842.80" font-size="8.2" text-anchor="middle" fill="#111" stroke="#111" stroke-width="0.22" font-weight="bold" >1</text>
<line x1="337.40" y1="829.10" x2="337.40" y2="832.80" stroke="#1a1a1a" stroke-width="1.1" />
<text x="337.40" y="842.80" font-size="8.2" text-anchor="middle" fill="#111" stroke="#111" stroke-width="0.22" font-weight="bold" >2</text>
<line x1="357.60" y1="829.10" x2="357.60" y2="832.80" stroke="#1a1a1a" stroke-width="1.1" />
<text x="357.60" y="842.80" font-size="8.2" text-anchor="middle" fill="#111" stroke="#111" stroke-width="0.22" font-weight="bold" >3</text>
<line x1="377.80" y1="829.10" x2="377.80" y2="832.80" stroke="#1a1a1a" stroke-width="1.1" />
<text x="377.80" y="842.80" font-size="8.2" text-anchor="middle" fill="#111" stroke="#111" stroke-width="0.22" font-weight="bold" >4</text>
<line x1="398.00" y1="829.10" x2="398.00" y2="832.80" stroke="#1a1a1a" stroke-width="1.1" />
<text x="398.00" y="842.80" font-size="8.2" text-anchor="middle" fill="#111" stroke="#111" stroke-width="0.22" font-weight="bold" >5</text>
<line x1="418.20" y1="829.10" x2="418.20" y2="832.80" stroke="#1a1a1a" stroke-width="1.1" />
<text x="418.20" y="842.80" font-size="8.2" text-anchor="middle" fill="#111" stroke="#111" stroke-width="0.22" font-weight="bold" >6</text>
<line x1="438.40" y1="829.10" x2="438.40" y2="832.80" stroke="#1a1a1a" stroke-width="1.1" />
<text x="438.40" y="842.80" font-size="8.2" text-anchor="middle" fill="#111" stroke="#111" stroke-width="0.22" font-weight="bold" >7</text>
<text x="371.90" y="853.80" font-size="11.0" text-anchor="middle" fill="#111" stroke="#111" stroke-width="0.28" font-weight="bold" >Day</text>
<text transform="translate(275.70,777.70) rotate(-90)" font-size="10.6" text-anchor="middle" fill="#111" stroke="#111" stroke-width="0.28" font-weight="bold">Escaping latency (s)</text>
<line x1="317.20" y1="773.58" x2="317.20" y2="785.04" stroke="#777" stroke-width="0.8" />
<line x1="314.80" y1="773.58" x2="319.60" y2="773.58" stroke="#777" stroke-width="0.8" />
<line x1="314.80" y1="785.04" x2="319.60" y2="785.04" stroke="#777" stroke-width="0.8" />
<line x1="337.40" y1="768.66" x2="337.40" y2="787.17" stroke="#777" stroke-width="0.8" />
<line x1="335.00" y1="768.66" x2="339.80" y2="768.66" stroke="#777" stroke-width="0.8" />
<line x1="335.00" y1="787.17" x2="339.80" y2="787.17" stroke="#777" stroke-width="0.8" />
<line x1="357.60" y1="790.78" x2="357.60" y2="795.69" stroke="#777" stroke-width="0.8" />
<line x1="355.20" y1="790.78" x2="360.00" y2="790.78" stroke="#777" stroke-width="0.8" />
<line x1="355.20" y1="795.69" x2="360.00" y2="795.69" stroke="#777" stroke-width="0.8" />
<line x1="377.80" y1="792.91" x2="377.80" y2="798.97" stroke="#777" stroke-width="0.8" />
<line x1="375.40" y1="792.91" x2="380.20" y2="792.91" stroke="#777" stroke-width="0.8" />
<line x1="375.40" y1="798.97" x2="380.20" y2="798.97" stroke="#777" stroke-width="0.8" />
<line x1="398.00" y1="798.15" x2="398.00" y2="816.98" stroke="#777" stroke-width="0.8" />
<line x1="395.60" y1="798.15" x2="400.40" y2="798.15" stroke="#777" stroke-width="0.8" />
<line x1="395.60" y1="816.98" x2="400.40" y2="816.98" stroke="#777" stroke-width="0.8" />
<line x1="418.20" y1="796.51" x2="418.20" y2="817.80" stroke="#777" stroke-width="0.8" />
<line x1="415.80" y1="796.51" x2="420.60" y2="796.51" stroke="#777" stroke-width="0.8" />
<line x1="415.80" y1="817.80" x2="420.60" y2="817.80" stroke="#777" stroke-width="0.8" />
<line x1="438.40" y1="804.70" x2="438.40" y2="810.43" stroke="#777" stroke-width="0.8" />
<line x1="436.00" y1="804.70" x2="440.80" y2="804.70" stroke="#777" stroke-width="0.8" />
<line x1="436.00" y1="810.43" x2="440.80" y2="810.43" stroke="#777" stroke-width="0.8" />
<path d="M317.20,779.47 L337.40,777.67 L357.60,793.56 L377.80,796.02 L398.00,807.48 L418.20,807.48 L438.40,807.48" fill="none" stroke="#8a8a8a" stroke-width="0.9" />
<rect x="315.00" y="777.27" width="4.40" height="4.40" fill="#8a8a8a" stroke="none" stroke-width="1" />
<rect x="335.20" y="775.47" width="4.40" height="4.40" fill="#8a8a8a" stroke="none" stroke-width="1" />
<rect x="355.40" y="791.36" width="4.40" height="4.40" fill="#8a8a8a" stroke="none" stroke-width="1" />
<rect x="375.60" y="793.82" width="4.40" height="4.40" fill="#8a8a8a" stroke="none" stroke-width="1" />
<rect x="395.80" y="805.28" width="4.40" height="4.40" fill="#8a8a8a" stroke="none" stroke-width="1" />
<rect x="416.00" y="805.28" width="4.40" height="4.40" fill="#8a8a8a" stroke="none" stroke-width="1" />
<rect x="436.20" y="805.28" width="4.40" height="4.40" fill="#8a8a8a" stroke="none" stroke-width="1" />
<line x1="317.20" y1="769.48" x2="317.20" y2="778.49" stroke="#5aa4dc" stroke-width="0.8" />
<line x1="314.80" y1="769.48" x2="319.60" y2="769.48" stroke="#5aa4dc" stroke-width="0.8" />
<line x1="314.80" y1="778.49" x2="319.60" y2="778.49" stroke="#5aa4dc" stroke-width="0.8" />
<line x1="337.40" y1="761.29" x2="337.40" y2="773.58" stroke="#5aa4dc" stroke-width="0.8" />
<line x1="335.00" y1="761.29" x2="339.80" y2="761.29" stroke="#5aa4dc" stroke-width="0.8" />
<line x1="335.00" y1="773.58" x2="339.80" y2="773.58" stroke="#5aa4dc" stroke-width="0.8" />
<line x1="357.60" y1="783.41" x2="357.60" y2="806.34" stroke="#5aa4dc" stroke-width="0.8" />
<line x1="355.20" y1="783.41" x2="360.00" y2="783.41" stroke="#5aa4dc" stroke-width="0.8" />
<line x1="355.20" y1="806.34" x2="360.00" y2="806.34" stroke="#5aa4dc" stroke-width="0.8" />
<line x1="377.80" y1="789.96" x2="377.80" y2="809.61" stroke="#5aa4dc" stroke-width="0.8" />
<line x1="375.40" y1="789.96" x2="380.20" y2="789.96" stroke="#5aa4dc" stroke-width="0.8" />
<line x1="375.40" y1="809.61" x2="380.20" y2="809.61" stroke="#5aa4dc" stroke-width="0.8" />
<line x1="398.00" y1="793.23" x2="398.00" y2="804.70" stroke="#5aa4dc" stroke-width="0.8" />
<line x1="395.60" y1="793.23" x2="400.40" y2="793.23" stroke="#5aa4dc" stroke-width="0.8" />
<line x1="395.60" y1="804.70" x2="400.40" y2="804.70" stroke="#5aa4dc" stroke-width="0.8" />
<line x1="418.20" y1="796.51" x2="418.20" y2="817.80" stroke="#5aa4dc" stroke-width="0.8" />
<line x1="415.80" y1="796.51" x2="420.60" y2="796.51" stroke="#5aa4dc" stroke-width="0.8" />
<line x1="415.80" y1="817.80" x2="420.60" y2="817.80" stroke="#5aa4dc" stroke-width="0.8" />
<line x1="438.40" y1="793.23" x2="438.40" y2="813.22" stroke="#5aa4dc" stroke-width="0.8" />
<line x1="436.00" y1="793.23" x2="440.80" y2="793.23" stroke="#5aa4dc" stroke-width="0.8" />
<line x1="436.00" y1="813.22" x2="440.80" y2="813.22" stroke="#5aa4dc" stroke-width="0.8" />
<path d="M317.20,774.07 L337.40,767.84 L357.60,794.87 L377.80,799.79 L398.00,798.80 L418.20,807.16 L438.40,803.23" fill="none" stroke="#3c8fd0" stroke-width="0.9" />
<circle cx="317.2" cy="774.1" r="2.3" fill="#3c8fd0"/>
<circle cx="337.4" cy="767.8" r="2.3" fill="#3c8fd0"/>
<circle cx="357.6" cy="794.9" r="2.3" fill="#3c8fd0"/>
<circle cx="377.8" cy="799.8" r="2.3" fill="#3c8fd0"/>
<circle cx="398.0" cy="798.8" r="2.3" fill="#3c8fd0"/>
<circle cx="418.2" cy="807.2" r="2.3" fill="#3c8fd0"/>
<circle cx="438.4" cy="803.2" r="2.3" fill="#3c8fd0"/>
<line x1="317.20" y1="766.21" x2="317.20" y2="773.58" stroke="#e6707c" stroke-width="0.8" />
<line x1="314.80" y1="766.21" x2="319.60" y2="766.21" stroke="#e6707c" stroke-width="0.8" />
<line x1="314.80" y1="773.58" x2="319.60" y2="773.58" stroke="#e6707c" stroke-width="0.8" />
<line x1="337.40" y1="769.97" x2="337.40" y2="776.85" stroke="#e6707c" stroke-width="0.8" />
<line x1="335.00" y1="769.97" x2="339.80" y2="769.97" stroke="#e6707c" stroke-width="0.8" />
<line x1="335.00" y1="776.85" x2="339.80" y2="776.85" stroke="#e6707c" stroke-width="0.8" />
<line x1="357.60" y1="780.13" x2="357.60" y2="791.60" stroke="#e6707c" stroke-width="0.8" />
<line x1="355.20" y1="780.13" x2="360.00" y2="780.13" stroke="#e6707c" stroke-width="0.8" />
<line x1="355.20" y1="791.60" x2="360.00" y2="791.60" stroke="#e6707c" stroke-width="0.8" />
<line x1="377.80" y1="783.41" x2="377.80" y2="794.87" stroke="#e6707c" stroke-width="0.8" />
<line x1="375.40" y1="783.41" x2="380.20" y2="783.41" stroke="#e6707c" stroke-width="0.8" />
<line x1="375.40" y1="794.87" x2="380.20" y2="794.87" stroke="#e6707c" stroke-width="0.8" />
<line x1="398.00" y1="778.00" x2="398.00" y2="796.51" stroke="#e6707c" stroke-width="0.8" />
<line x1="395.60" y1="778.00" x2="400.40" y2="778.00" stroke="#e6707c" stroke-width="0.8" />
<line x1="395.60" y1="796.51" x2="400.40" y2="796.51" stroke="#e6707c" stroke-width="0.8" />
<line x1="418.20" y1="799.79" x2="418.20" y2="812.89" stroke="#e6707c" stroke-width="0.8" />
<line x1="415.80" y1="799.79" x2="420.60" y2="799.79" stroke="#e6707c" stroke-width="0.8" />
<line x1="415.80" y1="812.89" x2="420.60" y2="812.89" stroke="#e6707c" stroke-width="0.8" />
<line x1="438.40" y1="789.14" x2="438.40" y2="804.70" stroke="#e6707c" stroke-width="0.8" />
<line x1="436.00" y1="789.14" x2="440.80" y2="789.14" stroke="#e6707c" stroke-width="0.8" />
<line x1="436.00" y1="804.70" x2="440.80" y2="804.70" stroke="#e6707c" stroke-width="0.8" />
<path d="M317.20,770.14 L337.40,773.25 L357.60,786.03 L377.80,789.79 L398.00,787.66 L418.20,806.67 L438.40,799.95" fill="none" stroke="#e25060" stroke-width="0.9" />
<path d="M317.20,767.54 L319.80,772.04 L314.60,772.04 Z" fill="#e25060" stroke="none" stroke-width="1" />
<path d="M337.40,770.65 L340.00,775.15 L334.80,775.15 Z" fill="#e25060" stroke="none" stroke-width="1" />
<path d="M357.60,783.43 L360.20,787.93 L355.00,787.93 Z" fill="#e25060" stroke="none" stroke-width="1" />
<path d="M377.80,787.19 L380.40,791.69 L375.20,791.69 Z" fill="#e25060" stroke="none" stroke-width="1" />
<path d="M398.00,785.06 L400.60,789.56 L395.40,789.56 Z" fill="#e25060" stroke="none" stroke-width="1" />
<path d="M418.20,804.07 L420.80,808.57 L415.60,808.57 Z" fill="#e25060" stroke="none" stroke-width="1" />
<path d="M438.40,797.35 L441.00,801.85 L435.80,801.85 Z" fill="#e25060" stroke="none" stroke-width="1" />
<path d="M317.20,709.00 L317.20,705.50 L438.40,705.50 L438.40,709.00" fill="none" stroke="#8a8a8a" stroke-width="0.8" />
<path d="M317.20,719.00 L317.20,715.60 L438.40,715.60 L438.40,719.00" fill="none" stroke="#7ab8e4" stroke-width="0.8" />
<path d="M317.20,731.00 L317.20,725.60 L438.40,725.60 L438.40,780.70" fill="none" stroke="#e46a76" stroke-width="0.8" />
<path d="M317.20,741.50 L317.20,738.50 L418.20,738.50 L418.20,741.50" fill="none" stroke="#8a8a8a" stroke-width="0.8" />
<path d="M317.20,751.50 L317.20,748.40 L418.20,748.40 L418.20,751.50" fill="none" stroke="#7ab8e4" stroke-width="0.8" />
<path d="M317.20,762.00 L317.20,758.30 L418.20,758.30 L418.20,791.30" fill="none" stroke="#e46a76" stroke-width="0.8" />
<text x="378.10" y="706.00" font-size="9.2" text-anchor="middle" fill="#6a6a6a" stroke="#6a6a6a" stroke-width="0.25" font-weight="bold" >#</text>
<text x="378.10" y="716.00" font-size="9.2" text-anchor="middle" fill="#5aa6dc" stroke="#5aa6dc" stroke-width="0.25" font-weight="bold" >#</text>
<text x="378.10" y="726.60" font-size="9.2" text-anchor="middle" fill="#e25060" stroke="#e25060" stroke-width="0.25" font-weight="bold" >#</text>
<text x="364.00" y="741.30" font-size="13" text-anchor="middle" fill="#6a6a6a" stroke="#6a6a6a" stroke-width="0.28" font-weight="bold" >*</text>
<text x="364.00" y="751.30" font-size="13" text-anchor="middle" fill="#5aa6dc" stroke="#5aa6dc" stroke-width="0.28" font-weight="bold" >**</text>
<text x="364.00" y="761.20" font-size="13" text-anchor="middle" fill="#e25060" stroke="#e25060" stroke-width="0.28" font-weight="bold" >**</text>
<line x1="447.50" y1="800.00" x2="447.50" y2="813.80" stroke="#111" stroke-width="0.9" />
<text transform="translate(457.9,805.3) rotate(-90)" font-size="10.2" text-anchor="middle" fill="#111" stroke="#111" stroke-width="0.28" font-weight="bold">N.S.</text>
<text x="452.60" y="655.00" font-size="14.2" text-anchor="start" fill="#000" stroke="#000" stroke-width="0.28" font-weight="bold" >M</text>
<rect x="513.60" y="681.00" width="12.40" height="4.60" fill="#6e6e6e" stroke="none" stroke-width="1" />
<text x="534.00" y="686.90" font-size="10.5" text-anchor="start" fill="#747474" stroke="#747474" stroke-width="0.28" font-weight="bold" >Saline</text>
<rect x="513.60" y="692.60" width="12.40" height="4.60" fill="#3f88c5" stroke="none" stroke-width="1" />
<text x="534.00" y="698.60" font-size="10.5" text-anchor="start" fill="#3a86c8" stroke="#3a86c8" stroke-width="0.28" font-weight="bold" >Sham</text>
<rect x="513.60" y="705.10" width="12.40" height="4.60" fill="#e25060" stroke="none" stroke-width="1" />
<text x="534.00" y="711.10" font-size="10.5" text-anchor="start" fill="#e25060" stroke="#e25060" stroke-width="0.28" font-weight="bold" >GPR173</text>
<line x1="507.70" y1="718.40" x2="507.70" y2="822.30" stroke="#1a1a1a" stroke-width="1.1" />
<line x1="504.20" y1="822.30" x2="507.70" y2="822.30" stroke="#1a1a1a" stroke-width="1.0" />
<text x="503.00" y="825.00" font-size="7.8" text-anchor="end" fill="#111" stroke="#111" stroke-width="0.21" font-weight="bold" >0</text>
<line x1="504.20" y1="787.83" x2="507.70" y2="787.83" stroke="#1a1a1a" stroke-width="1.0" />
<text x="503.00" y="790.53" font-size="7.8" text-anchor="end" fill="#111" stroke="#111" stroke-width="0.21" font-weight="bold" >20</text>
<line x1="504.20" y1="753.37" x2="507.70" y2="753.37" stroke="#1a1a1a" stroke-width="1.0" />
<text x="503.00" y="756.07" font-size="7.8" text-anchor="end" fill="#111" stroke="#111" stroke-width="0.21" font-weight="bold" >40</text>
<line x1="504.20" y1="718.90" x2="507.70" y2="718.90" stroke="#1a1a1a" stroke-width="1.0" />
<text x="503.00" y="721.60" font-size="7.8" text-anchor="end" fill="#111" stroke="#111" stroke-width="0.21" font-weight="bold" >60</text>
<line x1="507.20" y1="822.30" x2="665.30" y2="822.30" stroke="#1a1a1a" stroke-width="1.2" />
<line x1="526.30" y1="822.30" x2="526.30" y2="825.50" stroke="#1a1a1a" stroke-width="1.0" />
<text x="526.30" y="835.00" font-size="8.0" text-anchor="middle" fill="#111" stroke="#111" stroke-width="0.22" font-weight="bold" >1</text>
<line x1="566.00" y1="822.30" x2="566.00" y2="825.50" stroke="#1a1a1a" stroke-width="1.0" />
<text x="566.00" y="835.00" font-size="8.0" text-anchor="middle" fill="#111" stroke="#111" stroke-width="0.22" font-weight="bold" >2</text>
<line x1="605.70" y1="822.30" x2="605.70" y2="825.50" stroke="#1a1a1a" stroke-width="1.0" />
<text x="605.70" y="835.00" font-size="8.0" text-anchor="middle" fill="#111" stroke="#111" stroke-width="0.22" font-weight="bold" >3</text>
<line x1="645.00" y1="822.30" x2="645.00" y2="825.50" stroke="#1a1a1a" stroke-width="1.0" />
<text x="645.00" y="835.00" font-size="8.0" text-anchor="middle" fill="#111" stroke="#111" stroke-width="0.22" font-weight="bold" >4</text>
<text x="592.30" y="843.60" font-size="11.0" text-anchor="middle" fill="#111" stroke="#111" stroke-width="0.28" font-weight="bold" >Quadrant</text>
<text transform="translate(489.00,773.20) rotate(-90)" font-size="10.6" text-anchor="middle" fill="#111" stroke="#111" stroke-width="0.28" font-weight="bold">Occupancy (%)</text>
<rect x="512.90" y="793.87" width="6.10" height="28.43" fill="#6b6b6b" stroke="#3a3a3a" stroke-width="0.8" />
<rect x="524.20" y="781.80" width="5.90" height="40.50" fill="#3f88c5" stroke="#245a88" stroke-width="0.8" />
<rect x="535.00" y="797.31" width="5.60" height="24.99" fill="#f27f88" stroke="#c84050" stroke-width="0.8" />
<rect x="553.10" y="779.73" width="5.60" height="42.57" fill="#6b6b6b" stroke="#3a3a3a" stroke-width="0.8" />
<rect x="563.60" y="788.87" width="5.60" height="33.43" fill="#3f88c5" stroke="#245a88" stroke-width="0.8" />
<rect x="574.70" y="775.94" width="5.60" height="46.36" fill="#f27f88" stroke="#c84050" stroke-width="0.8" />
<rect x="592.20" y="756.30" width="6.10" height="66.00" fill="#6b6b6b" stroke="#3a3a3a" stroke-width="0.8" />
<rect x="603.30" y="774.22" width="5.80" height="48.08" fill="#3f88c5" stroke="#245a88" stroke-width="0.8" />
<rect x="614.10" y="752.16" width="6.10" height="70.14" fill="#f27f88" stroke="#c84050" stroke-width="0.8" />
<rect x="631.60" y="788.18" width="6.70" height="34.12" fill="#6b6b6b" stroke="#3a3a3a" stroke-width="0.8" />
<rect x="642.70" y="774.22" width="6.10" height="48.08" fill="#3f88c5" stroke="#245a88" stroke-width="0.8" />
<rect x="653.80" y="793.00" width="6.10" height="29.30" fill="#f27f88" stroke="#c84050" stroke-width="0.8" />
<line x1="515.95" y1="787.32" x2="515.95" y2="793.87" stroke="#8a8a8a" stroke-width="0.8" />
<line x1="514.15" y1="787.32" x2="517.75" y2="787.32" stroke="#8a8a8a" stroke-width="0.8" />
<line x1="515.95" y1="793.87" x2="515.95" y2="801.10" stroke="#222" stroke-width="0.8" />
<line x1="514.15" y1="801.10" x2="517.75" y2="801.10" stroke="#222" stroke-width="0.8" />
<line x1="527.15" y1="773.70" x2="527.15" y2="781.80" stroke="#7a9ab8" stroke-width="0.8" />
<line x1="525.35" y1="773.70" x2="528.95" y2="773.70" stroke="#7a9ab8" stroke-width="0.8" />
<line x1="527.15" y1="781.80" x2="527.15" y2="789.73" stroke="#222" stroke-width="0.8" />
<line x1="525.35" y1="789.73" x2="528.95" y2="789.73" stroke="#222" stroke-width="0.8" />
<line x1="537.80" y1="791.62" x2="537.80" y2="797.31" stroke="#e49aa2" stroke-width="0.8" />
<line x1="536.00" y1="791.62" x2="539.60" y2="791.62" stroke="#e49aa2" stroke-width="0.8" />
<line x1="537.80" y1="797.31" x2="537.80" y2="802.83" stroke="#222" stroke-width="0.8" />
<line x1="536.00" y1="802.83" x2="539.60" y2="802.83" stroke="#222" stroke-width="0.8" />
<line x1="555.90" y1="771.46" x2="555.90" y2="779.73" stroke="#8a8a8a" stroke-width="0.8" />
<line x1="554.10" y1="771.46" x2="557.70" y2="771.46" stroke="#8a8a8a" stroke-width="0.8" />
<line x1="555.90" y1="779.73" x2="555.90" y2="788.87" stroke="#222" stroke-width="0.8" />
<line x1="554.10" y1="788.87" x2="557.70" y2="788.87" stroke="#222" stroke-width="0.8" />
<line x1="566.40" y1="781.46" x2="566.40" y2="788.87" stroke="#7a9ab8" stroke-width="0.8" />
<line x1="564.60" y1="781.46" x2="568.20" y2="781.46" stroke="#7a9ab8" stroke-width="0.8" />
<line x1="566.40" y1="788.87" x2="566.40" y2="795.93" stroke="#222" stroke-width="0.8" />
<line x1="564.60" y1="795.93" x2="568.20" y2="795.93" stroke="#222" stroke-width="0.8" />
<line x1="577.50" y1="767.50" x2="577.50" y2="775.94" stroke="#e49aa2" stroke-width="0.8" />
<line x1="575.70" y1="767.50" x2="579.30" y2="767.50" stroke="#e49aa2" stroke-width="0.8" />
<line x1="577.50" y1="775.94" x2="577.50" y2="782.49" stroke="#222" stroke-width="0.8" />
<line x1="575.70" y1="782.49" x2="579.30" y2="782.49" stroke="#222" stroke-width="0.8" />
<line x1="595.25" y1="744.58" x2="595.25" y2="756.30" stroke="#8a8a8a" stroke-width="0.8" />
<line x1="593.45" y1="744.58" x2="597.05" y2="744.58" stroke="#8a8a8a" stroke-width="0.8" />
<line x1="595.25" y1="756.30" x2="595.25" y2="767.67" stroke="#222" stroke-width="0.8" />
<line x1="593.45" y1="767.67" x2="597.05" y2="767.67" stroke="#222" stroke-width="0.8" />
<line x1="606.20" y1="767.50" x2="606.20" y2="774.22" stroke="#7a9ab8" stroke-width="0.8" />
<line x1="604.40" y1="767.50" x2="608.00" y2="767.50" stroke="#7a9ab8" stroke-width="0.8" />
<line x1="606.20" y1="774.22" x2="606.20" y2="780.60" stroke="#222" stroke-width="0.8" />
<line x1="604.40" y1="780.60" x2="608.00" y2="780.60" stroke="#222" stroke-width="0.8" />
<line x1="617.15" y1="739.92" x2="617.15" y2="752.16" stroke="#e49aa2" stroke-width="0.8" />
<line x1="615.35" y1="739.92" x2="618.95" y2="739.92" stroke="#e49aa2" stroke-width="0.8" />
<line x1="617.15" y1="752.16" x2="617.15" y2="764.74" stroke="#222" stroke-width="0.8" />
<line x1="615.35" y1="764.74" x2="618.95" y2="764.74" stroke="#222" stroke-width="0.8" />
<line x1="634.95" y1="783.35" x2="634.95" y2="788.18" stroke="#8a8a8a" stroke-width="0.8" />
<line x1="633.15" y1="783.35" x2="636.75" y2="783.35" stroke="#8a8a8a" stroke-width="0.8" />
<line x1="634.95" y1="788.18" x2="634.95" y2="792.66" stroke="#222" stroke-width="0.8" />
<line x1="633.15" y1="792.66" x2="636.75" y2="792.66" stroke="#222" stroke-width="0.8" />
<line x1="645.75" y1="761.12" x2="645.75" y2="774.22" stroke="#7a9ab8" stroke-width="0.8" />
<line x1="643.95" y1="761.12" x2="647.55" y2="761.12" stroke="#7a9ab8" stroke-width="0.8" />
<line x1="645.75" y1="774.22" x2="645.75" y2="786.28" stroke="#222" stroke-width="0.8" />
<line x1="643.95" y1="786.28" x2="647.55" y2="786.28" stroke="#222" stroke-width="0.8" />
<line x1="656.85" y1="789.56" x2="656.85" y2="793.00" stroke="#e49aa2" stroke-width="0.8" />
<line x1="655.05" y1="789.56" x2="658.65" y2="789.56" stroke="#e49aa2" stroke-width="0.8" />
<line x1="656.85" y1="793.00" x2="656.85" y2="797.31" stroke="#222" stroke-width="0.8" />
<line x1="655.05" y1="797.31" x2="658.65" y2="797.31" stroke="#222" stroke-width="0.8" />
<line x1="591.50" y1="736.40" x2="620.10" y2="736.40" stroke="#888" stroke-width="1.3" />
<text x="606.20" y="732.70" font-size="10.0" text-anchor="middle" fill="#111" stroke="#111" stroke-width="0.27" font-weight="bold" >N.S.</text>
</svg>
</body></html>
